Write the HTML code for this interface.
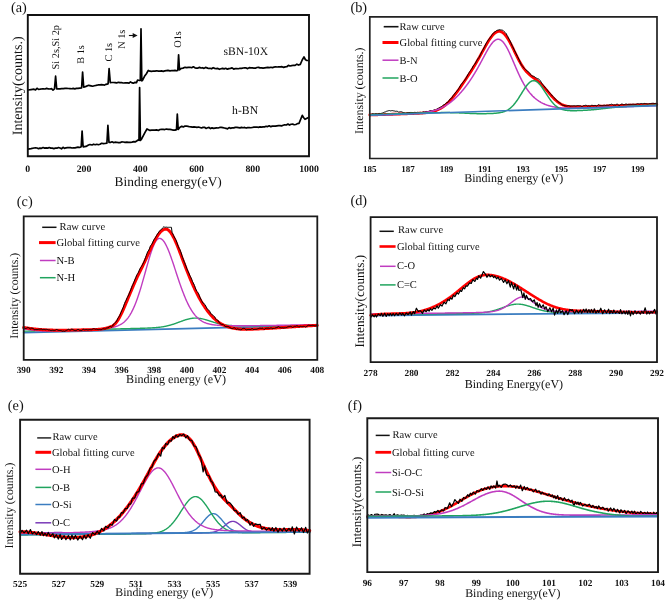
<!DOCTYPE html>
<html><head><meta charset="utf-8"><title>XPS spectra</title>
<style>
html,body{margin:0;padding:0;background:#fff;width:669px;height:602px;overflow:hidden;}
svg{display:block;will-change:transform;}
svg text{font-family:"Liberation Serif",serif;text-rendering:geometricPrecision;}
</style></head><body>
<svg width="669" height="602" viewBox="0 0 669 602">
<rect width="669" height="602" fill="#fff"/>
<text x="11" y="12" font-size="14.3" text-anchor="start" font-weight="normal" fill="#111" >(a)</text>
<path d="M28,90 L31,89.6 L34,89.2 L35.5,89.91 L37,88.31 L38.5,89.35 L40,89.2 L41.67,88.97 L43.33,88.97 L45,89.02 L46.67,88.36 L48.33,88.95 L50,89 L51.5,88.66 L53,90.1 L54.5,88.9 L55.6,76.2 L56.7,88.9 L58.35,88.93 L60,88.8 L61.67,88.64 L63.33,88.63 L65,88.47 L66.67,88.3 L68.33,88.5 L70,88.6 L71.6,88.73 L73.2,88.44 L74.8,88.82 L76.4,88.37 L78,88.4 L79.8,88.21 L81.6,88 L82.6,72.1 L83.7,87.2 L86,86.4 L88.7,85.3 L91,85.8 L92.67,86.21 L94.33,85.72 L96,85.4 L98,84.97 L100,84.9 L101.5,84.69 L103,84.79 L104.5,85.13 L106,84.3 L108.1,83.8 L109.1,68.6 L110.3,82.6 L111.87,82.51 L113.43,82.51 L115,82.6 L116.67,82.95 L118.33,82.29 L120,82.6 L121.5,82.55 L123,83.01 L124.5,82.95 L126,82.8 L127.5,82.86 L129,83.08 L130.5,81.89 L132,82.9 L133.5,83.16 L135,82.36 L136.5,82.6 L137.6,80 L139.4,80.5 L140.3,80.3 L141,28.8 L141.8,80.8 L142.6,80.2 L144.5,76.35 L146.4,73.76 L148.3,70.4 L150,71.2 L151.67,71.45 L153.33,71.04 L155,71.2 L156.67,70.79 L158.33,71.14 L160,71.1 L161.6,70.94 L163.2,71.31 L164.8,70.94 L166.4,70.61 L168,70.4 L170,70.84 L172,70.5 L173.5,70.53 L175,70.38 L176.5,70.8 L177.8,70.4 L178.6,54.8 L179.5,69.8 L181,68.5 L183,68.1 L185,67.3 L186.67,67.59 L188.33,67.39 L190,67.28 L191.67,67.71 L193.33,66.84 L195,67.8 L196.5,68.09 L198,68.07 L199.5,67.38 L201,68.02 L202.5,67.71 L204,68.37 L205.5,67.44 L207,67.88 L208.5,68.5 L210,68.3 L211.57,68.78 L213.14,67.69 L214.71,68.34 L216.29,68.7 L217.86,68.44 L219.43,69.29 L221,68.8 L222.58,68.34 L224.17,68.84 L225.75,68.31 L227.33,69.13 L228.92,68.58 L230.5,68.42 L232.08,67.91 L233.67,69.06 L235.25,68.69 L236.83,68.65 L238.42,68.74 L240,68.3 L241.54,68.39 L243.08,68.01 L244.62,67.93 L246.15,67.9 L247.69,68.63 L249.23,67.6 L250.77,67.88 L252.31,67.94 L253.85,68.1 L255.38,68.19 L256.92,67.52 L258.46,67.33 L260,67.9 L261.56,67.82 L263.11,68.17 L264.67,67.93 L266.22,67.66 L267.78,67.4 L269.33,67.54 L270.89,67.27 L272.44,67.56 L274,67.2 L275.6,66.8 L277.2,67.01 L278.8,66.8 L280.4,66.91 L282,66.68 L283.6,67.37 L285.2,66.88 L286.8,66.76 L288.4,65.41 L290,66 L291.72,65.61 L293.43,65.25 L295.15,65.39 L296.87,64.14 L298.58,65.08 L300.3,64.4 L302.2,60 L304,56.9 L305.3,59.5 L306.5,60.4 L309,60.5" fill="none" stroke="#000" stroke-width="1.7" stroke-linejoin="round" stroke-linecap="round" />
<path d="M28,149.1 L31,148.6 L34,148 L35.5,147.8 L37,147.99 L38.5,148.66 L40,148.1 L41.54,148.32 L43.08,147.51 L44.62,148.08 L46.15,147.85 L47.69,148.11 L49.23,147.49 L50.77,148.13 L52.31,148.12 L53.85,148.58 L55.38,148.13 L56.92,148.19 L58.46,147.49 L60,148 L61.5,148.77 L63,147.29 L64.5,148.33 L66,147.8 L67.5,147.59 L69,147.65 L70.5,147.62 L72,147.97 L73.5,147.78 L75,147.8 L78,147.2 L79.6,147.52 L81.2,146.8 L82.1,131 L83.1,146.8 L86,146.4 L88.5,145 L90,144.5 L92,145 L93.6,144.22 L95.2,144.72 L96.8,144.27 L98.4,144.71 L100,144.3 L101.67,143.29 L103.33,143.65 L105,143.5 L106.9,143.2 L107.9,125.4 L109,142.4 L110.5,142.42 L112,141.78 L113.5,142.59 L115,142.2 L116.67,142.28 L118.33,142.59 L120,142.59 L121.67,141.92 L123.33,142 L125,142.3 L126.75,142.18 L128.5,142.46 L130.25,142.45 L132,142.1 L133.75,141.7 L135.5,141.8 L137,140.8 L138.6,139.6 L139,140.3 L139.6,87.5 L140.4,140.4 L141.5,139.2 L143.33,135.59 L145.17,132.12 L147,129 L150,130.4 L151.67,130.13 L153.33,130.18 L155,130.2 L156.67,129.92 L158.33,130.45 L160,129.5 L161.6,129.28 L163.2,129.32 L164.8,129.54 L166.4,129.01 L168,129.3 L169.75,129.37 L171.5,129.7 L173.25,130.17 L175,130.1 L176.5,129.6 L177.3,114.1 L178.2,129.4 L180,127.2 L181.67,126.34 L183.33,126.88 L185,126 L186.5,126.03 L188,126.36 L189.5,126.75 L191,126.83 L192.5,127.12 L194,126.96 L195.5,127.04 L197,127.31 L198.5,127 L200,127.5 L201.5,127.98 L203,127.35 L204.5,127.24 L206,128.46 L207.5,127.75 L209,127.45 L210.5,128.57 L212,127.86 L213.5,128.41 L215,128.1 L216.56,127.8 L218.12,127.99 L219.69,127.47 L221.25,127.38 L222.81,127.7 L224.38,128 L225.94,128.29 L227.5,128.85 L229.06,127.63 L230.62,128.33 L232.19,127.75 L233.75,127.9 L235.31,127.42 L236.88,127.41 L238.44,127.64 L240,127.9 L241.54,127.41 L243.08,127.74 L244.62,127.42 L246.15,128.03 L247.69,127.57 L249.23,127.5 L250.77,127.76 L252.31,127.47 L253.85,127.19 L255.38,127.1 L256.92,127.01 L258.46,127.35 L260,126.9 L261.54,127.07 L263.08,126.83 L264.62,126.88 L266.15,126.31 L267.69,126.58 L269.23,125.81 L270.77,126.67 L272.31,126.13 L273.85,126.06 L275.38,126.11 L276.92,125.8 L278.46,125.61 L280,125.6 L281.58,125.83 L283.17,125.27 L284.75,124.73 L286.33,125.02 L287.92,124.09 L289.5,125.08 L291.08,124.26 L292.67,124.15 L294.25,124.74 L295.83,124.52 L297.42,123.62 L299,123.4 L301,118.5 L302.3,115.3 L303.5,117.5 L305,119.3 L307,118.2 L309,117.2" fill="none" stroke="#000" stroke-width="1.7" stroke-linejoin="round" stroke-linecap="round" />
<path d="M27.8,15 L309,15 L309,156.3 L27.8,156.3 Z" fill="none" stroke="#111" stroke-width="1.9" stroke-linejoin="miter"/>
<text x="59.5" y="47.2" font-size="10.3" text-anchor="middle" font-weight="normal" fill="#111" transform="rotate(-90 59.5 47.2)" >Si 2s,Si 2p</text>
<text x="84.2" y="54.5" font-size="10.3" text-anchor="middle" font-weight="normal" fill="#111" transform="rotate(-90 84.2 54.5)" >B 1s</text>
<text x="112.2" y="52.2" font-size="10.3" text-anchor="middle" font-weight="normal" fill="#111" transform="rotate(-90 112.2 52.2)" >C 1s</text>
<text x="124.6" y="39.2" font-size="10.3" text-anchor="middle" font-weight="normal" fill="#111" transform="rotate(-90 124.6 39.2)" >N 1s</text>
<text x="181.4" y="39.5" font-size="10.3" text-anchor="middle" font-weight="normal" fill="#111" transform="rotate(-90 181.4 39.5)" >O1s</text>
<path d="M128.9,35.5 L134,35.5" stroke="#111" stroke-width="1.1"/>
<path d="M137.6,35.5 L132.7,33.0 L132.7,38.0 Z" fill="#111"/>
<text x="223.6" y="55" font-size="11.6" text-anchor="start" font-weight="normal" fill="#111" >sBN-10X</text>
<text x="232.1" y="113.5" font-size="11.7" text-anchor="start" font-weight="normal" fill="#111" >h-BN</text>
<text x="27.8" y="171.6" font-size="9.8" text-anchor="middle" font-weight="bold" fill="#111" >0</text>
<text x="84.04" y="171.6" font-size="9.8" text-anchor="middle" font-weight="bold" fill="#111" >200</text>
<text x="140.28" y="171.6" font-size="9.8" text-anchor="middle" font-weight="bold" fill="#111" >400</text>
<text x="196.52" y="171.6" font-size="9.8" text-anchor="middle" font-weight="bold" fill="#111" >600</text>
<text x="252.76" y="171.6" font-size="9.8" text-anchor="middle" font-weight="bold" fill="#111" >800</text>
<text x="309" y="171.6" font-size="9.8" text-anchor="middle" font-weight="bold" fill="#111" >1000</text>
<text x="168.2" y="185.5" font-size="13.4" text-anchor="middle" font-weight="normal" fill="#111" >Binding energy(eV)</text>
<text x="22" y="85.8" font-size="14.1" text-anchor="middle" font-weight="normal" fill="#111" transform="rotate(-90 22 85.8)" >Intensity(counts.)</text>
<text x="350.4" y="12" font-size="14.3" text-anchor="start" font-weight="normal" fill="#111" >(b)</text>
<path d="M369.8,115.01 L370.3,114.99 L370.8,114.97 L371.3,114.96 L371.8,114.94 L372.3,114.92 L372.8,114.91 L373.3,114.89 L373.8,114.87 L374.3,114.85 L374.8,114.84 L375.3,114.82 L375.8,114.8 L376.3,114.79 L376.8,114.77 L377.3,114.75 L377.8,114.74 L378.3,114.72 L378.8,114.7 L379.3,114.69 L379.8,114.67 L380.3,114.65 L380.8,114.63 L381.3,114.62 L381.8,114.6 L382.3,114.58 L382.8,114.57 L383.3,114.55 L383.8,114.53 L384.3,114.52 L384.8,114.5 L385.3,114.48 L385.8,114.47 L386.3,114.45 L386.8,114.43 L387.3,114.42 L387.8,114.4 L388.3,114.38 L388.8,114.36 L389.3,114.35 L389.8,114.33 L390.3,114.31 L390.8,114.3 L391.3,114.28 L391.8,114.26 L392.3,114.25 L392.8,114.23 L393.3,114.21 L393.8,114.2 L394.3,114.18 L394.8,114.16 L395.3,114.14 L395.8,114.13 L396.3,114.11 L396.8,114.09 L397.3,114.08 L397.8,114.06 L398.3,114.04 L398.8,114.03 L399.3,114.01 L399.8,113.99 L400.3,113.98 L400.8,113.96 L401.3,113.94 L401.8,113.92 L402.3,113.91 L402.8,113.89 L403.3,113.87 L403.8,113.86 L404.3,113.84 L404.8,113.82 L405.3,113.8 L405.8,113.79 L406.3,113.77 L406.8,113.75 L407.3,113.73 L407.8,113.72 L408.3,113.7 L408.8,113.68 L409.3,113.66 L409.8,113.64 L410.3,113.63 L410.8,113.61 L411.3,113.59 L411.8,113.57 L412.3,113.55 L412.8,113.53 L413.3,113.51 L413.8,113.49 L414.3,113.47 L414.8,113.45 L415.3,113.43 L415.8,113.41 L416.3,113.38 L416.8,113.36 L417.3,113.33 L417.8,113.31 L418.3,113.28 L418.8,113.26 L419.3,113.23 L419.8,113.2 L420.3,113.17 L420.8,113.14 L421.3,113.1 L421.8,113.07 L422.3,113.03 L422.8,113 L423.3,112.95 L423.8,112.91 L424.3,112.87 L424.8,112.82 L425.3,112.77 L425.8,112.71 L426.3,112.66 L426.8,112.6 L427.3,112.53 L427.8,112.46 L428.3,112.39 L428.8,112.32 L429.3,112.23 L429.8,112.15 L430.3,112.06 L430.8,111.96 L431.3,111.85 L431.8,111.74 L432.3,111.63 L432.8,111.5 L433.3,111.37 L433.8,111.23 L434.3,111.09 L434.8,110.93 L435.3,110.77 L435.8,110.59 L436.3,110.41 L436.8,110.22 L437.3,110.02 L437.8,109.8 L438.3,109.58 L438.8,109.34 L439.3,109.09 L439.8,108.84 L440.3,108.56 L440.8,108.28 L441.3,107.98 L441.8,107.67 L442.3,107.35 L442.8,107.01 L443.3,106.66 L443.8,106.3 L444.3,105.92 L444.8,105.53 L445.3,105.12 L445.8,104.7 L446.3,104.27 L446.8,103.82 L447.3,103.36 L447.8,102.89 L448.3,102.4 L448.8,101.9 L449.3,101.38 L449.8,100.85 L450.3,100.31 L450.8,99.76 L451.3,99.19 L451.8,98.61 L452.3,98.02 L452.8,97.42 L453.3,96.81 L453.8,96.19 L454.3,95.56 L454.8,94.92 L455.3,94.27 L455.8,93.61 L456.3,92.95 L456.8,92.28 L457.3,91.6 L457.8,90.91 L458.3,90.22 L458.8,89.52 L459.3,88.82 L459.8,88.11 L460.3,87.4 L460.8,86.68 L461.3,85.96 L461.8,85.24 L462.3,84.51 L462.8,83.78 L463.3,83.05 L463.8,82.31 L464.3,81.57 L464.8,80.83 L465.3,80.09 L465.8,79.34 L466.3,78.59 L466.8,77.83 L467.3,77.08 L467.8,76.32 L468.3,75.56 L468.8,74.79 L469.3,74.02 L469.8,73.24 L470.3,72.46 L470.8,71.68 L471.3,70.89 L471.8,70.09 L472.3,69.29 L472.8,68.48 L473.3,67.67 L473.8,66.85 L474.3,66.02 L474.8,65.19 L475.3,64.35 L475.8,63.5 L476.3,62.65 L476.8,61.79 L477.3,60.92 L477.8,60.04 L478.3,59.16 L478.8,58.28 L479.3,57.38 L479.8,56.49 L480.3,55.58 L480.8,54.68 L481.3,53.77 L481.8,52.86 L482.3,51.95 L482.8,51.03 L483.3,50.12 L483.8,49.21 L484.3,48.31 L484.8,47.41 L485.3,46.52 L485.8,45.63 L486.3,44.76 L486.8,43.89 L487.3,43.04 L487.8,42.21 L488.3,41.39 L488.8,40.59 L489.3,39.81 L489.8,39.06 L490.3,38.32 L490.8,37.62 L491.3,36.94 L491.8,36.3 L492.3,35.68 L492.8,35.1 L493.3,34.56 L493.8,34.05 L494.3,33.58 L494.8,33.16 L495.3,32.77 L495.8,32.43 L496.3,32.13 L496.8,31.88 L497.3,31.68 L497.8,31.52 L498.3,31.42 L498.8,31.36 L499.3,31.35 L499.8,31.4 L500.3,31.49 L500.8,31.64 L501.3,31.83 L501.8,32.08 L502.3,32.38 L502.8,32.72 L503.3,33.12 L503.8,33.56 L504.3,34.05 L504.8,34.59 L505.3,35.17 L505.8,35.8 L506.3,36.46 L506.8,37.17 L507.3,37.91 L507.8,38.69 L508.3,39.5 L508.8,40.35 L509.3,41.22 L509.8,42.12 L510.3,43.05 L510.8,44 L511.3,44.97 L511.8,45.95 L512.3,46.95 L512.8,47.96 L513.3,48.98 L513.8,50.01 L514.3,51.03 L514.8,52.07 L515.3,53.09 L515.8,54.12 L516.3,55.14 L516.8,56.15 L517.3,57.14 L517.8,58.13 L518.3,59.1 L518.8,60.05 L519.3,60.98 L519.8,61.9 L520.3,62.79 L520.8,63.66 L521.3,64.5 L521.8,65.32 L522.3,66.11 L522.8,66.88 L523.3,67.62 L523.8,68.33 L524.3,69.02 L524.8,69.67 L525.3,70.31 L525.8,70.91 L526.3,71.49 L526.8,72.05 L527.3,72.58 L527.8,73.09 L528.3,73.58 L528.8,74.05 L529.3,74.5 L529.8,74.94 L530.3,75.36 L530.8,75.77 L531.3,76.16 L531.8,76.55 L532.3,76.93 L532.8,77.31 L533.3,77.68 L533.8,78.05 L534.3,78.41 L534.8,78.78 L535.3,79.16 L535.8,79.54 L536.3,79.92 L536.8,80.31 L537.3,80.71 L537.8,81.12 L538.3,81.54 L538.8,81.97 L539.3,82.41 L539.8,82.86 L540.3,83.33 L540.8,83.81 L541.3,84.3 L541.8,84.81 L542.3,85.32 L542.8,85.85 L543.3,86.39 L543.8,86.94 L544.3,87.5 L544.8,88.07 L545.3,88.65 L545.8,89.23 L546.3,89.82 L546.8,90.41 L547.3,91.01 L547.8,91.6 L548.3,92.2 L548.8,92.8 L549.3,93.39 L549.8,93.98 L550.3,94.56 L550.8,95.14 L551.3,95.71 L551.8,96.27 L552.3,96.82 L552.8,97.36 L553.3,97.89 L553.8,98.41 L554.3,98.91 L554.8,99.39 L555.3,99.87 L555.8,100.32 L556.3,100.76 L556.8,101.18 L557.3,101.59 L557.8,101.97 L558.3,102.34 L558.8,102.7 L559.3,103.03 L559.8,103.35 L560.3,103.65 L560.8,103.93 L561.3,104.2 L561.8,104.45 L562.3,104.69 L562.8,104.91 L563.3,105.11 L563.8,105.3 L564.3,105.48 L564.8,105.64 L565.3,105.79 L565.8,105.93 L566.3,106.06 L566.8,106.17 L567.3,106.28 L567.8,106.37 L568.3,106.46 L568.8,106.53 L569.3,106.6 L569.8,106.66 L570.3,106.72 L570.8,106.76 L571.3,106.8 L571.8,106.84 L572.3,106.87 L572.8,106.89 L573.3,106.91 L573.8,106.93 L574.3,106.94 L574.8,106.95 L575.3,106.96 L575.8,106.96 L576.3,106.96 L576.8,106.96 L577.3,106.96 L577.8,106.95 L578.3,106.94 L578.8,106.93 L579.3,106.92 L579.8,106.91 L580.3,106.9 L580.8,106.89 L581.3,106.88 L581.8,106.86 L582.3,106.85 L582.8,106.83 L583.3,106.82 L583.8,106.8 L584.3,106.78 L584.8,106.77 L585.3,106.75 L585.8,106.73 L586.3,106.71 L586.8,106.7 L587.3,106.68 L587.8,106.66 L588.3,106.64 L588.8,106.63 L589.3,106.61 L589.8,106.59 L590.3,106.57 L590.8,106.56 L591.3,106.54 L591.8,106.52 L592.3,106.5 L592.8,106.48 L593.3,106.47 L593.8,106.45 L594.3,106.43 L594.8,106.41 L595.3,106.4 L595.8,106.38 L596.3,106.36 L596.8,106.34 L597.3,106.33 L597.8,106.31 L598.3,106.29 L598.8,106.27 L599.3,106.26 L599.8,106.24 L600.3,106.22 L600.8,106.21 L601.3,106.19 L601.8,106.17 L602.3,106.15 L602.8,106.14 L603.3,106.12 L603.8,106.1 L604.3,106.09 L604.8,106.07 L605.3,106.05 L605.8,106.03 L606.3,106.02 L606.8,106 L607.3,105.98 L607.8,105.97 L608.3,105.95 L608.8,105.93 L609.3,105.91 L609.8,105.9 L610.3,105.88 L610.8,105.86 L611.3,105.85 L611.8,105.83 L612.3,105.81 L612.8,105.8 L613.3,105.78 L613.8,105.76 L614.3,105.74 L614.8,105.73 L615.3,105.71 L615.8,105.69 L616.3,105.68 L616.8,105.66 L617.3,105.64 L617.8,105.63 L618.3,105.61 L618.8,105.59 L619.3,105.57 L619.8,105.56 L620.3,105.54 L620.8,105.52 L621.3,105.51 L621.8,105.49 L622.3,105.47 L622.8,105.46 L623.3,105.44 L623.8,105.42 L624.3,105.41 L624.8,105.39 L625.3,105.37 L625.8,105.35 L626.3,105.34 L626.8,105.32 L627.3,105.3 L627.8,105.29 L628.3,105.27 L628.8,105.25 L629.3,105.24 L629.8,105.22 L630.3,105.2 L630.8,105.19 L631.3,105.17 L631.8,105.15 L632.3,105.13 L632.8,105.12 L633.3,105.1 L633.8,105.08 L634.3,105.07 L634.8,105.05 L635.3,105.03 L635.8,105.02 L636.3,105 L636.8,104.98 L637.3,104.97 L637.8,104.95 L638.3,104.93 L638.8,104.92 L639.3,104.9 L639.8,104.88 L640.3,104.86 L640.8,104.85 L641.3,104.83 L641.8,104.81 L642.3,104.8 L642.8,104.78 L643.3,104.76 L643.8,104.75 L644.3,104.73 L644.8,104.71 L645.3,104.7 L645.8,104.68 L646.3,104.66 L646.8,104.64 L647.3,104.63 L647.8,104.61 L648.3,104.59 L648.8,104.58 L649.3,104.56 L649.8,104.54 L650.3,104.53 L650.8,104.51 L651.3,104.49 L651.8,104.48 L652.3,104.46 L652.8,104.44 L653.3,104.43 L653.8,104.41 L654.3,104.39 L654.8,104.37 L655.3,104.36 L655.8,104.34 L656.3,104.32 L656.8,104.31" fill="none" stroke="#ff0000" stroke-width="2.8" stroke-linejoin="round" stroke-linecap="round" />
<path d="M369.8,114.25 L370.5,114.44 L371.2,114.32 L371.9,114 L372.6,113.68 L373.3,113.84 L374,113.85 L374.7,114.04 L375.4,113.59 L376.1,113.83 L376.8,113.65 L377.5,114.04 L378.2,113.69 L378.9,113.58 L379.6,113.46 L380.3,113.54 L381,113.46 L381.7,113.24 L382.4,113.07 L383.1,112.8 L383.8,112.38 L384.5,112.14 L385.2,111.97 L385.9,111.68 L386.6,111.24 L387.3,111.06 L388,110.97 L388.7,110.65 L389.4,110.56 L390.1,110.77 L390.8,110.88 L391.5,110.67 L392.2,110.55 L392.9,110.72 L393.6,110.85 L394.3,110.96 L395,111.14 L395.7,111.3 L396.4,111.22 L397.1,111.28 L397.8,111.53 L398.5,112.04 L399.2,111.92 L399.9,111.92 L400.6,111.72 L401.3,111.76 L402,112 L402.7,112.31 L403.4,112.55 L404.1,112.82 L404.8,112.9 L405.5,113.16 L406.2,113 L406.9,113.03 L407.6,112.68 L408.3,112.71 L409,112.63 L409.7,112.54 L410.4,112.47 L411.1,112.3 L411.8,112.72 L412.5,112.56 L413.2,112.57 L413.9,112.47 L414.6,112.36 L415.3,112.44 L416,112.33 L416.7,112.53 L417.4,112.31 L418.1,112.48 L418.8,112.46 L419.5,112.48 L420.2,112.36 L420.9,112.43 L421.6,112.72 L422.3,112.29 L423,112.17 L423.7,111.88 L424.4,112.07 L425.1,111.68 L425.8,111.74 L426.5,111.46 L427.2,111.64 L427.9,111.56 L428.6,111.39 L429.3,111.13 L430,110.56 L430.7,110.72 L431.4,110.87 L432.1,111.27 L432.8,110.73 L433.5,110.16 L434.2,109.71 L434.9,110.05 L435.6,109.97 L436.3,109.44 L437,108.92 L437.7,108.53 L438.4,108.29 L439.1,107.76 L439.8,107.45 L440.5,107.14 L441.2,106.85 L441.9,106.31 L442.6,105.57 L443.3,105.02 L444,104.75 L444.7,104.4 L445.4,103.67 L446.1,103.1 L446.8,102.6 L447.5,102.56 L448.2,101.66 L448.9,100.79 L449.6,99.44 L450.3,98.91 L451,98.65 L451.7,97.96 L452.4,96.79 L453.1,95.61 L453.8,94.74 L454.5,93.92 L455.2,92.85 L455.9,92.11 L456.6,91.41 L457.3,90.52 L458,89.69 L458.7,88.45 L459.4,87.52 L460.1,86 L460.8,84.82 L461.5,83.89 L462.2,83.14 L462.9,82.47 L463.6,81.4 L464.3,80.69 L465,79.7 L465.7,78.73 L466.4,77.44 L467.1,76.12 L467.8,74.75 L468.5,73.62 L469.2,72.47 L469.9,71.41 L470.6,70.39 L471.3,69.52 L472,68.44 L472.7,67 L473.4,65.8 L474.1,64.75 L474.8,64.11 L475.5,63.04 L476.2,61.7 L476.9,60.18 L477.6,59.21 L478.3,58.22 L479,57.42 L479.7,56.18 L480.4,54.65 L481.1,53.13 L481.8,51.56 L482.5,50.52 L483.2,49.28 L483.9,47.96 L484.6,46.63 L485.3,45.02 L486,43.72 L486.7,42.35 L487.4,41.44 L488.1,40.23 L488.8,39.34 L489.5,38.38 L490.2,37.47 L490.9,36.43 L491.6,35.38 L492.3,34.38 L493,33.49 L493.7,32.66 L494.4,32.15 L495.1,31.6 L495.8,31.3 L496.5,30.6 L497.2,30.43 L497.9,29.97 L498.6,29.93 L499.3,29.67 L500,29.71 L500.7,29.95 L501.4,30.01 L502.1,30.11 L502.8,30.18 L503.5,30.88 L504.2,31.6 L504.9,32.24 L505.6,32.88 L506.3,33.64 L507,35.33 L507.7,36.34 L508.4,38.02 L509.1,39.17 L509.8,40.56 L510.5,41.92 L511.2,43.39 L511.9,45.13 L512.6,46.55 L513.3,47.98 L514,49.38 L514.7,50.86 L515.4,52.15 L516.1,53.72 L516.8,54.99 L517.5,56.65 L518.2,57.94 L518.9,59.39 L519.6,60.75 L520.3,62.51 L521,64.17 L521.7,65.22 L522.4,66.16 L523.1,66.91 L523.8,67.89 L524.5,68.6 L525.2,69.04 L525.9,69.81 L526.6,70.29 L527.3,71.23 L528,71.57 L528.7,72.1 L529.4,72.66 L530.1,73.63 L530.8,74.74 L531.5,75.44 L532.2,76 L532.9,76.16 L533.6,76.29 L534.3,76.56 L535,77.07 L535.7,77.69 L536.4,78.05 L537.1,78.43 L537.8,78.75 L538.5,78.93 L539.2,79.38 L539.9,80.2 L540.6,81.2 L541.3,82.29 L542,83.54 L542.7,84.44 L543.4,85.3 L544.1,86.04 L544.8,87.1 L545.5,88.01 L546.2,88.62 L546.9,89.47 L547.6,90.48 L548.3,91.52 L549,92.12 L549.7,92.71 L550.4,93.61 L551.1,94.6 L551.8,95.2 L552.5,96.05 L553.2,96.55 L553.9,97.5 L554.6,97.99 L555.3,98.75 L556,99.62 L556.7,100.41 L557.4,101.13 L558.1,101.7 L558.8,102.21 L559.5,102.68 L560.2,103.01 L560.9,103.62 L561.6,104.48 L562.3,104.99 L563,105.24 L563.7,105.44 L564.4,105.55 L565.1,105.87 L565.8,105.89 L566.5,106.02 L567.2,105.94 L567.9,105.75 L568.6,105.6 L569.3,105.79 L570,106.05 L570.7,106.14 L571.4,105.95 L572.1,105.83 L572.8,105.95 L573.5,105.79 L574.2,105.93 L574.9,105.62 L575.6,105.97 L576.3,105.83 L577,105.83 L577.7,105.55 L578.4,105.56 L579.1,105.85 L579.8,105.68 L580.5,105.79 L581.2,106.38 L581.9,106.33 L582.6,106.3 L583.3,105.6 L584,105.83 L584.7,105.44 L585.4,105.27 L586.1,105.29 L586.8,105.57 L587.5,106.03 L588.2,105.8 L588.9,105.81 L589.6,106.01 L590.3,105.98 L591,105.76 L591.7,105.23 L592.4,105.33 L593.1,105.61 L593.8,105.61 L594.5,105.46 L595.2,105.33 L595.9,105.74 L596.6,106.07 L597.3,105.52 L598,105.02 L598.7,104.62 L599.4,105.19 L600.1,105.16 L600.8,105.62 L601.5,105.65 L602.2,105.81 L602.9,105.48 L603.6,105.29 L604.3,105.17 L605,105.34 L605.7,105.41 L606.4,105.27 L607.1,105.24 L607.8,105.16 L608.5,105.18 L609.2,104.8 L609.9,104.65 L610.6,104.52 L611.3,104.15 L612,104.4 L612.7,104.59 L613.4,105.01 L614.1,104.99 L614.8,104.95 L615.5,105.02 L616.2,104.39 L616.9,104.25 L617.6,104.26 L618.3,104.94 L619,105.27 L619.7,105.41 L620.4,104.9 L621.1,104.18 L621.8,104.01 L622.5,104.19 L623.2,104.71 L623.9,104.57 L624.6,104.58 L625.3,104.13 L626,104.2 L626.7,104.07 L627.4,104.36 L628.1,104.34 L628.8,104.37 L629.5,104.34 L630.2,104.24 L630.9,104.37 L631.6,104.37 L632.3,104.26 L633,104 L633.7,104.19 L634.4,104.25 L635.1,104.5 L635.8,104.24 L636.5,104.14 L637.2,103.81 L637.9,103.74 L638.6,103.86 L639.3,104.07 L640,103.81 L640.7,103.63 L641.4,103.49 L642.1,103.96 L642.8,103.63 L643.5,103.7 L644.2,103.31 L644.9,103.77 L645.6,103.58 L646.3,103.71 L647,103.89 L647.7,104.01 L648.4,104 L649.1,103.77 L649.8,103.55 L650.5,103.55 L651.2,103.42 L651.9,103.39 L652.6,103.27 L653.3,103.24 L654,103.49 L654.7,103.46 L655.4,103.39 L656.1,103.48 L656.8,103.47" fill="none" stroke="#000" stroke-width="1.0" stroke-linejoin="round" stroke-linecap="round" />
<path d="M369.8,115.31 L370.3,115.29 L370.8,115.27 L371.3,115.26 L371.8,115.24 L372.3,115.22 L372.8,115.21 L373.3,115.19 L373.8,115.17 L374.3,115.15 L374.8,115.14 L375.3,115.12 L375.8,115.1 L376.3,115.09 L376.8,115.07 L377.3,115.05 L377.8,115.04 L378.3,115.02 L378.8,115 L379.3,114.98 L379.8,114.97 L380.3,114.95 L380.8,114.93 L381.3,114.92 L381.8,114.9 L382.3,114.88 L382.8,114.87 L383.3,114.85 L383.8,114.83 L384.3,114.81 L384.8,114.8 L385.3,114.78 L385.8,114.76 L386.3,114.75 L386.8,114.73 L387.3,114.71 L387.8,114.69 L388.3,114.68 L388.8,114.66 L389.3,114.64 L389.8,114.62 L390.3,114.61 L390.8,114.59 L391.3,114.57 L391.8,114.55 L392.3,114.54 L392.8,114.52 L393.3,114.5 L393.8,114.48 L394.3,114.46 L394.8,114.45 L395.3,114.43 L395.8,114.41 L396.3,114.39 L396.8,114.37 L397.3,114.35 L397.8,114.34 L398.3,114.32 L398.8,114.3 L399.3,114.28 L399.8,114.26 L400.3,114.24 L400.8,114.22 L401.3,114.2 L401.8,114.18 L402.3,114.16 L402.8,114.14 L403.3,114.12 L403.8,114.1 L404.3,114.08 L404.8,114.05 L405.3,114.03 L405.8,114.01 L406.3,113.99 L406.8,113.96 L407.3,113.94 L407.8,113.91 L408.3,113.89 L408.8,113.86 L409.3,113.84 L409.8,113.81 L410.3,113.78 L410.8,113.76 L411.3,113.73 L411.8,113.7 L412.3,113.67 L412.8,113.64 L413.3,113.61 L413.8,113.57 L414.3,113.54 L414.8,113.5 L415.3,113.47 L415.8,113.43 L416.3,113.39 L416.8,113.35 L417.3,113.31 L417.8,113.27 L418.3,113.23 L418.8,113.18 L419.3,113.14 L419.8,113.09 L420.3,113.04 L420.8,112.98 L421.3,112.93 L421.8,112.87 L422.3,112.82 L422.8,112.76 L423.3,112.69 L423.8,112.63 L424.3,112.56 L424.8,112.49 L425.3,112.42 L425.8,112.34 L426.3,112.27 L426.8,112.18 L427.3,112.1 L427.8,112.01 L428.3,111.92 L428.8,111.83 L429.3,111.73 L429.8,111.63 L430.3,111.52 L430.8,111.41 L431.3,111.29 L431.8,111.18 L432.3,111.05 L432.8,110.93 L433.3,110.79 L433.8,110.66 L434.3,110.51 L434.8,110.37 L435.3,110.21 L435.8,110.05 L436.3,109.89 L436.8,109.72 L437.3,109.55 L437.8,109.36 L438.3,109.18 L438.8,108.98 L439.3,108.78 L439.8,108.57 L440.3,108.36 L440.8,108.14 L441.3,107.91 L441.8,107.67 L442.3,107.43 L442.8,107.18 L443.3,106.92 L443.8,106.66 L444.3,106.38 L444.8,106.1 L445.3,105.81 L445.8,105.51 L446.3,105.21 L446.8,104.89 L447.3,104.57 L447.8,104.24 L448.3,103.9 L448.8,103.55 L449.3,103.19 L449.8,102.83 L450.3,102.45 L450.8,102.07 L451.3,101.67 L451.8,101.27 L452.3,100.86 L452.8,100.44 L453.3,100.01 L453.8,99.57 L454.3,99.13 L454.8,98.67 L455.3,98.2 L455.8,97.73 L456.3,97.25 L456.8,96.76 L457.3,96.25 L457.8,95.74 L458.3,95.22 L458.8,94.7 L459.3,94.16 L459.8,93.61 L460.3,93.06 L460.8,92.5 L461.3,91.92 L461.8,91.34 L462.3,90.75 L462.8,90.16 L463.3,89.55 L463.8,88.93 L464.3,88.31 L464.8,87.68 L465.3,87.03 L465.8,86.38 L466.3,85.72 L466.8,85.05 L467.3,84.38 L467.8,83.69 L468.3,82.99 L468.8,82.29 L469.3,81.57 L469.8,80.85 L470.3,80.11 L470.8,79.37 L471.3,78.61 L471.8,77.85 L472.3,77.07 L472.8,76.29 L473.3,75.5 L473.8,74.69 L474.3,73.88 L474.8,73.05 L475.3,72.21 L475.8,71.37 L476.3,70.51 L476.8,69.65 L477.3,68.78 L477.8,67.89 L478.3,67 L478.8,66.1 L479.3,65.19 L479.8,64.28 L480.3,63.36 L480.8,62.43 L481.3,61.5 L481.8,60.56 L482.3,59.63 L482.8,58.69 L483.3,57.75 L483.8,56.81 L484.3,55.88 L484.8,54.95 L485.3,54.03 L485.8,53.11 L486.3,52.21 L486.8,51.32 L487.3,50.44 L487.8,49.57 L488.3,48.73 L488.8,47.91 L489.3,47.11 L489.8,46.34 L490.3,45.59 L490.8,44.87 L491.3,44.19 L491.8,43.54 L492.3,42.93 L492.8,42.36 L493.3,41.83 L493.8,41.35 L494.3,40.91 L494.8,40.52 L495.3,40.17 L495.8,39.88 L496.3,39.65 L496.8,39.46 L497.3,39.34 L497.8,39.27 L498.3,39.25 L498.8,39.3 L499.3,39.4 L499.8,39.56 L500.3,39.78 L500.8,40.06 L501.3,40.39 L501.8,40.79 L502.3,41.24 L502.8,41.74 L503.3,42.3 L503.8,42.91 L504.3,43.58 L504.8,44.29 L505.3,45.05 L505.8,45.85 L506.3,46.7 L506.8,47.59 L507.3,48.51 L507.8,49.47 L508.3,50.47 L508.8,51.49 L509.3,52.54 L509.8,53.62 L510.3,54.72 L510.8,55.83 L511.3,56.97 L511.8,58.11 L512.3,59.27 L512.8,60.43 L513.3,61.61 L513.8,62.78 L514.3,63.95 L514.8,65.13 L515.3,66.3 L515.8,67.46 L516.3,68.61 L516.8,69.76 L517.3,70.89 L517.8,72.01 L518.3,73.12 L518.8,74.21 L519.3,75.28 L519.8,76.33 L520.3,77.37 L520.8,78.38 L521.3,79.38 L521.8,80.35 L522.3,81.3 L522.8,82.23 L523.3,83.14 L523.8,84.02 L524.3,84.88 L524.8,85.71 L525.3,86.53 L525.8,87.32 L526.3,88.09 L526.8,88.83 L527.3,89.56 L527.8,90.26 L528.3,90.94 L528.8,91.6 L529.3,92.24 L529.8,92.86 L530.3,93.45 L530.8,94.03 L531.3,94.59 L531.8,95.13 L532.3,95.66 L532.8,96.17 L533.3,96.65 L533.8,97.13 L534.3,97.59 L534.8,98.03 L535.3,98.45 L535.8,98.87 L536.3,99.26 L536.8,99.65 L537.3,100.02 L537.8,100.38 L538.3,100.72 L538.8,101.06 L539.3,101.38 L539.8,101.69 L540.3,101.99 L540.8,102.28 L541.3,102.56 L541.8,102.82 L542.3,103.08 L542.8,103.33 L543.3,103.57 L543.8,103.8 L544.3,104.02 L544.8,104.24 L545.3,104.44 L545.8,104.64 L546.3,104.83 L546.8,105.01 L547.3,105.19 L547.8,105.35 L548.3,105.51 L548.8,105.67 L549.3,105.82 L549.8,105.96 L550.3,106.09 L550.8,106.22 L551.3,106.35 L551.8,106.46 L552.3,106.58 L552.8,106.68 L553.3,106.78 L553.8,106.88 L554.3,106.97 L554.8,107.06 L555.3,107.15 L555.8,107.22 L556.3,107.3 L556.8,107.37 L557.3,107.44 L557.8,107.5 L558.3,107.56 L558.8,107.62 L559.3,107.67 L559.8,107.72 L560.3,107.76 L560.8,107.81 L561.3,107.85 L561.8,107.88 L562.3,107.92 L562.8,107.95 L563.3,107.98 L563.8,108.01 L564.3,108.04 L564.8,108.06 L565.3,108.08 L565.8,108.1 L566.3,108.12 L566.8,108.13 L567.3,108.15 L567.8,108.16 L568.3,108.17 L568.8,108.18 L569.3,108.19 L569.8,108.19 L570.3,108.2 L570.8,108.2 L571.3,108.2 L571.8,108.21 L572.3,108.21 L572.8,108.21 L573.3,108.2 L573.8,108.2 L574.3,108.2 L574.8,108.19 L575.3,108.19 L575.8,108.18 L576.3,108.18 L576.8,108.17 L577.3,108.16 L577.8,108.16 L578.3,108.15 L578.8,108.14 L579.3,108.13 L579.8,108.12 L580.3,108.11 L580.8,108.1 L581.3,108.09 L581.8,108.07 L582.3,108.06 L582.8,108.05 L583.3,108.04 L583.8,108.02 L584.3,108.01 L584.8,108 L585.3,107.98 L585.8,107.97 L586.3,107.95 L586.8,107.94 L587.3,107.93 L587.8,107.91 L588.3,107.9 L588.8,107.88 L589.3,107.87 L589.8,107.85 L590.3,107.84 L590.8,107.82 L591.3,107.8 L591.8,107.79 L592.3,107.77 L592.8,107.76 L593.3,107.74 L593.8,107.73 L594.3,107.71 L594.8,107.69 L595.3,107.68 L595.8,107.66 L596.3,107.64 L596.8,107.63 L597.3,107.61 L597.8,107.6 L598.3,107.58 L598.8,107.56 L599.3,107.55 L599.8,107.53 L600.3,107.51 L600.8,107.5 L601.3,107.48 L601.8,107.46 L602.3,107.45 L602.8,107.43 L603.3,107.41 L603.8,107.4 L604.3,107.38 L604.8,107.36 L605.3,107.35 L605.8,107.33 L606.3,107.31 L606.8,107.3 L607.3,107.28 L607.8,107.26 L608.3,107.25 L608.8,107.23 L609.3,107.21 L609.8,107.19 L610.3,107.18 L610.8,107.16 L611.3,107.14 L611.8,107.13 L612.3,107.11 L612.8,107.09 L613.3,107.08 L613.8,107.06 L614.3,107.04 L614.8,107.03 L615.3,107.01 L615.8,106.99 L616.3,106.98 L616.8,106.96 L617.3,106.94 L617.8,106.92 L618.3,106.91 L618.8,106.89 L619.3,106.87 L619.8,106.86 L620.3,106.84 L620.8,106.82 L621.3,106.81 L621.8,106.79 L622.3,106.77 L622.8,106.76 L623.3,106.74 L623.8,106.72 L624.3,106.71 L624.8,106.69 L625.3,106.67 L625.8,106.65 L626.3,106.64 L626.8,106.62 L627.3,106.6 L627.8,106.59 L628.3,106.57 L628.8,106.55 L629.3,106.54 L629.8,106.52 L630.3,106.5 L630.8,106.49 L631.3,106.47 L631.8,106.45 L632.3,106.43 L632.8,106.42 L633.3,106.4 L633.8,106.38 L634.3,106.37 L634.8,106.35 L635.3,106.33 L635.8,106.32 L636.3,106.3 L636.8,106.28 L637.3,106.27 L637.8,106.25 L638.3,106.23 L638.8,106.22 L639.3,106.2 L639.8,106.18 L640.3,106.16 L640.8,106.15 L641.3,106.13 L641.8,106.11 L642.3,106.1 L642.8,106.08 L643.3,106.06 L643.8,106.05 L644.3,106.03 L644.8,106.01 L645.3,106 L645.8,105.98 L646.3,105.96 L646.8,105.94 L647.3,105.93 L647.8,105.91 L648.3,105.89 L648.8,105.88 L649.3,105.86 L649.8,105.84 L650.3,105.83 L650.8,105.81 L651.3,105.79 L651.8,105.78 L652.3,105.76 L652.8,105.74 L653.3,105.73 L653.8,105.71 L654.3,105.69 L654.8,105.67 L655.3,105.66 L655.8,105.64 L656.3,105.62 L656.8,105.61" fill="none" stroke="#c03cc0" stroke-width="1.5" stroke-linejoin="round" stroke-linecap="round" />
<path d="M369.8,114.71 L370.3,114.69 L370.8,114.68 L371.3,114.66 L371.8,114.64 L372.3,114.63 L372.8,114.61 L373.3,114.59 L373.8,114.58 L374.3,114.56 L374.8,114.54 L375.3,114.53 L375.8,114.51 L376.3,114.49 L376.8,114.48 L377.3,114.46 L377.8,114.44 L378.3,114.43 L378.8,114.41 L379.3,114.39 L379.8,114.38 L380.3,114.36 L380.8,114.34 L381.3,114.33 L381.8,114.31 L382.3,114.29 L382.8,114.27 L383.3,114.26 L383.8,114.24 L384.3,114.22 L384.8,114.21 L385.3,114.19 L385.8,114.17 L386.3,114.16 L386.8,114.14 L387.3,114.12 L387.8,114.11 L388.3,114.09 L388.8,114.07 L389.3,114.06 L389.8,114.04 L390.3,114.03 L390.8,114.01 L391.3,113.99 L391.8,113.98 L392.3,113.96 L392.8,113.94 L393.3,113.93 L393.8,113.91 L394.3,113.89 L394.8,113.88 L395.3,113.86 L395.8,113.84 L396.3,113.83 L396.8,113.81 L397.3,113.79 L397.8,113.78 L398.3,113.76 L398.8,113.74 L399.3,113.73 L399.8,113.71 L400.3,113.7 L400.8,113.68 L401.3,113.66 L401.8,113.65 L402.3,113.63 L402.8,113.61 L403.3,113.6 L403.8,113.58 L404.3,113.57 L404.8,113.55 L405.3,113.53 L405.8,113.52 L406.3,113.5 L406.8,113.49 L407.3,113.47 L407.8,113.45 L408.3,113.44 L408.8,113.42 L409.3,113.41 L409.8,113.39 L410.3,113.37 L410.8,113.36 L411.3,113.34 L411.8,113.33 L412.3,113.31 L412.8,113.3 L413.3,113.28 L413.8,113.27 L414.3,113.25 L414.8,113.23 L415.3,113.22 L415.8,113.2 L416.3,113.19 L416.8,113.17 L417.3,113.16 L417.8,113.14 L418.3,113.13 L418.8,113.11 L419.3,113.1 L419.8,113.09 L420.3,113.07 L420.8,113.06 L421.3,113.04 L421.8,113.03 L422.3,113.01 L422.8,113 L423.3,112.99 L423.8,112.97 L424.3,112.96 L424.8,112.94 L425.3,112.93 L425.8,112.92 L426.3,112.9 L426.8,112.89 L427.3,112.88 L427.8,112.87 L428.3,112.85 L428.8,112.84 L429.3,112.83 L429.8,112.82 L430.3,112.8 L430.8,112.79 L431.3,112.78 L431.8,112.77 L432.3,112.76 L432.8,112.75 L433.3,112.74 L433.8,112.73 L434.3,112.72 L434.8,112.71 L435.3,112.7 L435.8,112.69 L436.3,112.68 L436.8,112.67 L437.3,112.67 L437.8,112.66 L438.3,112.65 L438.8,112.64 L439.3,112.64 L439.8,112.63 L440.3,112.63 L440.8,112.62 L441.3,112.62 L441.8,112.61 L442.3,112.61 L442.8,112.6 L443.3,112.6 L443.8,112.6 L444.3,112.6 L444.8,112.6 L445.3,112.6 L445.8,112.6 L446.3,112.6 L446.8,112.6 L447.3,112.6 L447.8,112.6 L448.3,112.61 L448.8,112.61 L449.3,112.62 L449.8,112.62 L450.3,112.63 L450.8,112.64 L451.3,112.64 L451.8,112.65 L452.3,112.66 L452.8,112.67 L453.3,112.68 L453.8,112.7 L454.3,112.71 L454.8,112.72 L455.3,112.74 L455.8,112.75 L456.3,112.77 L456.8,112.79 L457.3,112.81 L457.8,112.82 L458.3,112.84 L458.8,112.86 L459.3,112.89 L459.8,112.91 L460.3,112.93 L460.8,112.95 L461.3,112.97 L461.8,113 L462.3,113.02 L462.8,113.05 L463.3,113.07 L463.8,113.1 L464.3,113.12 L464.8,113.15 L465.3,113.17 L465.8,113.2 L466.3,113.22 L466.8,113.25 L467.3,113.27 L467.8,113.3 L468.3,113.32 L468.8,113.35 L469.3,113.37 L469.8,113.39 L470.3,113.42 L470.8,113.44 L471.3,113.46 L471.8,113.48 L472.3,113.5 L472.8,113.52 L473.3,113.53 L473.8,113.55 L474.3,113.56 L474.8,113.58 L475.3,113.59 L475.8,113.61 L476.3,113.62 L476.8,113.63 L477.3,113.64 L477.8,113.65 L478.3,113.65 L478.8,113.66 L479.3,113.66 L479.8,113.67 L480.3,113.67 L480.8,113.67 L481.3,113.67 L481.8,113.67 L482.3,113.67 L482.8,113.67 L483.3,113.67 L483.8,113.66 L484.3,113.66 L484.8,113.65 L485.3,113.65 L485.8,113.64 L486.3,113.63 L486.8,113.62 L487.3,113.61 L487.8,113.6 L488.3,113.58 L488.8,113.57 L489.3,113.56 L489.8,113.54 L490.3,113.52 L490.8,113.5 L491.3,113.48 L491.8,113.46 L492.3,113.43 L492.8,113.41 L493.3,113.38 L493.8,113.35 L494.3,113.32 L494.8,113.28 L495.3,113.24 L495.8,113.2 L496.3,113.15 L496.8,113.1 L497.3,113.05 L497.8,112.99 L498.3,112.92 L498.8,112.85 L499.3,112.78 L499.8,112.69 L500.3,112.6 L500.8,112.5 L501.3,112.39 L501.8,112.28 L502.3,112.15 L502.8,112.01 L503.3,111.86 L503.8,111.7 L504.3,111.53 L504.8,111.34 L505.3,111.13 L505.8,110.91 L506.3,110.68 L506.8,110.42 L507.3,110.15 L507.8,109.86 L508.3,109.55 L508.8,109.22 L509.3,108.87 L509.8,108.49 L510.3,108.1 L510.8,107.68 L511.3,107.23 L511.8,106.77 L512.3,106.27 L512.8,105.76 L513.3,105.22 L513.8,104.65 L514.3,104.06 L514.8,103.45 L515.3,102.82 L515.8,102.16 L516.3,101.48 L516.8,100.78 L517.3,100.06 L517.8,99.32 L518.3,98.57 L518.8,97.8 L519.3,97.01 L519.8,96.22 L520.3,95.42 L520.8,94.61 L521.3,93.8 L521.8,92.99 L522.3,92.18 L522.8,91.37 L523.3,90.57 L523.8,89.78 L524.3,89.01 L524.8,88.25 L525.3,87.51 L525.8,86.8 L526.3,86.11 L526.8,85.45 L527.3,84.82 L527.8,84.23 L528.3,83.67 L528.8,83.16 L529.3,82.69 L529.8,82.26 L530.3,81.88 L530.8,81.55 L531.3,81.27 L531.8,81.05 L532.3,80.87 L532.8,80.75 L533.3,80.69 L533.8,80.67 L534.3,80.72 L534.8,80.81 L535.3,80.97 L535.8,81.17 L536.3,81.43 L536.8,81.73 L537.3,82.09 L537.8,82.49 L538.3,82.93 L538.8,83.42 L539.3,83.95 L539.8,84.52 L540.3,85.12 L540.8,85.75 L541.3,86.41 L541.8,87.09 L542.3,87.8 L542.8,88.53 L543.3,89.28 L543.8,90.03 L544.3,90.8 L544.8,91.57 L545.3,92.35 L545.8,93.13 L546.3,93.91 L546.8,94.68 L547.3,95.45 L547.8,96.2 L548.3,96.95 L548.8,97.68 L549.3,98.4 L549.8,99.1 L550.3,99.78 L550.8,100.45 L551.3,101.09 L551.8,101.71 L552.3,102.31 L552.8,102.88 L553.3,103.43 L553.8,103.96 L554.3,104.46 L554.8,104.94 L555.3,105.39 L555.8,105.82 L556.3,106.22 L556.8,106.6 L557.3,106.96 L557.8,107.3 L558.3,107.61 L558.8,107.91 L559.3,108.18 L559.8,108.43 L560.3,108.67 L560.8,108.88 L561.3,109.08 L561.8,109.26 L562.3,109.43 L562.8,109.58 L563.3,109.72 L563.8,109.85 L564.3,109.96 L564.8,110.06 L565.3,110.16 L565.8,110.24 L566.3,110.31 L566.8,110.37 L567.3,110.43 L567.8,110.48 L568.3,110.52 L568.8,110.56 L569.3,110.59 L569.8,110.61 L570.3,110.63 L570.8,110.65 L571.3,110.66 L571.8,110.67 L572.3,110.68 L572.8,110.68 L573.3,110.68 L573.8,110.68 L574.3,110.67 L574.8,110.67 L575.3,110.66 L575.8,110.65 L576.3,110.64 L576.8,110.63 L577.3,110.61 L577.8,110.6 L578.3,110.58 L578.8,110.56 L579.3,110.54 L579.8,110.52 L580.3,110.5 L580.8,110.48 L581.3,110.46 L581.8,110.44 L582.3,110.42 L582.8,110.39 L583.3,110.37 L583.8,110.34 L584.3,110.31 L584.8,110.29 L585.3,110.26 L585.8,110.23 L586.3,110.2 L586.8,110.17 L587.3,110.14 L587.8,110.11 L588.3,110.07 L588.8,110.04 L589.3,110 L589.8,109.97 L590.3,109.93 L590.8,109.89 L591.3,109.85 L591.8,109.81 L592.3,109.77 L592.8,109.73 L593.3,109.68 L593.8,109.64 L594.3,109.59 L594.8,109.55 L595.3,109.5 L595.8,109.45 L596.3,109.4 L596.8,109.35 L597.3,109.3 L597.8,109.25 L598.3,109.19 L598.8,109.14 L599.3,109.09 L599.8,109.03 L600.3,108.97 L600.8,108.92 L601.3,108.86 L601.8,108.8 L602.3,108.74 L602.8,108.69 L603.3,108.63 L603.8,108.57 L604.3,108.51 L604.8,108.45 L605.3,108.39 L605.8,108.33 L606.3,108.27 L606.8,108.21 L607.3,108.15 L607.8,108.1 L608.3,108.04 L608.8,107.98 L609.3,107.92 L609.8,107.87 L610.3,107.81 L610.8,107.76 L611.3,107.7 L611.8,107.65 L612.3,107.6 L612.8,107.54 L613.3,107.49 L613.8,107.44 L614.3,107.39 L614.8,107.34 L615.3,107.29 L615.8,107.25 L616.3,107.2 L616.8,107.15 L617.3,107.11 L617.8,107.06 L618.3,107.02 L618.8,106.98 L619.3,106.94 L619.8,106.9 L620.3,106.86 L620.8,106.82 L621.3,106.78 L621.8,106.74 L622.3,106.7 L622.8,106.67 L623.3,106.63 L623.8,106.59 L624.3,106.56 L624.8,106.53 L625.3,106.49 L625.8,106.46 L626.3,106.43 L626.8,106.4 L627.3,106.37 L627.8,106.34 L628.3,106.31 L628.8,106.28 L629.3,106.25 L629.8,106.22 L630.3,106.19 L630.8,106.16 L631.3,106.14 L631.8,106.11 L632.3,106.08 L632.8,106.06 L633.3,106.03 L633.8,106.01 L634.3,105.98 L634.8,105.96 L635.3,105.93 L635.8,105.91 L636.3,105.88 L636.8,105.86 L637.3,105.84 L637.8,105.81 L638.3,105.79 L638.8,105.77 L639.3,105.75 L639.8,105.72 L640.3,105.7 L640.8,105.68 L641.3,105.66 L641.8,105.64 L642.3,105.62 L642.8,105.59 L643.3,105.57 L643.8,105.55 L644.3,105.53 L644.8,105.51 L645.3,105.49 L645.8,105.47 L646.3,105.45 L646.8,105.43 L647.3,105.41 L647.8,105.39 L648.3,105.37 L648.8,105.35 L649.3,105.33 L649.8,105.31 L650.3,105.29 L650.8,105.28 L651.3,105.26 L651.8,105.24 L652.3,105.22 L652.8,105.2 L653.3,105.18 L653.8,105.16 L654.3,105.14 L654.8,105.12 L655.3,105.11 L655.8,105.09 L656.3,105.07 L656.8,105.05" fill="none" stroke="#20a45e" stroke-width="1.5" stroke-linejoin="round" stroke-linecap="round" />
<path d="M369.8,115.31 L657,105.6" fill="none" stroke="#3b7dc0" stroke-width="1.6" stroke-linejoin="round" stroke-linecap="round" />
<path d="M369.8,16.8 L657,16.8 L657,158.5 L369.8,158.5 Z" fill="none" stroke="#222" stroke-width="1.7" stroke-linejoin="miter"/>
<path d="M383.7,26.7 L398.5,26.7" fill="none" stroke="#111" stroke-width="1.6" stroke-linejoin="round" stroke-linecap="butt"/>
<path d="M382.5,42.5 L398.5,42.5" fill="none" stroke="#ff0000" stroke-width="3.0" stroke-linejoin="round" stroke-linecap="butt"/>
<path d="M382.5,60.2 L398.5,60.2" fill="none" stroke="#c03cc0" stroke-width="1.5" stroke-linejoin="round" stroke-linecap="butt"/>
<path d="M382.5,78 L398.5,78" fill="none" stroke="#20a45e" stroke-width="1.5" stroke-linejoin="round" stroke-linecap="butt"/>
<text x="399.6" y="30.2" font-size="10.5" text-anchor="start" font-weight="normal" fill="#111" >Raw curve</text>
<text x="399.6" y="46" font-size="10.5" text-anchor="start" font-weight="normal" fill="#111" >Global fitting curve</text>
<text x="399.6" y="63.8" font-size="10.5" text-anchor="start" font-weight="normal" fill="#111" >B-N</text>
<text x="399.6" y="81.8" font-size="10.5" text-anchor="start" font-weight="normal" fill="#111" >B-O</text>
<text x="369.8" y="171.9" font-size="9.0" text-anchor="middle" font-weight="bold" fill="#111" >185</text>
<text x="408.09" y="171.9" font-size="9.0" text-anchor="middle" font-weight="bold" fill="#111" >187</text>
<text x="446.39" y="171.9" font-size="9.0" text-anchor="middle" font-weight="bold" fill="#111" >189</text>
<text x="484.68" y="171.9" font-size="9.0" text-anchor="middle" font-weight="bold" fill="#111" >191</text>
<text x="522.97" y="171.9" font-size="9.0" text-anchor="middle" font-weight="bold" fill="#111" >193</text>
<text x="561.27" y="171.9" font-size="9.0" text-anchor="middle" font-weight="bold" fill="#111" >195</text>
<text x="599.56" y="171.9" font-size="9.0" text-anchor="middle" font-weight="bold" fill="#111" >197</text>
<text x="637.85" y="171.9" font-size="9.0" text-anchor="middle" font-weight="bold" fill="#111" >199</text>
<text x="513.8" y="182" font-size="12.0" text-anchor="middle" font-weight="normal" fill="#111" >Binding energy (eV)</text>
<text x="363" y="90.7" font-size="11.9" text-anchor="middle" font-weight="normal" fill="#111" transform="rotate(-90 363 90.7)" >Intensity (counts.)</text>
<text x="16.8" y="206" font-size="14.3" text-anchor="start" font-weight="normal" fill="#111" >(c)</text>
<path d="M23.7,332.6 L317.3,325.4" fill="none" stroke="#3b7dc0" stroke-width="1.8" stroke-linejoin="round" stroke-linecap="round" />
<path d="M23.7,331.2 L24.2,331.19 L24.7,331.17 L25.2,331.16 L25.7,331.15 L26.2,331.14 L26.7,331.12 L27.2,331.11 L27.7,331.1 L28.2,331.09 L28.7,331.07 L29.2,331.06 L29.7,331.05 L30.2,331.04 L30.7,331.03 L31.2,331.01 L31.7,331 L32.2,330.99 L32.7,330.98 L33.2,330.96 L33.7,330.95 L34.2,330.94 L34.7,330.93 L35.2,330.92 L35.7,330.9 L36.2,330.89 L36.7,330.88 L37.2,330.87 L37.7,330.85 L38.2,330.84 L38.7,330.83 L39.2,330.82 L39.7,330.81 L40.2,330.79 L40.7,330.78 L41.2,330.77 L41.7,330.76 L42.2,330.74 L42.7,330.73 L43.2,330.72 L43.7,330.71 L44.2,330.69 L44.7,330.68 L45.2,330.67 L45.7,330.66 L46.2,330.65 L46.7,330.63 L47.2,330.62 L47.7,330.61 L48.2,330.6 L48.7,330.58 L49.2,330.57 L49.7,330.56 L50.2,330.55 L50.7,330.54 L51.2,330.52 L51.7,330.51 L52.2,330.5 L52.7,330.49 L53.2,330.47 L53.7,330.46 L54.2,330.45 L54.7,330.44 L55.2,330.43 L55.7,330.41 L56.2,330.4 L56.7,330.39 L57.2,330.38 L57.7,330.36 L58.2,330.35 L58.7,330.34 L59.2,330.33 L59.7,330.32 L60.2,330.3 L60.7,330.29 L61.2,330.28 L61.7,330.27 L62.2,330.25 L62.7,330.24 L63.2,330.23 L63.7,330.22 L64.2,330.2 L64.7,330.19 L65.2,330.18 L65.7,330.17 L66.2,330.16 L66.7,330.14 L67.2,330.13 L67.7,330.12 L68.2,330.11 L68.7,330.09 L69.2,330.08 L69.7,330.07 L70.2,330.06 L70.7,330.05 L71.2,330.03 L71.7,330.02 L72.2,330.01 L72.7,330 L73.2,329.98 L73.7,329.97 L74.2,329.96 L74.7,329.95 L75.2,329.94 L75.7,329.92 L76.2,329.91 L76.7,329.9 L77.2,329.89 L77.7,329.87 L78.2,329.86 L78.7,329.85 L79.2,329.84 L79.7,329.82 L80.2,329.81 L80.7,329.8 L81.2,329.79 L81.7,329.78 L82.2,329.76 L82.7,329.75 L83.2,329.74 L83.7,329.73 L84.2,329.71 L84.7,329.7 L85.2,329.69 L85.7,329.68 L86.2,329.67 L86.7,329.65 L87.2,329.64 L87.7,329.63 L88.2,329.62 L88.7,329.6 L89.2,329.59 L89.7,329.58 L90.2,329.57 L90.7,329.56 L91.2,329.54 L91.7,329.53 L92.2,329.52 L92.7,329.51 L93.2,329.49 L93.7,329.48 L94.2,329.47 L94.7,329.46 L95.2,329.44 L95.7,329.43 L96.2,329.42 L96.7,329.41 L97.2,329.4 L97.7,329.38 L98.2,329.37 L98.7,329.36 L99.2,329.35 L99.7,329.33 L100.2,329.32 L100.7,329.31 L101.2,329.3 L101.7,329.29 L102.2,329.27 L102.7,329.26 L103.2,329.25 L103.7,329.24 L104.2,329.22 L104.7,329.21 L105.2,329.2 L105.7,329.19 L106.2,329.18 L106.7,329.16 L107.2,329.15 L107.7,329.14 L108.2,329.13 L108.7,329.11 L109.2,329.1 L109.7,329.09 L110.2,329.08 L110.7,329.06 L111.2,329.05 L111.7,329.04 L112.2,329.03 L112.7,329.02 L113.2,329 L113.7,328.99 L114.2,328.98 L114.7,328.97 L115.2,328.95 L115.7,328.94 L116.2,328.93 L116.7,328.92 L117.2,328.91 L117.7,328.89 L118.2,328.88 L118.7,328.87 L119.2,328.86 L119.7,328.84 L120.2,328.83 L120.7,328.82 L121.2,328.81 L121.7,328.79 L122.2,328.78 L122.7,328.77 L123.2,328.76 L123.7,328.75 L124.2,328.73 L124.7,328.72 L125.2,328.71 L125.7,328.7 L126.2,328.68 L126.7,328.67 L127.2,328.66 L127.7,328.65 L128.2,328.63 L128.7,328.62 L129.2,328.61 L129.7,328.6 L130.2,328.59 L130.7,328.57 L131.2,328.56 L131.7,328.55 L132.2,328.54 L132.7,328.52 L133.2,328.51 L133.7,328.5 L134.2,328.48 L134.7,328.47 L135.2,328.46 L135.7,328.45 L136.2,328.43 L136.7,328.42 L137.2,328.41 L137.7,328.39 L138.2,328.38 L138.7,328.37 L139.2,328.35 L139.7,328.34 L140.2,328.32 L140.7,328.31 L141.2,328.3 L141.7,328.28 L142.2,328.27 L142.7,328.25 L143.2,328.23 L143.7,328.22 L144.2,328.2 L144.7,328.19 L145.2,328.17 L145.7,328.15 L146.2,328.13 L146.7,328.11 L147.2,328.09 L147.7,328.07 L148.2,328.05 L148.7,328.03 L149.2,328.01 L149.7,327.98 L150.2,327.96 L150.7,327.93 L151.2,327.91 L151.7,327.88 L152.2,327.85 L152.7,327.82 L153.2,327.79 L153.7,327.75 L154.2,327.72 L154.7,327.68 L155.2,327.64 L155.7,327.6 L156.2,327.56 L156.7,327.52 L157.2,327.47 L157.7,327.42 L158.2,327.37 L158.7,327.31 L159.2,327.26 L159.7,327.2 L160.2,327.14 L160.7,327.07 L161.2,327 L161.7,326.93 L162.2,326.85 L162.7,326.78 L163.2,326.69 L163.7,326.61 L164.2,326.52 L164.7,326.42 L165.2,326.33 L165.7,326.23 L166.2,326.12 L166.7,326.01 L167.2,325.9 L167.7,325.78 L168.2,325.66 L168.7,325.53 L169.2,325.4 L169.7,325.27 L170.2,325.13 L170.7,324.99 L171.2,324.84 L171.7,324.69 L172.2,324.54 L172.7,324.38 L173.2,324.22 L173.7,324.06 L174.2,323.89 L174.7,323.72 L175.2,323.55 L175.7,323.37 L176.2,323.19 L176.7,323.01 L177.2,322.83 L177.7,322.65 L178.2,322.46 L178.7,322.28 L179.2,322.09 L179.7,321.91 L180.2,321.72 L180.7,321.53 L181.2,321.35 L181.7,321.17 L182.2,320.98 L182.7,320.8 L183.2,320.63 L183.7,320.45 L184.2,320.28 L184.7,320.11 L185.2,319.95 L185.7,319.79 L186.2,319.64 L186.7,319.49 L187.2,319.35 L187.7,319.21 L188.2,319.08 L188.7,318.96 L189.2,318.84 L189.7,318.73 L190.2,318.63 L190.7,318.54 L191.2,318.45 L191.7,318.38 L192.2,318.31 L192.7,318.25 L193.2,318.2 L193.7,318.16 L194.2,318.13 L194.7,318.11 L195.2,318.09 L195.7,318.09 L196.2,318.1 L196.7,318.11 L197.2,318.13 L197.7,318.17 L198.2,318.21 L198.7,318.26 L199.2,318.32 L199.7,318.38 L200.2,318.46 L200.7,318.54 L201.2,318.63 L201.7,318.73 L202.2,318.83 L202.7,318.94 L203.2,319.06 L203.7,319.18 L204.2,319.31 L204.7,319.44 L205.2,319.58 L205.7,319.72 L206.2,319.87 L206.7,320.02 L207.2,320.17 L207.7,320.32 L208.2,320.48 L208.7,320.64 L209.2,320.8 L209.7,320.96 L210.2,321.12 L210.7,321.28 L211.2,321.45 L211.7,321.61 L212.2,321.77 L212.7,321.93 L213.2,322.09 L213.7,322.24 L214.2,322.4 L214.7,322.55 L215.2,322.7 L215.7,322.84 L216.2,322.99 L216.7,323.13 L217.2,323.26 L217.7,323.4 L218.2,323.53 L218.7,323.65 L219.2,323.77 L219.7,323.89 L220.2,324.01 L220.7,324.12 L221.2,324.22 L221.7,324.33 L222.2,324.42 L222.7,324.52 L223.2,324.61 L223.7,324.69 L224.2,324.77 L224.7,324.85 L225.2,324.92 L225.7,324.99 L226.2,325.06 L226.7,325.12 L227.2,325.18 L227.7,325.24 L228.2,325.29 L228.7,325.33 L229.2,325.38 L229.7,325.42 L230.2,325.46 L230.7,325.5 L231.2,325.53 L231.7,325.56 L232.2,325.59 L232.7,325.61 L233.2,325.63 L233.7,325.66 L234.2,325.67 L234.7,325.69 L235.2,325.7 L235.7,325.72 L236.2,325.73 L236.7,325.74 L237.2,325.74 L237.7,325.75 L238.2,325.76 L238.7,325.76 L239.2,325.76 L239.7,325.76 L240.2,325.77 L240.7,325.78 L241.2,325.78 L241.7,325.79 L242.2,325.8 L242.7,325.8 L243.2,325.81 L243.7,325.81 L244.2,325.82 L244.7,325.82 L245.2,325.82 L245.7,325.83 L246.2,325.83 L246.7,325.83 L247.2,325.83 L247.7,325.83 L248.2,325.83 L248.7,325.83 L249.2,325.83 L249.7,325.83 L250.2,325.83 L250.7,325.83 L251.2,325.83 L251.7,325.83 L252.2,325.83 L252.7,325.83 L253.2,325.83 L253.7,325.83 L254.2,325.82 L254.7,325.82 L255.2,325.82 L255.7,325.82 L256.2,325.82 L256.7,325.82 L257.2,325.81 L257.7,325.81 L258.2,325.81 L258.7,325.81 L259.2,325.81 L259.7,325.8 L260.2,325.8 L260.7,325.8 L261.2,325.8 L261.7,325.8 L262.2,325.79 L262.7,325.79 L263.2,325.79 L263.7,325.79 L264.2,325.79 L264.7,325.78 L265.2,325.78 L265.7,325.78 L266.2,325.78 L266.7,325.77 L267.2,325.77 L267.7,325.77 L268.2,325.77 L268.7,325.77 L269.2,325.76 L269.7,325.76 L270.2,325.76 L270.7,325.76 L271.2,325.75 L271.7,325.75 L272.2,325.75 L272.7,325.75 L273.2,325.75 L273.7,325.74 L274.2,325.74 L274.7,325.74 L275.2,325.74 L275.7,325.73 L276.2,325.73 L276.7,325.73 L277.2,325.73 L277.7,325.72 L278.2,325.72 L278.7,325.72 L279.2,325.72 L279.7,325.72 L280.2,325.71 L280.7,325.71 L281.2,325.71 L281.7,325.71 L282.2,325.7 L282.7,325.7 L283.2,325.7 L283.7,325.7 L284.2,325.7 L284.7,325.69 L285.2,325.69 L285.7,325.69 L286.2,325.69 L286.7,325.68 L287.2,325.68 L287.7,325.68 L288.2,325.68 L288.7,325.68 L289.2,325.67 L289.7,325.67 L290.2,325.67 L290.7,325.67 L291.2,325.66 L291.7,325.66 L292.2,325.66 L292.7,325.66 L293.2,325.65 L293.7,325.65 L294.2,325.65 L294.7,325.65 L295.2,325.65 L295.7,325.64 L296.2,325.64 L296.7,325.64 L297.2,325.64 L297.7,325.63 L298.2,325.63 L298.7,325.63 L299.2,325.63 L299.7,325.63 L300.2,325.62 L300.7,325.61 L301.2,325.59 L301.7,325.58 L302.2,325.57 L302.7,325.56 L303.2,325.55 L303.7,325.53 L304.2,325.52 L304.7,325.51 L305.2,325.5 L305.7,325.48 L306.2,325.47 L306.7,325.46 L307.2,325.45 L307.7,325.44 L308.2,325.42 L308.7,325.41 L309.2,325.4 L309.7,325.39 L310.2,325.37 L310.7,325.36 L311.2,325.35 L311.7,325.34 L312.2,325.33 L312.7,325.31 L313.2,325.3 L313.7,325.29 L314.2,325.28 L314.7,325.26 L315.2,325.25 L315.7,325.24 L316.2,325.23 L316.7,325.21 L317.2,325.2" fill="none" stroke="#20a45e" stroke-width="1.4" stroke-linejoin="round" stroke-linecap="round" />
<path d="M23.7,329.24 L24.2,329.24 L24.7,329.26 L25.2,329.27 L25.7,329.3 L26.2,329.33 L26.7,329.38 L27.2,329.42 L27.7,329.48 L28.2,329.53 L28.7,329.6 L29.2,329.66 L29.7,329.73 L30.2,329.8 L30.7,329.88 L31.2,329.95 L31.7,330.03 L32.2,330.1 L32.7,330.17 L33.2,330.25 L33.7,330.32 L34.2,330.39 L34.7,330.45 L35.2,330.51 L35.7,330.57 L36.2,330.63 L36.7,330.68 L37.2,330.73 L37.7,330.77 L38.2,330.81 L38.7,330.85 L39.2,330.88 L39.7,330.91 L40.2,330.93 L40.7,330.95 L41.2,330.97 L41.7,330.99 L42.2,331 L42.7,331.01 L43.2,331.02 L43.7,331.02 L44.2,331.02 L44.7,331.02 L45.2,331.02 L45.7,331.02 L46.2,331.01 L46.7,331 L47.2,331 L47.7,330.99 L48.2,330.98 L48.7,330.97 L49.2,330.95 L49.7,330.94 L50.2,330.93 L50.7,330.92 L51.2,330.9 L51.7,330.89 L52.2,330.87 L52.7,330.86 L53.2,330.84 L53.7,330.83 L54.2,330.81 L54.7,330.8 L55.2,330.78 L55.7,330.77 L56.2,330.75 L56.7,330.73 L57.2,330.72 L57.7,330.7 L58.2,330.68 L58.7,330.67 L59.2,330.65 L59.7,330.63 L60.2,330.62 L60.7,330.6 L61.2,330.58 L61.7,330.56 L62.2,330.55 L62.7,330.53 L63.2,330.51 L63.7,330.5 L64.2,330.48 L64.7,330.46 L65.2,330.44 L65.7,330.42 L66.2,330.41 L66.7,330.39 L67.2,330.37 L67.7,330.35 L68.2,330.33 L68.7,330.32 L69.2,330.3 L69.7,330.28 L70.2,330.26 L70.7,330.24 L71.2,330.22 L71.7,330.2 L72.2,330.18 L72.7,330.17 L73.2,330.15 L73.7,330.13 L74.2,330.11 L74.7,330.09 L75.2,330.07 L75.7,330.05 L76.2,330.03 L76.7,330.01 L77.2,329.99 L77.7,329.97 L78.2,329.95 L78.7,329.93 L79.2,329.9 L79.7,329.88 L80.2,329.86 L80.7,329.84 L81.2,329.82 L81.7,329.8 L82.2,329.78 L82.7,329.75 L83.2,329.73 L83.7,329.71 L84.2,329.69 L84.7,329.66 L85.2,329.64 L85.7,329.62 L86.2,329.59 L86.7,329.57 L87.2,329.55 L87.7,329.52 L88.2,329.5 L88.7,329.47 L89.2,329.45 L89.7,329.42 L90.2,329.4 L90.7,329.37 L91.2,329.34 L91.7,329.32 L92.2,329.29 L92.7,329.26 L93.2,329.24 L93.7,329.21 L94.2,329.18 L94.7,329.15 L95.2,329.12 L95.7,329.09 L96.2,329.06 L96.7,329.03 L97.2,329 L97.7,328.97 L98.2,328.94 L98.7,328.9 L99.2,328.87 L99.7,328.84 L100.2,328.8 L100.7,328.77 L101.2,328.73 L101.7,328.69 L102.2,328.65 L102.7,328.61 L103.2,328.57 L103.7,328.53 L104.2,328.48 L104.7,328.43 L105.2,328.39 L105.7,328.34 L106.2,328.28 L106.7,328.23 L107.2,328.17 L107.7,328.11 L108.2,328.05 L108.7,327.99 L109.2,327.92 L109.7,327.85 L110.2,327.77 L110.7,327.69 L111.2,327.61 L111.7,327.52 L112.2,327.42 L112.7,327.32 L113.2,327.21 L113.7,327.1 L114.2,326.98 L114.7,326.85 L115.2,326.71 L115.7,326.57 L116.2,326.41 L116.7,326.24 L117.2,326.07 L117.7,325.88 L118.2,325.68 L118.7,325.46 L119.2,325.23 L119.7,324.99 L120.2,324.73 L120.7,324.45 L121.2,324.16 L121.7,323.85 L122.2,323.51 L122.7,323.16 L123.2,322.78 L123.7,322.38 L124.2,321.96 L124.7,321.51 L125.2,321.03 L125.7,320.53 L126.2,319.99 L126.7,319.43 L127.2,318.83 L127.7,318.21 L128.2,317.55 L128.7,316.85 L129.2,316.12 L129.7,315.35 L130.2,314.54 L130.7,313.7 L131.2,312.82 L131.7,311.89 L132.2,310.93 L132.7,309.92 L133.2,308.88 L133.7,307.79 L134.2,306.65 L134.7,305.48 L135.2,304.26 L135.7,303.01 L136.2,301.7 L136.7,300.36 L137.2,298.98 L137.7,297.56 L138.2,296.09 L138.7,294.59 L139.2,293.06 L139.7,291.49 L140.2,289.88 L140.7,288.25 L141.2,286.58 L141.7,284.89 L142.2,283.17 L142.7,281.43 L143.2,279.67 L143.7,277.9 L144.2,276.12 L144.7,274.32 L145.2,272.52 L145.7,270.72 L146.2,268.92 L146.7,267.13 L147.2,265.35 L147.7,263.58 L148.2,261.83 L148.7,260.11 L149.2,258.42 L149.7,256.77 L150.2,255.15 L150.7,253.58 L151.2,252.05 L151.7,250.59 L152.2,249.18 L152.7,247.84 L153.2,246.57 L153.7,245.37 L154.2,244.26 L154.7,243.23 L155.2,242.29 L155.7,241.44 L156.2,240.69 L156.7,240.04 L157.2,239.49 L157.7,239.05 L158.2,238.72 L158.7,238.5 L159.2,238.38 L159.7,238.38 L160.2,238.46 L160.7,238.62 L161.2,238.86 L161.7,239.18 L162.2,239.58 L162.7,240.06 L163.2,240.62 L163.7,241.24 L164.2,241.95 L164.7,242.72 L165.2,243.55 L165.7,244.45 L166.2,245.42 L166.7,246.44 L167.2,247.51 L167.7,248.64 L168.2,249.82 L168.7,251.04 L169.2,252.31 L169.7,253.61 L170.2,254.95 L170.7,256.33 L171.2,257.73 L171.7,259.16 L172.2,260.61 L172.7,262.08 L173.2,263.56 L173.7,265.07 L174.2,266.58 L174.7,268.1 L175.2,269.62 L175.7,271.15 L176.2,272.68 L176.7,274.2 L177.2,275.72 L177.7,277.23 L178.2,278.73 L178.7,280.23 L179.2,281.7 L179.7,283.17 L180.2,284.61 L180.7,286.04 L181.2,287.44 L181.7,288.83 L182.2,290.19 L182.7,291.52 L183.2,292.83 L183.7,294.12 L184.2,295.37 L184.7,296.6 L185.2,297.8 L185.7,298.97 L186.2,300.11 L186.7,301.22 L187.2,302.3 L187.7,303.35 L188.2,304.36 L188.7,305.35 L189.2,306.3 L189.7,307.22 L190.2,308.11 L190.7,308.97 L191.2,309.8 L191.7,310.59 L192.2,311.36 L192.7,312.1 L193.2,312.81 L193.7,313.49 L194.2,314.14 L194.7,314.77 L195.2,315.37 L195.7,315.94 L196.2,316.48 L196.7,317 L197.2,317.5 L197.7,317.97 L198.2,318.43 L198.7,318.85 L199.2,319.26 L199.7,319.65 L200.2,320.02 L200.7,320.36 L201.2,320.69 L201.7,321 L202.2,321.3 L202.7,321.58 L203.2,321.84 L203.7,322.09 L204.2,322.32 L204.7,322.54 L205.2,322.75 L205.7,322.95 L206.2,323.13 L206.7,323.31 L207.2,323.47 L207.7,323.62 L208.2,323.76 L208.7,323.9 L209.2,324.02 L209.7,324.14 L210.2,324.25 L210.7,324.36 L211.2,324.45 L211.7,324.54 L212.2,324.63 L212.7,324.71 L213.2,324.78 L213.7,324.85 L214.2,324.91 L214.7,324.97 L215.2,325.03 L215.7,325.08 L216.2,325.13 L216.7,325.17 L217.2,325.22 L217.7,325.25 L218.2,325.29 L218.7,325.33 L219.2,325.36 L219.7,325.39 L220.2,325.41 L220.7,325.44 L221.2,325.46 L221.7,325.49 L222.2,325.51 L222.7,325.53 L223.2,325.54 L223.7,325.56 L224.2,325.57 L224.7,325.59 L225.2,325.6 L225.7,325.61 L226.2,325.63 L226.7,325.64 L227.2,325.65 L227.7,325.66 L228.2,325.66 L228.7,325.67 L229.2,325.68 L229.7,325.68 L230.2,325.69 L230.7,325.7 L231.2,325.7 L231.7,325.71 L232.2,325.71 L232.7,325.71 L233.2,325.72 L233.7,325.72 L234.2,325.72 L234.7,325.72 L235.2,325.73 L235.7,325.73 L236.2,325.73 L236.7,325.73 L237.2,325.73 L237.7,325.73 L238.2,325.73 L238.7,325.73 L239.2,325.73 L239.7,325.73 L240.2,325.73 L240.7,325.73 L241.2,325.73 L241.7,325.72 L242.2,325.72 L242.7,325.72 L243.2,325.72 L243.7,325.72 L244.2,325.71 L244.7,325.71 L245.2,325.71 L245.7,325.71 L246.2,325.7 L246.7,325.7 L247.2,325.7 L247.7,325.69 L248.2,325.69 L248.7,325.69 L249.2,325.68 L249.7,325.68 L250.2,325.67 L250.7,325.67 L251.2,325.67 L251.7,325.66 L252.2,325.66 L252.7,325.65 L253.2,325.65 L253.7,325.64 L254.2,325.64 L254.7,325.63 L255.2,325.63 L255.7,325.62 L256.2,325.62 L256.7,325.61 L257.2,325.61 L257.7,325.6 L258.2,325.59 L258.7,325.59 L259.2,325.58 L259.7,325.58 L260.2,325.57 L260.7,325.56 L261.2,325.56 L261.7,325.55 L262.2,325.54 L262.7,325.54 L263.2,325.53 L263.7,325.52 L264.2,325.52 L264.7,325.51 L265.2,325.5 L265.7,325.5 L266.2,325.49 L266.7,325.48 L267.2,325.47 L267.7,325.47 L268.2,325.46 L268.7,325.45 L269.2,325.44 L269.7,325.44 L270.2,325.43 L270.7,325.42 L271.2,325.41 L271.7,325.41 L272.2,325.4 L272.7,325.39 L273.2,325.38 L273.7,325.37 L274.2,325.37 L274.7,325.36 L275.2,325.35 L275.7,325.34 L276.2,325.33 L276.7,325.32 L277.2,325.32 L277.7,325.31 L278.2,325.3 L278.7,325.29 L279.2,325.28 L279.7,325.27 L280.2,325.27 L280.7,325.26 L281.2,325.25 L281.7,325.24 L282.2,325.23 L282.7,325.22 L283.2,325.21 L283.7,325.2 L284.2,325.19 L284.7,325.19 L285.2,325.18 L285.7,325.17 L286.2,325.16 L286.7,325.15 L287.2,325.14 L287.7,325.13 L288.2,325.12 L288.7,325.11 L289.2,325.1 L289.7,325.09 L290.2,325.08 L290.7,325.07 L291.2,325.06 L291.7,325.06 L292.2,325.05 L292.7,325.04 L293.2,325.03 L293.7,325.02 L294.2,325.01 L294.7,325 L295.2,324.99 L295.7,324.98 L296.2,324.97 L296.7,324.96 L297.2,324.95 L297.7,324.94 L298.2,324.93 L298.7,324.92 L299.2,324.91 L299.7,324.9 L300.2,324.89 L300.7,324.88 L301.2,324.87 L301.7,324.86 L302.2,324.85 L302.7,324.84 L303.2,324.83 L303.7,324.82 L304.2,324.81 L304.7,324.8 L305.2,324.79 L305.7,324.78 L306.2,324.77 L306.7,324.76 L307.2,324.75 L307.7,324.74 L308.2,324.73 L308.7,324.72 L309.2,324.71 L309.7,324.7 L310.2,324.69 L310.7,324.68 L311.2,324.67 L311.7,324.65 L312.2,324.64 L312.7,324.63 L313.2,324.62 L313.7,324.61 L314.2,324.6 L314.7,324.59 L315.2,324.58 L315.7,324.57 L316.2,324.56 L316.7,324.55 L317.2,324.54" fill="none" stroke="#c03cc0" stroke-width="1.4" stroke-linejoin="round" stroke-linecap="round" />
<path d="M23.7,327.47 L24.2,327.56 L24.7,327.64 L25.2,327.72 L25.7,327.81 L26.2,327.89 L26.7,327.96 L27.2,328.04 L27.7,328.11 L28.2,328.19 L28.7,328.26 L29.2,328.33 L29.7,328.4 L30.2,328.46 L30.7,328.53 L31.2,328.59 L31.7,328.65 L32.2,328.72 L32.7,328.77 L33.2,328.83 L33.7,328.89 L34.2,328.94 L34.7,329 L35.2,329.05 L35.7,329.1 L36.2,329.15 L36.7,329.2 L37.2,329.24 L37.7,329.29 L38.2,329.33 L38.7,329.38 L39.2,329.42 L39.7,329.46 L40.2,329.5 L40.7,329.54 L41.2,329.57 L41.7,329.61 L42.2,329.64 L42.7,329.68 L43.2,329.71 L43.7,329.74 L44.2,329.77 L44.7,329.8 L45.2,329.82 L45.7,329.85 L46.2,329.88 L46.7,329.9 L47.2,329.92 L47.7,329.95 L48.2,329.97 L48.7,329.99 L49.2,330.01 L49.7,330.02 L50.2,330.04 L50.7,330.06 L51.2,330.07 L51.7,330.09 L52.2,330.1 L52.7,330.11 L53.2,330.13 L53.7,330.14 L54.2,330.15 L54.7,330.16 L55.2,330.17 L55.7,330.17 L56.2,330.18 L56.7,330.19 L57.2,330.19 L57.7,330.2 L58.2,330.2 L58.7,330.21 L59.2,330.21 L59.7,330.21 L60.2,330.21 L60.7,330.21 L61.2,330.21 L61.7,330.21 L62.2,330.21 L62.7,330.21 L63.2,330.21 L63.7,330.21 L64.2,330.2 L64.7,330.2 L65.2,330.19 L65.7,330.19 L66.2,330.18 L66.7,330.18 L67.2,330.17 L67.7,330.17 L68.2,330.16 L68.7,330.15 L69.2,330.14 L69.7,330.14 L70.2,330.13 L70.7,330.12 L71.2,330.11 L71.7,330.1 L72.2,330.09 L72.7,330.08 L73.2,330.07 L73.7,330.06 L74.2,330.05 L74.7,330.04 L75.2,330.03 L75.7,330.02 L76.2,330.01 L76.7,329.99 L77.2,329.98 L77.7,329.97 L78.2,329.96 L78.7,329.95 L79.2,329.93 L79.7,329.92 L80.2,329.91 L80.7,329.9 L81.2,329.89 L81.7,329.87 L82.2,329.86 L82.7,329.85 L83.2,329.84 L83.7,329.82 L84.2,329.81 L84.7,329.8 L85.2,329.79 L85.7,329.78 L86.2,329.76 L86.7,329.75 L87.2,329.74 L87.7,329.73 L88.2,329.72 L88.7,329.71 L89.2,329.7 L89.7,329.69 L90.2,329.68 L90.7,329.67 L91.2,329.66 L91.7,329.65 L92.2,329.63 L92.7,329.62 L93.2,329.61 L93.7,329.6 L94.2,329.58 L94.7,329.56 L95.2,329.54 L95.7,329.52 L96.2,329.5 L96.7,329.47 L97.2,329.44 L97.7,329.41 L98.2,329.37 L98.7,329.33 L99.2,329.29 L99.7,329.24 L100.2,329.19 L100.7,329.13 L101.2,329.07 L101.7,329.01 L102.2,328.94 L102.7,328.86 L103.2,328.78 L103.7,328.69 L104.2,328.59 L104.7,328.49 L105.2,328.38 L105.7,328.27 L106.2,328.15 L106.7,328.02 L107.2,327.88 L107.7,327.73 L108.2,327.58 L108.7,327.42 L109.2,327.25 L109.7,327.07 L110.2,326.88 L110.7,326.68 L111.2,326.47 L111.7,326.24 L112.2,325.98 L112.7,325.69 L113.2,325.38 L113.7,325.02 L114.2,324.63 L114.7,324.19 L115.2,323.7 L115.7,323.16 L116.2,322.56 L116.7,321.91 L117.2,321.22 L117.7,320.47 L118.2,319.68 L118.7,318.84 L119.2,317.97 L119.7,317.05 L120.2,316.1 L120.7,315.12 L121.2,314.1 L121.7,313.06 L122.2,311.99 L122.7,310.9 L123.2,309.79 L123.7,308.65 L124.2,307.51 L124.7,306.34 L125.2,305.17 L125.7,303.98 L126.2,302.79 L126.7,301.6 L127.2,300.4 L127.7,299.2 L128.2,298 L128.7,296.79 L129.2,295.59 L129.7,294.4 L130.2,293.2 L130.7,292.01 L131.2,290.82 L131.7,289.63 L132.2,288.46 L132.7,287.29 L133.2,286.13 L133.7,284.97 L134.2,283.83 L134.7,282.69 L135.2,281.57 L135.7,280.46 L136.2,279.37 L136.7,278.28 L137.2,277.21 L137.7,276.16 L138.2,275.12 L138.7,274.1 L139.2,273.08 L139.7,272.07 L140.2,271.06 L140.7,270.06 L141.2,269.05 L141.7,268.04 L142.2,267.02 L142.7,265.99 L143.2,264.95 L143.7,263.9 L144.2,262.84 L144.7,261.77 L145.2,260.69 L145.7,259.6 L146.2,258.51 L146.7,257.41 L147.2,256.32 L147.7,255.22 L148.2,254.13 L148.7,253.04 L149.2,251.95 L149.7,250.87 L150.2,249.79 L150.7,248.73 L151.2,247.68 L151.7,246.63 L152.2,245.61 L152.7,244.59 L153.2,243.6 L153.7,242.62 L154.2,241.66 L154.7,240.72 L155.2,239.81 L155.7,238.92 L156.2,238.06 L156.7,237.22 L157.2,236.42 L157.7,235.65 L158.2,234.91 L158.7,234.21 L159.2,233.54 L159.7,232.92 L160.2,232.33 L160.7,231.79 L161.2,231.3 L161.7,230.85 L162.2,230.44 L162.7,230.09 L163.2,229.79 L163.7,229.54 L164.2,229.35 L164.7,229.21 L165.2,229.13 L165.7,229.12 L166.2,229.16 L166.7,229.27 L167.2,229.45 L167.7,229.69 L168.2,230 L168.7,230.39 L169.2,230.84 L169.7,231.36 L170.2,231.95 L170.7,232.6 L171.2,233.31 L171.7,234.08 L172.2,234.9 L172.7,235.77 L173.2,236.7 L173.7,237.67 L174.2,238.68 L174.7,239.73 L175.2,240.82 L175.7,241.94 L176.2,243.1 L176.7,244.29 L177.2,245.5 L177.7,246.74 L178.2,248 L178.7,249.27 L179.2,250.56 L179.7,251.87 L180.2,253.18 L180.7,254.5 L181.2,255.83 L181.7,257.16 L182.2,258.48 L182.7,259.81 L183.2,261.13 L183.7,262.44 L184.2,263.75 L184.7,265.06 L185.2,266.36 L185.7,267.65 L186.2,268.93 L186.7,270.21 L187.2,271.48 L187.7,272.73 L188.2,273.98 L188.7,275.22 L189.2,276.45 L189.7,277.66 L190.2,278.86 L190.7,280.05 L191.2,281.23 L191.7,282.39 L192.2,283.54 L192.7,284.67 L193.2,285.79 L193.7,286.88 L194.2,287.97 L194.7,289.03 L195.2,290.08 L195.7,291.12 L196.2,292.14 L196.7,293.14 L197.2,294.13 L197.7,295.1 L198.2,296.05 L198.7,296.99 L199.2,297.91 L199.7,298.82 L200.2,299.71 L200.7,300.59 L201.2,301.45 L201.7,302.29 L202.2,303.12 L202.7,303.94 L203.2,304.74 L203.7,305.52 L204.2,306.29 L204.7,307.05 L205.2,307.78 L205.7,308.51 L206.2,309.22 L206.7,309.91 L207.2,310.59 L207.7,311.25 L208.2,311.9 L208.7,312.53 L209.2,313.15 L209.7,313.76 L210.2,314.35 L210.7,314.92 L211.2,315.49 L211.7,316.03 L212.2,316.57 L212.7,317.08 L213.2,317.59 L213.7,318.08 L214.2,318.55 L214.7,319.01 L215.2,319.46 L215.7,319.89 L216.2,320.31 L216.7,320.72 L217.2,321.11 L217.7,321.49 L218.2,321.86 L218.7,322.21 L219.2,322.56 L219.7,322.89 L220.2,323.21 L220.7,323.51 L221.2,323.81 L221.7,324.1 L222.2,324.37 L222.7,324.63 L223.2,324.89 L223.7,325.13 L224.2,325.37 L224.7,325.59 L225.2,325.8 L225.7,326.01 L226.2,326.21 L226.7,326.4 L227.2,326.58 L227.7,326.75 L228.2,326.91 L228.7,327.07 L229.2,327.22 L229.7,327.36 L230.2,327.49 L230.7,327.62 L231.2,327.74 L231.7,327.86 L232.2,327.97 L232.7,328.07 L233.2,328.17 L233.7,328.27 L234.2,328.35 L234.7,328.44 L235.2,328.52 L235.7,328.59 L236.2,328.66 L236.7,328.73 L237.2,328.79 L237.7,328.85 L238.2,328.9 L238.7,328.95 L239.2,328.99 L239.7,329.03 L240.2,329.07 L240.7,329.11 L241.2,329.14 L241.7,329.17 L242.2,329.19 L242.7,329.21 L243.2,329.23 L243.7,329.25 L244.2,329.26 L244.7,329.27 L245.2,329.28 L245.7,329.28 L246.2,329.29 L246.7,329.29 L247.2,329.29 L247.7,329.28 L248.2,329.28 L248.7,329.27 L249.2,329.26 L249.7,329.25 L250.2,329.24 L250.7,329.23 L251.2,329.21 L251.7,329.19 L252.2,329.18 L252.7,329.16 L253.2,329.14 L253.7,329.12 L254.2,329.1 L254.7,329.08 L255.2,329.06 L255.7,329.04 L256.2,329.02 L256.7,329 L257.2,328.97 L257.7,328.95 L258.2,328.93 L258.7,328.9 L259.2,328.88 L259.7,328.86 L260.2,328.83 L260.7,328.81 L261.2,328.78 L261.7,328.76 L262.2,328.73 L262.7,328.71 L263.2,328.68 L263.7,328.65 L264.2,328.63 L264.7,328.6 L265.2,328.57 L265.7,328.55 L266.2,328.52 L266.7,328.49 L267.2,328.46 L267.7,328.43 L268.2,328.41 L268.7,328.38 L269.2,328.35 L269.7,328.32 L270.2,328.29 L270.7,328.26 L271.2,328.23 L271.7,328.2 L272.2,328.17 L272.7,328.14 L273.2,328.11 L273.7,328.08 L274.2,328.05 L274.7,328.02 L275.2,327.99 L275.7,327.95 L276.2,327.92 L276.7,327.89 L277.2,327.86 L277.7,327.83 L278.2,327.8 L278.7,327.76 L279.2,327.73 L279.7,327.7 L280.2,327.67 L280.7,327.63 L281.2,327.6 L281.7,327.57 L282.2,327.54 L282.7,327.5 L283.2,327.47 L283.7,327.44 L284.2,327.4 L284.7,327.37 L285.2,327.34 L285.7,327.31 L286.2,327.27 L286.7,327.24 L287.2,327.21 L287.7,327.17 L288.2,327.14 L288.7,327.11 L289.2,327.07 L289.7,327.04 L290.2,327.01 L290.7,326.97 L291.2,326.94 L291.7,326.91 L292.2,326.87 L292.7,326.84 L293.2,326.81 L293.7,326.78 L294.2,326.74 L294.7,326.71 L295.2,326.68 L295.7,326.64 L296.2,326.61 L296.7,326.58 L297.2,326.55 L297.7,326.51 L298.2,326.48 L298.7,326.45 L299.2,326.42 L299.7,326.38 L300.2,326.35 L300.7,326.32 L301.2,326.29 L301.7,326.26 L302.2,326.23 L302.7,326.2 L303.2,326.16 L303.7,326.13 L304.2,326.1 L304.7,326.07 L305.2,326.04 L305.7,326.01 L306.2,325.98 L306.7,325.95 L307.2,325.92 L307.7,325.89 L308.2,325.86 L308.7,325.83 L309.2,325.8 L309.7,325.78 L310.2,325.75 L310.7,325.72 L311.2,325.69 L311.7,325.66 L312.2,325.64 L312.7,325.61 L313.2,325.58 L313.7,325.55 L314.2,325.53 L314.7,325.5 L315.2,325.48 L315.7,325.45 L316.2,325.42 L316.7,325.4 L317.2,325.38" fill="none" stroke="#ff0000" stroke-width="3.0" stroke-linejoin="round" stroke-linecap="round" />
<path d="M23.7,327.74 L24.4,328.05 L25.1,328.36 L25.8,328.62 L26.5,328.23 L27.2,327.98 L27.9,327.32 L28.6,327.71 L29.3,328.23 L30,328.66 L30.7,328.91 L31.4,328.24 L32.1,328.37 L32.8,328.09 L33.5,329.13 L34.2,329.4 L34.9,329.96 L35.6,329.55 L36.3,329.55 L37,329.54 L37.7,329.53 L38.4,329.3 L39.1,329.16 L39.8,329.15 L40.5,329.18 L41.2,329.19 L41.9,329.2 L42.6,329.61 L43.3,329.31 L44,329.75 L44.7,329.43 L45.4,329.74 L46.1,329.22 L46.8,329.37 L47.5,329.48 L48.2,329.91 L48.9,329.84 L49.6,329.96 L50.3,330.4 L51,330.67 L51.7,330.52 L52.4,330.31 L53.1,330.19 L53.8,330.51 L54.5,330.43 L55.2,330.38 L55.9,329.73 L56.6,329.49 L57.3,329.75 L58,330.15 L58.7,330.36 L59.4,330.48 L60.1,330.44 L60.8,330.65 L61.5,330.81 L62.2,331.23 L62.9,331.21 L63.6,331.07 L64.3,331.37 L65,331.12 L65.7,330.82 L66.4,330.39 L67.1,330.1 L67.8,329.68 L68.5,329.29 L69.2,329.61 L69.9,330.12 L70.6,329.94 L71.3,329.34 L72,329.12 L72.7,329.46 L73.4,329.92 L74.1,330.17 L74.8,330.52 L75.5,330.58 L76.2,330.54 L76.9,329.92 L77.6,329.54 L78.3,329.43 L79,329.87 L79.7,330.35 L80.4,330.42 L81.1,330.43 L81.8,330.44 L82.5,329.81 L83.2,329.4 L83.9,329.29 L84.6,329.88 L85.3,329.67 L86,329.84 L86.7,329.55 L87.4,329.87 L88.1,329.62 L88.8,329.91 L89.5,329.58 L90.2,329.76 L90.9,329.57 L91.6,329.72 L92.3,329.38 L93,328.78 L93.7,328.79 L94.4,328.88 L95.1,329.24 L95.8,329.3 L96.5,329.18 L97.2,329.33 L97.9,329.64 L98.6,329.61 L99.3,329.47 L100,329.28 L100.7,329.75 L101.4,329.64 L102.1,329.53 L102.8,328.48 L103.5,328.8 L104.2,328.7 L104.9,329.32 L105.6,328.79 L106.3,328.18 L107,327.88 L107.7,327.89 L108.4,327.72 L109.1,326.87 L109.8,326.54 L110.5,326.45 L111.2,327.22 L111.9,326.61 L112.6,325.99 L113.3,324.67 L114,323.71 L114.7,322.85 L115.4,322.44 L116.1,321.87 L116.8,320.86 L117.5,318.93 L118.2,317.85 L118.9,316.83 L119.6,315.8 L120.3,314.05 L121,312.4 L121.7,310.81 L122.4,309.16 L123.1,307.7 L123.8,305.46 L124.5,303.69 L125.2,301.8 L125.9,300.66 L126.6,299.03 L127.3,297.51 L128,296.13 L128.7,294.87 L129.4,293.16 L130.1,291.43 L130.8,289.75 L131.5,287.73 L132.2,285.81 L132.9,284.41 L133.6,282.79 L134.3,281.26 L135,279.24 L135.7,277.74 L136.4,275.93 L137.1,274.56 L137.8,273.4 L138.5,272.3 L139.2,270.47 L139.9,268.9 L140.6,267.5 L141.3,266.71 L142,265.54 L142.7,264.23 L143.4,262.81 L144.1,261.37 L144.8,259.44 L145.5,257.65 L146.2,255.73 L146.9,253.79 L147.6,251.8 L148.3,251 L149,249.8 L149.7,248.14 L150.4,245.94 L151.1,245.15 L151.8,244.26 L152.5,243.08 L153.2,241.22 L153.9,239.85 L154.6,238.74 L155.3,237.74 L156,236.51 L156.7,235.24 L157.4,234.2 L158.1,233.12 L158.8,232.09 L159.5,231.07 L160.2,230.23 L160.9,229.82 L161.6,229.15 L162.3,228.66 L163,227.46 L163.7,226.82 L164.4,227.12 L165.1,227.12 L165.8,227.3 L166.5,227.14 L167.2,227.3 L167.9,227.3 L168.6,227.3 L169.3,227.3 L170,227.3 L170.7,227.3 L171.4,227.3 L172.1,232.56 L172.8,233.81 L173.5,235.37 L174.2,236.92 L174.9,238.05 L175.6,239.37 L176.3,240.86 L177,242.85 L177.7,244.95 L178.4,246.65 L179.1,248.33 L179.8,249.44 L180.5,251.27 L181.2,252.98 L181.9,255.48 L182.6,257.49 L183.3,259.34 L184,261.26 L184.7,262.67 L185.4,264.85 L186.1,266.42 L186.8,268.7 L187.5,270.18 L188.2,271.63 L188.9,273.12 L189.6,275.1 L190.3,276.21 L191,277.83 L191.7,279.29 L192.4,281.35 L193.1,282.58 L193.8,284.02 L194.5,285.48 L195.2,287.63 L195.9,289.5 L196.6,291.13 L197.3,291.8 L198,292.74 L198.7,293.8 L199.4,295.76 L200.1,297.51 L200.8,299.06 L201.5,300.61 L202.2,301.73 L202.9,302.96 L203.6,303.32 L204.3,304.06 L205,304.57 L205.7,306.11 L206.4,307.11 L207.1,308.8 L207.8,309.54 L208.5,309.91 L209.2,310.6 L209.9,311.61 L210.6,313.48 L211.3,313.99 L212,314.41 L212.7,314.86 L213.4,315.68 L214.1,316.38 L214.8,316.86 L215.5,318.56 L216.2,319.49 L216.9,320.21 L217.6,320.09 L218.3,320.9 L219,322.13 L219.7,323.09 L220.4,323.88 L221.1,324.12 L221.8,324.45 L222.5,324.5 L223.2,324.45 L223.9,325.28 L224.6,325.64 L225.3,326.6 L226,326.27 L226.7,326.63 L227.4,326.58 L228.1,326.53 L228.8,326.76 L229.5,327.1 L230.2,327.86 L230.9,328.19 L231.6,328.52 L232.3,328.53 L233,328.54 L233.7,327.9 L234.4,327.81 L235.1,328.32 L235.8,328.97 L236.5,329.41 L237.2,329.04 L237.9,328.91 L238.6,329.31 L239.3,329.52 L240,330.14 L240.7,329.79 L241.4,329.67 L242.1,328.73 L242.8,328.65 L243.5,328.34 L244.2,328.36 L244.9,328.68 L245.6,329.28 L246.3,330.03 L247,329.72 L247.7,329.52 L248.4,329.45 L249.1,329.47 L249.8,329.48 L250.5,329.54 L251.2,328.84 L251.9,329.04 L252.6,328.65 L253.3,329.49 L254,329.53 L254.7,329.45 L255.4,329.4 L256.1,329.26 L256.8,329.26 L257.5,328.88 L258.2,328.67 L258.9,328.23 L259.6,328.22 L260.3,328.2 L261,328.62 L261.7,328.29 L262.4,328.1 L263.1,328.57 L263.8,329.29 L264.5,329.33 L265.2,328.68 L265.9,328.3 L266.6,328.29 L267.3,328.29 L268,328.16 L268.7,328.28 L269.4,328.66 L270.1,328.07 L270.8,328.12 L271.5,327.87 L272.2,328.76 L272.9,328.46 L273.6,328.5 L274.3,328.58 L275,327.77 L275.7,328.03 L276.4,327.6 L277.1,327.86 L277.8,326.71 L278.5,326.69 L279.2,326.85 L279.9,327.76 L280.6,327.69 L281.3,327.88 L282,327.83 L282.7,327.78 L283.4,327.96 L284.1,327.87 L284.8,327.86 L285.5,327.83 L286.2,327.77 L286.9,327.28 L287.6,326.96 L288.3,326.68 L289,326.89 L289.7,326.5 L290.4,326.34 L291.1,326.48 L291.8,326.89 L292.5,327.39 L293.2,327.1 L293.9,326.89 L294.6,326.3 L295.3,326.33 L296,326.24 L296.7,325.85 L297.4,325.98 L298.1,326.35 L298.8,327.08 L299.5,326.66 L300.2,326.31 L300.9,326.46 L301.6,326.67 L302.3,326.76 L303,326.2 L303.7,326.45 L304.4,326.56 L305.1,327.17 L305.8,326.99 L306.5,326.81 L307.2,325.85 L307.9,325.58 L308.6,325.24 L309.3,325.42 L310,325.15 L310.7,325.61 L311.4,325.38 L312.1,325.75 L312.8,325.07 L313.5,325.4 L314.2,325.72 L314.9,325.8 L315.6,325.77 L316.3,325.28 L317,325.46" fill="none" stroke="#000" stroke-width="1.0" stroke-linejoin="round" stroke-linecap="round" />
<path d="M23.7,216.4 L317.3,216.4 L317.3,359.8 L23.7,359.8 Z" fill="none" stroke="#1a1a1a" stroke-width="1.8" stroke-linejoin="miter"/>
<path d="M42.2,227.3 L56.5,227.3" fill="none" stroke="#111" stroke-width="1.5" stroke-linejoin="round" stroke-linecap="butt"/>
<path d="M39,242.6 L55.6,242.6" fill="none" stroke="#ff0000" stroke-width="3.0" stroke-linejoin="round" stroke-linecap="butt"/>
<path d="M39.9,260.5 L55.6,260.5" fill="none" stroke="#c03cc0" stroke-width="1.5" stroke-linejoin="round" stroke-linecap="butt"/>
<path d="M39.9,277.7 L55.6,277.7" fill="none" stroke="#20a45e" stroke-width="1.5" stroke-linejoin="round" stroke-linecap="butt"/>
<text x="59.6" y="229.7" font-size="10.6" text-anchor="start" font-weight="normal" fill="#111" >Raw curve</text>
<text x="56.4" y="245.8" font-size="10.6" text-anchor="start" font-weight="normal" fill="#111" >Global fitting curve</text>
<text x="56.4" y="263.7" font-size="10.6" text-anchor="start" font-weight="normal" fill="#111" >N-B</text>
<text x="56.4" y="281.1" font-size="10.6" text-anchor="start" font-weight="normal" fill="#111" >N-H</text>
<text x="23.7" y="373.3" font-size="9.3" text-anchor="middle" font-weight="bold" fill="#111" >390</text>
<text x="56.32" y="373.3" font-size="9.3" text-anchor="middle" font-weight="bold" fill="#111" >392</text>
<text x="88.94" y="373.3" font-size="9.3" text-anchor="middle" font-weight="bold" fill="#111" >394</text>
<text x="121.57" y="373.3" font-size="9.3" text-anchor="middle" font-weight="bold" fill="#111" >396</text>
<text x="154.19" y="373.3" font-size="9.3" text-anchor="middle" font-weight="bold" fill="#111" >398</text>
<text x="186.81" y="373.3" font-size="9.3" text-anchor="middle" font-weight="bold" fill="#111" >400</text>
<text x="219.43" y="373.3" font-size="9.3" text-anchor="middle" font-weight="bold" fill="#111" >402</text>
<text x="252.06" y="373.3" font-size="9.3" text-anchor="middle" font-weight="bold" fill="#111" >404</text>
<text x="284.68" y="373.3" font-size="9.3" text-anchor="middle" font-weight="bold" fill="#111" >406</text>
<text x="317.3" y="373.3" font-size="9.3" text-anchor="middle" font-weight="bold" fill="#111" >408</text>
<text x="176" y="382.9" font-size="12.1" text-anchor="middle" font-weight="normal" fill="#111" >Binding energy (eV)</text>
<text x="18.4" y="295.75" font-size="11.8" text-anchor="middle" font-weight="normal" fill="#111" transform="rotate(-90 18.4 295.75)" >Intensity (counts.)</text>
<text x="350.4" y="204.5" font-size="14.3" text-anchor="start" font-weight="normal" fill="#111" >(d)</text>
<path d="M370.6,315.5 L657,312.8" fill="none" stroke="#3b7dc0" stroke-width="1.8" stroke-linejoin="round" stroke-linecap="round" />
<path d="M370.6,314.3 L371.1,314.3 L371.6,314.29 L372.1,314.29 L372.6,314.28 L373.1,314.28 L373.6,314.27 L374.1,314.27 L374.6,314.26 L375.1,314.26 L375.6,314.25 L376.1,314.25 L376.6,314.24 L377.1,314.24 L377.6,314.23 L378.1,314.23 L378.6,314.22 L379.1,314.22 L379.6,314.22 L380.1,314.21 L380.6,314.21 L381.1,314.2 L381.6,314.2 L382.1,314.19 L382.6,314.19 L383.1,314.18 L383.6,314.18 L384.1,314.17 L384.6,314.17 L385.1,314.16 L385.6,314.16 L386.1,314.15 L386.6,314.15 L387.1,314.14 L387.6,314.14 L388.1,314.14 L388.6,314.13 L389.1,314.13 L389.6,314.12 L390.1,314.12 L390.6,314.11 L391.1,314.11 L391.6,314.1 L392.1,314.1 L392.6,314.09 L393.1,314.09 L393.6,314.08 L394.1,314.08 L394.6,314.07 L395.1,314.07 L395.6,314.06 L396.1,314.06 L396.6,314.05 L397.1,314.05 L397.6,314.05 L398.1,314.04 L398.6,314.04 L399.1,314.03 L399.6,314.03 L400.1,314.02 L400.6,314.02 L401.1,314.01 L401.6,314.01 L402.1,314 L402.6,314 L403.1,313.99 L403.6,313.99 L404.1,313.98 L404.6,313.98 L405.1,313.97 L405.6,313.97 L406.1,313.97 L406.6,313.96 L407.1,313.96 L407.6,313.95 L408.1,313.95 L408.6,313.94 L409.1,313.94 L409.6,313.93 L410.1,313.93 L410.6,313.92 L411.1,313.92 L411.6,313.91 L412.1,313.91 L412.6,313.9 L413.1,313.9 L413.6,313.89 L414.1,313.89 L414.6,313.89 L415.1,313.88 L415.6,313.88 L416.1,313.87 L416.6,313.87 L417.1,313.86 L417.6,313.86 L418.1,313.85 L418.6,313.85 L419.1,313.84 L419.6,313.84 L420.1,313.83 L420.6,313.83 L421.1,313.82 L421.6,313.82 L422.1,313.81 L422.6,313.81 L423.1,313.81 L423.6,313.8 L424.1,313.8 L424.6,313.79 L425.1,313.79 L425.6,313.78 L426.1,313.78 L426.6,313.77 L427.1,313.77 L427.6,313.76 L428.1,313.76 L428.6,313.75 L429.1,313.75 L429.6,313.74 L430.1,313.74 L430.6,313.73 L431.1,313.73 L431.6,313.72 L432.1,313.72 L432.6,313.72 L433.1,313.71 L433.6,313.71 L434.1,313.7 L434.6,313.7 L435.1,313.69 L435.6,313.69 L436.1,313.68 L436.6,313.68 L437.1,313.67 L437.6,313.67 L438.1,313.66 L438.6,313.66 L439.1,313.65 L439.6,313.65 L440.1,313.64 L440.6,313.64 L441.1,313.64 L441.6,313.63 L442.1,313.63 L442.6,313.62 L443.1,313.62 L443.6,313.61 L444.1,313.61 L444.6,313.6 L445.1,313.6 L445.6,313.59 L446.1,313.59 L446.6,313.58 L447.1,313.58 L447.6,313.57 L448.1,313.57 L448.6,313.56 L449.1,313.56 L449.6,313.55 L450.1,313.55 L450.6,313.55 L451.1,313.54 L451.6,313.54 L452.1,313.53 L452.6,313.53 L453.1,313.52 L453.6,313.52 L454.1,313.51 L454.6,313.51 L455.1,313.5 L455.6,313.5 L456.1,313.49 L456.6,313.49 L457.1,313.48 L457.6,313.48 L458.1,313.47 L458.6,313.47 L459.1,313.46 L459.6,313.46 L460.1,313.45 L460.6,313.44 L461.1,313.44 L461.6,313.43 L462.1,313.43 L462.6,313.42 L463.1,313.42 L463.6,313.41 L464.1,313.4 L464.6,313.4 L465.1,313.39 L465.6,313.38 L466.1,313.37 L466.6,313.37 L467.1,313.36 L467.6,313.35 L468.1,313.34 L468.6,313.33 L469.1,313.32 L469.6,313.31 L470.1,313.3 L470.6,313.29 L471.1,313.28 L471.6,313.27 L472.1,313.25 L472.6,313.24 L473.1,313.22 L473.6,313.21 L474.1,313.19 L474.6,313.17 L475.1,313.15 L475.6,313.13 L476.1,313.11 L476.6,313.09 L477.1,313.06 L477.6,313.04 L478.1,313.01 L478.6,312.98 L479.1,312.94 L479.6,312.91 L480.1,312.87 L480.6,312.84 L481.1,312.8 L481.6,312.75 L482.1,312.71 L482.6,312.66 L483.1,312.6 L483.6,312.55 L484.1,312.49 L484.6,312.43 L485.1,312.37 L485.6,312.3 L486.1,312.23 L486.6,312.15 L487.1,312.07 L487.6,311.99 L488.1,311.9 L488.6,311.81 L489.1,311.72 L489.6,311.62 L490.1,311.51 L490.6,311.41 L491.1,311.29 L491.6,311.18 L492.1,311.06 L492.6,310.93 L493.1,310.8 L493.6,310.67 L494.1,310.53 L494.6,310.39 L495.1,310.24 L495.6,310.09 L496.1,309.94 L496.6,309.78 L497.1,309.62 L497.6,309.45 L498.1,309.29 L498.6,309.11 L499.1,308.94 L499.6,308.77 L500.1,308.59 L500.6,308.41 L501.1,308.23 L501.6,308.05 L502.1,307.87 L502.6,307.68 L503.1,307.5 L503.6,307.32 L504.1,307.14 L504.6,306.96 L505.1,306.78 L505.6,306.6 L506.1,306.43 L506.6,306.26 L507.1,306.09 L507.6,305.93 L508.1,305.77 L508.6,305.62 L509.1,305.47 L509.6,305.33 L510.1,305.19 L510.6,305.06 L511.1,304.94 L511.6,304.83 L512.1,304.72 L512.6,304.62 L513.1,304.53 L513.6,304.44 L514.1,304.37 L514.6,304.31 L515.1,304.25 L515.6,304.2 L516.1,304.17 L516.6,304.14 L517.1,304.12 L517.6,304.11 L518.1,304.12 L518.6,304.13 L519.1,304.15 L519.6,304.18 L520.1,304.22 L520.6,304.27 L521.1,304.33 L521.6,304.4 L522.1,304.48 L522.6,304.56 L523.1,304.65 L523.6,304.76 L524.1,304.86 L524.6,304.98 L525.1,305.1 L525.6,305.23 L526.1,305.37 L526.6,305.51 L527.1,305.65 L527.6,305.8 L528.1,305.96 L528.6,306.12 L529.1,306.28 L529.6,306.45 L530.1,306.61 L530.6,306.78 L531.1,306.95 L531.6,307.12 L532.1,307.3 L532.6,307.47 L533.1,307.64 L533.6,307.82 L534.1,307.99 L534.6,308.16 L535.1,308.33 L535.6,308.5 L536.1,308.66 L536.6,308.82 L537.1,308.98 L537.6,309.14 L538.1,309.29 L538.6,309.44 L539.1,309.59 L539.6,309.73 L540.1,309.87 L540.6,310.01 L541.1,310.14 L541.6,310.27 L542.1,310.39 L542.6,310.51 L543.1,310.62 L543.6,310.73 L544.1,310.84 L544.6,310.94 L545.1,311.04 L545.6,311.13 L546.1,311.22 L546.6,311.3 L547.1,311.38 L547.6,311.46 L548.1,311.53 L548.6,311.6 L549.1,311.66 L549.6,311.72 L550.1,311.78 L550.6,311.83 L551.1,311.88 L551.6,311.93 L552.1,311.97 L552.6,312.01 L553.1,312.05 L553.6,312.09 L554.1,312.12 L554.6,312.15 L555.1,312.18 L555.6,312.21 L556.1,312.23 L556.6,312.25 L557.1,312.27 L557.6,312.29 L558.1,312.31 L558.6,312.32 L559.1,312.33 L559.6,312.35 L560.1,312.36 L560.6,312.37 L561.1,312.38 L561.6,312.38 L562.1,312.39 L562.6,312.39 L563.1,312.4 L563.6,312.4 L564.1,312.41 L564.6,312.41 L565.1,312.41 L565.6,312.41 L566.1,312.41 L566.6,312.41 L567.1,312.41 L567.6,312.41 L568.1,312.41 L568.6,312.41 L569.1,312.4 L569.6,312.4 L570.1,312.4 L570.6,312.4 L571.1,312.39 L571.6,312.39 L572.1,312.39 L572.6,312.39 L573.1,312.38 L573.6,312.38 L574.1,312.37 L574.6,312.37 L575.1,312.37 L575.6,312.36 L576.1,312.36 L576.6,312.35 L577.1,312.35 L577.6,312.35 L578.1,312.34 L578.6,312.34 L579.1,312.33 L579.6,312.33 L580.1,312.32 L580.6,312.32 L581.1,312.31 L581.6,312.31 L582.1,312.31 L582.6,312.3 L583.1,312.3 L583.6,312.29 L584.1,312.29 L584.6,312.28 L585.1,312.28 L585.6,312.27 L586.1,312.27 L586.6,312.26 L587.1,312.26 L587.6,312.25 L588.1,312.25 L588.6,312.24 L589.1,312.24 L589.6,312.24 L590.1,312.23 L590.6,312.23 L591.1,312.22 L591.6,312.22 L592.1,312.21 L592.6,312.21 L593.1,312.2 L593.6,312.2 L594.1,312.19 L594.6,312.19 L595.1,312.18 L595.6,312.18 L596.1,312.17 L596.6,312.17 L597.1,312.16 L597.6,312.16 L598.1,312.16 L598.6,312.15 L599.1,312.15 L599.6,312.14 L600.1,312.14 L600.6,312.13 L601.1,312.13 L601.6,312.12 L602.1,312.12 L602.6,312.11 L603.1,312.11 L603.6,312.1 L604.1,312.1 L604.6,312.09 L605.1,312.09 L605.6,312.08 L606.1,312.08 L606.6,312.08 L607.1,312.07 L607.6,312.07 L608.1,312.06 L608.6,312.06 L609.1,312.05 L609.6,312.05 L610.1,312.04 L610.6,312.04 L611.1,312.03 L611.6,312.03 L612.1,312.02 L612.6,312.02 L613.1,312.01 L613.6,312.01 L614.1,312 L614.6,312 L615.1,312 L615.6,311.99 L616.1,311.99 L616.6,311.98 L617.1,311.98 L617.6,311.97 L618.1,311.97 L618.6,311.96 L619.1,311.96 L619.6,311.95 L620.1,311.95 L620.6,311.94 L621.1,311.94 L621.6,311.93 L622.1,311.93 L622.6,311.92 L623.1,311.92 L623.6,311.91 L624.1,311.91 L624.6,311.91 L625.1,311.9 L625.6,311.9 L626.1,311.89 L626.6,311.89 L627.1,311.88 L627.6,311.88 L628.1,311.87 L628.6,311.87 L629.1,311.86 L629.6,311.86 L630.1,311.85 L630.6,311.85 L631.1,311.84 L631.6,311.84 L632.1,311.83 L632.6,311.83 L633.1,311.83 L633.6,311.82 L634.1,311.82 L634.6,311.81 L635.1,311.81 L635.6,311.8 L636.1,311.8 L636.6,311.79 L637.1,311.79 L637.6,311.78 L638.1,311.78 L638.6,311.77 L639.1,311.77 L639.6,311.76 L640.1,311.76 L640.6,311.75 L641.1,311.75 L641.6,311.75 L642.1,311.74 L642.6,311.74 L643.1,311.73 L643.6,311.73 L644.1,311.72 L644.6,311.72 L645.1,311.71 L645.6,311.71 L646.1,311.7 L646.6,311.7 L647.1,311.69 L647.6,311.69 L648.1,311.68 L648.6,311.68 L649.1,311.67 L649.6,311.67 L650.1,311.67 L650.6,311.66 L651.1,311.66 L651.6,311.65 L652.1,311.65 L652.6,311.64 L653.1,311.64 L653.6,311.63 L654.1,311.63 L654.6,311.62 L655.1,311.62 L655.6,311.61 L656.1,311.61 L656.6,311.6" fill="none" stroke="#20a45e" stroke-width="1.4" stroke-linejoin="round" stroke-linecap="round" />
<path d="M370.6,313.87 L371.1,313.86 L371.6,313.86 L372.1,313.85 L372.6,313.85 L373.1,313.84 L373.6,313.84 L374.1,313.83 L374.6,313.83 L375.1,313.82 L375.6,313.82 L376.1,313.81 L376.6,313.81 L377.1,313.8 L377.6,313.8 L378.1,313.79 L378.6,313.79 L379.1,313.78 L379.6,313.78 L380.1,313.77 L380.6,313.77 L381.1,313.76 L381.6,313.76 L382.1,313.75 L382.6,313.75 L383.1,313.74 L383.6,313.74 L384.1,313.73 L384.6,313.73 L385.1,313.72 L385.6,313.72 L386.1,313.71 L386.6,313.71 L387.1,313.7 L387.6,313.7 L388.1,313.69 L388.6,313.69 L389.1,313.68 L389.6,313.68 L390.1,313.67 L390.6,313.67 L391.1,313.66 L391.6,313.66 L392.1,313.65 L392.6,313.65 L393.1,313.64 L393.6,313.64 L394.1,313.63 L394.6,313.63 L395.1,313.62 L395.6,313.62 L396.1,313.61 L396.6,313.61 L397.1,313.6 L397.6,313.6 L398.1,313.59 L398.6,313.59 L399.1,313.58 L399.6,313.58 L400.1,313.57 L400.6,313.57 L401.1,313.56 L401.6,313.56 L402.1,313.55 L402.6,313.55 L403.1,313.54 L403.6,313.54 L404.1,313.53 L404.6,313.53 L405.1,313.52 L405.6,313.52 L406.1,313.51 L406.6,313.5 L407.1,313.5 L407.6,313.49 L408.1,313.49 L408.6,313.48 L409.1,313.48 L409.6,313.47 L410.1,313.47 L410.6,313.46 L411.1,313.46 L411.6,313.45 L412.1,313.45 L412.6,313.44 L413.1,313.44 L413.6,313.43 L414.1,313.43 L414.6,313.42 L415.1,313.42 L415.6,313.41 L416.1,313.4 L416.6,313.4 L417.1,313.39 L417.6,313.39 L418.1,313.38 L418.6,313.38 L419.1,313.37 L419.6,313.37 L420.1,313.36 L420.6,313.36 L421.1,313.35 L421.6,313.35 L422.1,313.34 L422.6,313.33 L423.1,313.33 L423.6,313.32 L424.1,313.32 L424.6,313.31 L425.1,313.31 L425.6,313.3 L426.1,313.3 L426.6,313.29 L427.1,313.29 L427.6,313.28 L428.1,313.27 L428.6,313.27 L429.1,313.26 L429.6,313.26 L430.1,313.25 L430.6,313.25 L431.1,313.24 L431.6,313.23 L432.1,313.23 L432.6,313.22 L433.1,313.22 L433.6,313.21 L434.1,313.21 L434.6,313.2 L435.1,313.19 L435.6,313.19 L436.1,313.18 L436.6,313.18 L437.1,313.17 L437.6,313.17 L438.1,313.16 L438.6,313.15 L439.1,313.15 L439.6,313.14 L440.1,313.14 L440.6,313.13 L441.1,313.12 L441.6,313.12 L442.1,313.11 L442.6,313.11 L443.1,313.1 L443.6,313.09 L444.1,313.09 L444.6,313.08 L445.1,313.07 L445.6,313.07 L446.1,313.06 L446.6,313.06 L447.1,313.05 L447.6,313.04 L448.1,313.04 L448.6,313.03 L449.1,313.02 L449.6,313.02 L450.1,313.01 L450.6,313 L451.1,313 L451.6,312.99 L452.1,312.98 L452.6,312.98 L453.1,312.97 L453.6,312.96 L454.1,312.96 L454.6,312.95 L455.1,312.94 L455.6,312.94 L456.1,312.93 L456.6,312.92 L457.1,312.91 L457.6,312.91 L458.1,312.9 L458.6,312.89 L459.1,312.88 L459.6,312.88 L460.1,312.87 L460.6,312.86 L461.1,312.85 L461.6,312.85 L462.1,312.84 L462.6,312.83 L463.1,312.82 L463.6,312.82 L464.1,312.81 L464.6,312.8 L465.1,312.79 L465.6,312.78 L466.1,312.77 L466.6,312.77 L467.1,312.76 L467.6,312.75 L468.1,312.74 L468.6,312.73 L469.1,312.72 L469.6,312.71 L470.1,312.7 L470.6,312.69 L471.1,312.68 L471.6,312.67 L472.1,312.66 L472.6,312.65 L473.1,312.64 L473.6,312.63 L474.1,312.62 L474.6,312.61 L475.1,312.6 L475.6,312.59 L476.1,312.57 L476.6,312.56 L477.1,312.55 L477.6,312.54 L478.1,312.52 L478.6,312.51 L479.1,312.49 L479.6,312.48 L480.1,312.46 L480.6,312.45 L481.1,312.43 L481.6,312.41 L482.1,312.39 L482.6,312.37 L483.1,312.35 L483.6,312.33 L484.1,312.3 L484.6,312.28 L485.1,312.25 L485.6,312.22 L486.1,312.19 L486.6,312.16 L487.1,312.12 L487.6,312.08 L488.1,312.04 L488.6,312 L489.1,311.95 L489.6,311.9 L490.1,311.85 L490.6,311.79 L491.1,311.73 L491.6,311.66 L492.1,311.59 L492.6,311.52 L493.1,311.43 L493.6,311.35 L494.1,311.25 L494.6,311.15 L495.1,311.05 L495.6,310.93 L496.1,310.81 L496.6,310.68 L497.1,310.54 L497.6,310.39 L498.1,310.24 L498.6,310.07 L499.1,309.9 L499.6,309.71 L500.1,309.52 L500.6,309.31 L501.1,309.09 L501.6,308.87 L502.1,308.63 L502.6,308.38 L503.1,308.13 L503.6,307.86 L504.1,307.58 L504.6,307.29 L505.1,306.99 L505.6,306.68 L506.1,306.36 L506.6,306.03 L507.1,305.69 L507.6,305.34 L508.1,304.99 L508.6,304.63 L509.1,304.27 L509.6,303.9 L510.1,303.52 L510.6,303.15 L511.1,302.77 L511.6,302.39 L512.1,302.01 L512.6,301.63 L513.1,301.26 L513.6,300.89 L514.1,300.53 L514.6,300.17 L515.1,299.83 L515.6,299.5 L516.1,299.18 L516.6,298.87 L517.1,298.58 L517.6,298.32 L518.1,298.07 L518.6,297.84 L519.1,297.64 L519.6,297.46 L520.1,297.3 L520.6,297.18 L521.1,297.08 L521.6,297.01 L522.1,296.98 L522.6,296.97 L523.1,296.99 L523.6,297.04 L524.1,297.13 L524.6,297.24 L525.1,297.37 L525.6,297.54 L526.1,297.73 L526.6,297.94 L527.1,298.18 L527.6,298.43 L528.1,298.71 L528.6,299 L529.1,299.31 L529.6,299.63 L530.1,299.96 L530.6,300.3 L531.1,300.65 L531.6,301.01 L532.1,301.37 L532.6,301.74 L533.1,302.11 L533.6,302.48 L534.1,302.85 L534.6,303.22 L535.1,303.58 L535.6,303.94 L536.1,304.3 L536.6,304.65 L537.1,305 L537.6,305.34 L538.1,305.66 L538.6,305.99 L539.1,306.3 L539.6,306.6 L540.1,306.89 L540.6,307.18 L541.1,307.45 L541.6,307.71 L542.1,307.96 L542.6,308.2 L543.1,308.43 L543.6,308.65 L544.1,308.86 L544.6,309.06 L545.1,309.24 L545.6,309.42 L546.1,309.59 L546.6,309.75 L547.1,309.9 L547.6,310.04 L548.1,310.17 L548.6,310.29 L549.1,310.4 L549.6,310.51 L550.1,310.61 L550.6,310.7 L551.1,310.79 L551.6,310.87 L552.1,310.94 L552.6,311.01 L553.1,311.07 L553.6,311.13 L554.1,311.18 L554.6,311.23 L555.1,311.28 L555.6,311.32 L556.1,311.36 L556.6,311.39 L557.1,311.42 L557.6,311.45 L558.1,311.48 L558.6,311.5 L559.1,311.52 L559.6,311.54 L560.1,311.56 L560.6,311.58 L561.1,311.59 L561.6,311.61 L562.1,311.62 L562.6,311.63 L563.1,311.64 L563.6,311.65 L564.1,311.66 L564.6,311.66 L565.1,311.67 L565.6,311.68 L566.1,311.68 L566.6,311.69 L567.1,311.69 L567.6,311.69 L568.1,311.7 L568.6,311.7 L569.1,311.7 L569.6,311.71 L570.1,311.71 L570.6,311.71 L571.1,311.71 L571.6,311.71 L572.1,311.71 L572.6,311.71 L573.1,311.71 L573.6,311.72 L574.1,311.72 L574.6,311.72 L575.1,311.72 L575.6,311.72 L576.1,311.72 L576.6,311.72 L577.1,311.71 L577.6,311.71 L578.1,311.71 L578.6,311.71 L579.1,311.71 L579.6,311.71 L580.1,311.71 L580.6,311.71 L581.1,311.71 L581.6,311.71 L582.1,311.7 L582.6,311.7 L583.1,311.7 L583.6,311.7 L584.1,311.7 L584.6,311.7 L585.1,311.69 L585.6,311.69 L586.1,311.69 L586.6,311.69 L587.1,311.69 L587.6,311.68 L588.1,311.68 L588.6,311.68 L589.1,311.68 L589.6,311.67 L590.1,311.67 L590.6,311.67 L591.1,311.67 L591.6,311.66 L592.1,311.66 L592.6,311.66 L593.1,311.66 L593.6,311.65 L594.1,311.65 L594.6,311.65 L595.1,311.64 L595.6,311.64 L596.1,311.64 L596.6,311.64 L597.1,311.63 L597.6,311.63 L598.1,311.63 L598.6,311.62 L599.1,311.62 L599.6,311.62 L600.1,311.61 L600.6,311.61 L601.1,311.61 L601.6,311.6 L602.1,311.6 L602.6,311.6 L603.1,311.59 L603.6,311.59 L604.1,311.59 L604.6,311.58 L605.1,311.58 L605.6,311.58 L606.1,311.57 L606.6,311.57 L607.1,311.57 L607.6,311.56 L608.1,311.56 L608.6,311.56 L609.1,311.55 L609.6,311.55 L610.1,311.55 L610.6,311.54 L611.1,311.54 L611.6,311.53 L612.1,311.53 L612.6,311.53 L613.1,311.52 L613.6,311.52 L614.1,311.52 L614.6,311.51 L615.1,311.51 L615.6,311.5 L616.1,311.5 L616.6,311.5 L617.1,311.49 L617.6,311.49 L618.1,311.49 L618.6,311.48 L619.1,311.48 L619.6,311.47 L620.1,311.47 L620.6,311.47 L621.1,311.46 L621.6,311.46 L622.1,311.45 L622.6,311.45 L623.1,311.45 L623.6,311.44 L624.1,311.44 L624.6,311.43 L625.1,311.43 L625.6,311.43 L626.1,311.42 L626.6,311.42 L627.1,311.41 L627.6,311.41 L628.1,311.41 L628.6,311.4 L629.1,311.4 L629.6,311.39 L630.1,311.39 L630.6,311.39 L631.1,311.38 L631.6,311.38 L632.1,311.37 L632.6,311.37 L633.1,311.36 L633.6,311.36 L634.1,311.36 L634.6,311.35 L635.1,311.35 L635.6,311.34 L636.1,311.34 L636.6,311.33 L637.1,311.33 L637.6,311.33 L638.1,311.32 L638.6,311.32 L639.1,311.31 L639.6,311.31 L640.1,311.31 L640.6,311.3 L641.1,311.3 L641.6,311.29 L642.1,311.29 L642.6,311.28 L643.1,311.28 L643.6,311.28 L644.1,311.27 L644.6,311.27 L645.1,311.26 L645.6,311.26 L646.1,311.25 L646.6,311.25 L647.1,311.25 L647.6,311.24 L648.1,311.24 L648.6,311.23 L649.1,311.23 L649.6,311.22 L650.1,311.22 L650.6,311.21 L651.1,311.21 L651.6,311.21 L652.1,311.2 L652.6,311.2 L653.1,311.19 L653.6,311.19 L654.1,311.18 L654.6,311.18 L655.1,311.18 L655.6,311.17 L656.1,311.17 L656.6,311.16" fill="none" stroke="#c03cc0" stroke-width="1.4" stroke-linejoin="round" stroke-linecap="round" />
<path d="M370.6,315.29 L371.1,315.21 L371.6,315.13 L372.1,315.05 L372.6,314.97 L373.1,314.9 L373.6,314.83 L374.1,314.77 L374.6,314.7 L375.1,314.64 L375.6,314.58 L376.1,314.53 L376.6,314.47 L377.1,314.42 L377.6,314.37 L378.1,314.33 L378.6,314.28 L379.1,314.24 L379.6,314.2 L380.1,314.16 L380.6,314.13 L381.1,314.09 L381.6,314.06 L382.1,314.03 L382.6,314 L383.1,313.97 L383.6,313.95 L384.1,313.92 L384.6,313.9 L385.1,313.87 L385.6,313.85 L386.1,313.83 L386.6,313.81 L387.1,313.8 L387.6,313.78 L388.1,313.76 L388.6,313.75 L389.1,313.73 L389.6,313.72 L390.1,313.71 L390.6,313.69 L391.1,313.68 L391.6,313.67 L392.1,313.66 L392.6,313.64 L393.1,313.63 L393.6,313.62 L394.1,313.61 L394.6,313.6 L395.1,313.59 L395.6,313.58 L396.1,313.56 L396.6,313.55 L397.1,313.54 L397.6,313.52 L398.1,313.51 L398.6,313.5 L399.1,313.48 L399.6,313.46 L400.1,313.45 L400.6,313.43 L401.1,313.41 L401.6,313.39 L402.1,313.37 L402.6,313.35 L403.1,313.32 L403.6,313.3 L404.1,313.27 L404.6,313.24 L405.1,313.21 L405.6,313.18 L406.1,313.15 L406.6,313.12 L407.1,313.08 L407.6,313.04 L408.1,313 L408.6,312.96 L409.1,312.91 L409.6,312.87 L410.1,312.82 L410.6,312.77 L411.1,312.71 L411.6,312.66 L412.1,312.6 L412.6,312.54 L413.1,312.48 L413.6,312.41 L414.1,312.34 L414.6,312.27 L415.1,312.19 L415.6,312.11 L416.1,312.03 L416.6,311.95 L417.1,311.86 L417.6,311.77 L418.1,311.67 L418.6,311.57 L419.1,311.47 L419.6,311.37 L420.1,311.26 L420.6,311.15 L421.1,311.03 L421.6,310.91 L422.1,310.78 L422.6,310.66 L423.1,310.52 L423.6,310.39 L424.1,310.25 L424.6,310.1 L425.1,309.95 L425.6,309.8 L426.1,309.64 L426.6,309.48 L427.1,309.32 L427.6,309.15 L428.1,308.98 L428.6,308.8 L429.1,308.62 L429.6,308.43 L430.1,308.24 L430.6,308.05 L431.1,307.85 L431.6,307.65 L432.1,307.44 L432.6,307.23 L433.1,307.01 L433.6,306.79 L434.1,306.57 L434.6,306.34 L435.1,306.11 L435.6,305.88 L436.1,305.64 L436.6,305.39 L437.1,305.14 L437.6,304.89 L438.1,304.63 L438.6,304.37 L439.1,304.11 L439.6,303.84 L440.1,303.57 L440.6,303.29 L441.1,303 L441.6,302.72 L442.1,302.43 L442.6,302.13 L443.1,301.83 L443.6,301.53 L444.1,301.22 L444.6,300.91 L445.1,300.59 L445.6,300.27 L446.1,299.95 L446.6,299.62 L447.1,299.28 L447.6,298.94 L448.1,298.6 L448.6,298.25 L449.1,297.9 L449.6,297.55 L450.1,297.19 L450.6,296.82 L451.1,296.46 L451.6,296.08 L452.1,295.7 L452.6,295.32 L453.1,294.94 L453.6,294.55 L454.1,294.15 L454.6,293.76 L455.1,293.36 L455.6,292.95 L456.1,292.55 L456.6,292.14 L457.1,291.73 L457.6,291.32 L458.1,290.91 L458.6,290.5 L459.1,290.08 L459.6,289.67 L460.1,289.25 L460.6,288.84 L461.1,288.42 L461.6,288.01 L462.1,287.6 L462.6,287.19 L463.1,286.77 L463.6,286.37 L464.1,285.96 L464.6,285.55 L465.1,285.15 L465.6,284.75 L466.1,284.36 L466.6,283.97 L467.1,283.58 L467.6,283.19 L468.1,282.81 L468.6,282.44 L469.1,282.06 L469.6,281.7 L470.1,281.34 L470.6,280.99 L471.1,280.64 L471.6,280.3 L472.1,279.97 L472.6,279.65 L473.1,279.33 L473.6,279.02 L474.1,278.73 L474.6,278.44 L475.1,278.16 L475.6,277.89 L476.1,277.63 L476.6,277.39 L477.1,277.15 L477.6,276.93 L478.1,276.72 L478.6,276.52 L479.1,276.34 L479.6,276.16 L480.1,276 L480.6,275.85 L481.1,275.71 L481.6,275.58 L482.1,275.47 L482.6,275.36 L483.1,275.27 L483.6,275.19 L484.1,275.11 L484.6,275.05 L485.1,275 L485.6,274.96 L486.1,274.92 L486.6,274.9 L487.1,274.89 L487.6,274.88 L488.1,274.89 L488.6,274.9 L489.1,274.92 L489.6,274.96 L490.1,274.99 L490.6,275.04 L491.1,275.1 L491.6,275.16 L492.1,275.23 L492.6,275.31 L493.1,275.39 L493.6,275.49 L494.1,275.58 L494.6,275.69 L495.1,275.8 L495.6,275.92 L496.1,276.05 L496.6,276.18 L497.1,276.31 L497.6,276.46 L498.1,276.61 L498.6,276.76 L499.1,276.93 L499.6,277.09 L500.1,277.26 L500.6,277.44 L501.1,277.63 L501.6,277.82 L502.1,278.01 L502.6,278.21 L503.1,278.41 L503.6,278.62 L504.1,278.84 L504.6,279.05 L505.1,279.28 L505.6,279.5 L506.1,279.74 L506.6,279.97 L507.1,280.21 L507.6,280.46 L508.1,280.7 L508.6,280.96 L509.1,281.21 L509.6,281.47 L510.1,281.74 L510.6,282 L511.1,282.27 L511.6,282.54 L512.1,282.82 L512.6,283.1 L513.1,283.38 L513.6,283.67 L514.1,283.95 L514.6,284.24 L515.1,284.54 L515.6,284.83 L516.1,285.13 L516.6,285.43 L517.1,285.73 L517.6,286.04 L518.1,286.34 L518.6,286.65 L519.1,286.96 L519.6,287.27 L520.1,287.58 L520.6,287.9 L521.1,288.21 L521.6,288.53 L522.1,288.85 L522.6,289.16 L523.1,289.48 L523.6,289.8 L524.1,290.12 L524.6,290.45 L525.1,290.77 L525.6,291.09 L526.1,291.41 L526.6,291.73 L527.1,292.06 L527.6,292.38 L528.1,292.7 L528.6,293.02 L529.1,293.35 L529.6,293.67 L530.1,293.99 L530.6,294.31 L531.1,294.63 L531.6,294.95 L532.1,295.27 L532.6,295.58 L533.1,295.9 L533.6,296.21 L534.1,296.53 L534.6,296.84 L535.1,297.15 L535.6,297.46 L536.1,297.76 L536.6,298.07 L537.1,298.37 L537.6,298.67 L538.1,298.97 L538.6,299.26 L539.1,299.56 L539.6,299.85 L540.1,300.14 L540.6,300.42 L541.1,300.71 L541.6,300.99 L542.1,301.27 L542.6,301.54 L543.1,301.81 L543.6,302.08 L544.1,302.34 L544.6,302.6 L545.1,302.86 L545.6,303.11 L546.1,303.36 L546.6,303.61 L547.1,303.85 L547.6,304.09 L548.1,304.32 L548.6,304.55 L549.1,304.78 L549.6,305 L550.1,305.21 L550.6,305.42 L551.1,305.63 L551.6,305.83 L552.1,306.03 L552.6,306.22 L553.1,306.4 L553.6,306.58 L554.1,306.76 L554.6,306.93 L555.1,307.1 L555.6,307.26 L556.1,307.41 L556.6,307.56 L557.1,307.71 L557.6,307.85 L558.1,307.99 L558.6,308.13 L559.1,308.26 L559.6,308.38 L560.1,308.5 L560.6,308.62 L561.1,308.73 L561.6,308.84 L562.1,308.95 L562.6,309.05 L563.1,309.15 L563.6,309.25 L564.1,309.34 L564.6,309.42 L565.1,309.51 L565.6,309.59 L566.1,309.67 L566.6,309.74 L567.1,309.81 L567.6,309.88 L568.1,309.95 L568.6,310.01 L569.1,310.07 L569.6,310.13 L570.1,310.18 L570.6,310.24 L571.1,310.29 L571.6,310.33 L572.1,310.38 L572.6,310.42 L573.1,310.46 L573.6,310.5 L574.1,310.53 L574.6,310.57 L575.1,310.6 L575.6,310.63 L576.1,310.66 L576.6,310.69 L577.1,310.71 L577.6,310.74 L578.1,310.76 L578.6,310.78 L579.1,310.8 L579.6,310.82 L580.1,310.84 L580.6,310.85 L581.1,310.87 L581.6,310.88 L582.1,310.89 L582.6,310.91 L583.1,310.92 L583.6,310.93 L584.1,310.94 L584.6,310.95 L585.1,310.96 L585.6,310.97 L586.1,310.98 L586.6,310.99 L587.1,311 L587.6,311 L588.1,311.01 L588.6,311.02 L589.1,311.03 L589.6,311.04 L590.1,311.05 L590.6,311.06 L591.1,311.07 L591.6,311.08 L592.1,311.09 L592.6,311.1 L593.1,311.11 L593.6,311.12 L594.1,311.13 L594.6,311.14 L595.1,311.16 L595.6,311.17 L596.1,311.18 L596.6,311.19 L597.1,311.2 L597.6,311.22 L598.1,311.23 L598.6,311.24 L599.1,311.26 L599.6,311.27 L600.1,311.29 L600.6,311.3 L601.1,311.31 L601.6,311.33 L602.1,311.34 L602.6,311.36 L603.1,311.37 L603.6,311.39 L604.1,311.4 L604.6,311.42 L605.1,311.43 L605.6,311.45 L606.1,311.46 L606.6,311.48 L607.1,311.49 L607.6,311.51 L608.1,311.52 L608.6,311.54 L609.1,311.56 L609.6,311.57 L610.1,311.59 L610.6,311.6 L611.1,311.62 L611.6,311.63 L612.1,311.65 L612.6,311.67 L613.1,311.68 L613.6,311.7 L614.1,311.71 L614.6,311.73 L615.1,311.74 L615.6,311.76 L616.1,311.77 L616.6,311.79 L617.1,311.8 L617.6,311.82 L618.1,311.83 L618.6,311.85 L619.1,311.86 L619.6,311.88 L620.1,311.89 L620.6,311.91 L621.1,311.92 L621.6,311.94 L622.1,311.95 L622.6,311.96 L623.1,311.98 L623.6,311.99 L624.1,312 L624.6,312.02 L625.1,312.03 L625.6,312.04 L626.1,312.06 L626.6,312.07 L627.1,312.08 L627.6,312.09 L628.1,312.1 L628.6,312.12 L629.1,312.13 L629.6,312.14 L630.1,312.15 L630.6,312.16 L631.1,312.17 L631.6,312.18 L632.1,312.19 L632.6,312.2 L633.1,312.21 L633.6,312.21 L634.1,312.22 L634.6,312.23 L635.1,312.24 L635.6,312.24 L636.1,312.25 L636.6,312.26 L637.1,312.26 L637.6,312.27 L638.1,312.27 L638.6,312.28 L639.1,312.28 L639.6,312.29 L640.1,312.29 L640.6,312.3 L641.1,312.3 L641.6,312.3 L642.1,312.3 L642.6,312.3 L643.1,312.3 L643.6,312.31 L644.1,312.31 L644.6,312.31 L645.1,312.3 L645.6,312.3 L646.1,312.3 L646.6,312.3 L647.1,312.3 L647.6,312.29 L648.1,312.29 L648.6,312.28 L649.1,312.28 L649.6,312.27 L650.1,312.27 L650.6,312.26 L651.1,312.25 L651.6,312.25 L652.1,312.24 L652.6,312.23 L653.1,312.22 L653.6,312.21 L654.1,312.2 L654.6,312.19 L655.1,312.17 L655.6,312.16 L656.1,312.15 L656.6,312.13" fill="none" stroke="#ff0000" stroke-width="2.6" stroke-linejoin="round" stroke-linecap="round" />
<path d="M370.6,317.57 L372.43,314.85 L374.2,316.77 L375.36,314.89 L376.49,317.01 L378.28,314 L380.3,315.63 L381.54,313.37 L382.81,316.38 L384.67,313.28 L386.23,316.36 L387.73,313.74 L389.15,315.72 L390.22,313.46 L391.77,315.76 L393.13,313.59 L394.6,315.75 L396.25,313.28 L398.07,315.28 L399.82,312.89 L401.71,315.02 L402.73,313.23 L404.51,315.8 L406.17,312.97 L408.19,314.71 L410.31,311.89 L411.33,315.16 L413.32,311.6 L414.63,313.67 L416.38,308.24 L418.29,311.38 L420.31,310.74 L422.44,313.36 L424.2,310.09 L426.23,311.71 L427.83,309.57 L429.11,311.21 L430.3,308.63 L431.9,310.3 L433.79,307.96 L435.33,308.94 L437.15,305.93 L438.3,308.16 L440.47,304.65 L442.03,306.01 L444.03,302.25 L445.9,303.82 L447.84,299.49 L449.3,300.53 L450.43,297.82 L451.98,299.22 L453.38,295.19 L454.85,296.63 L457.04,292.81 L458.42,294.07 L460.35,290.42 L461.55,291.43 L463.27,287.65 L464.68,288.85 L465.97,285.86 L467.44,286.12 L469.57,282.87 L471.26,283.41 L472.88,279.63 L474.85,281.44 L476.45,278.19 L477.59,279.32 L478.74,275.77 L480.6,278.16 L482.16,274.48 L483.42,271.54 L485.58,274.28 L486.9,277.32 L488.84,274.49 L490.22,276.85 L492.12,275.31 L493.75,277.72 L494.79,276.1 L496.65,278.79 L498,277.09 L499.52,280.14 L501.38,278.47 L503.57,282.36 L505.11,279.76 L506.91,283.82 L508.5,280.75 L510.3,287.06 L511.49,282.45 L513.68,289 L514.85,283.93 L516.65,290.06 L517.73,285.95 L518.84,290.39 L520.88,289.76 L522.78,297.57 L523.9,292.84 L525.24,299.31 L526.32,295.38 L528.44,299.53 L530.46,298.6 L532.39,301.77 L534.23,299.8 L536.04,305.59 L537.08,302.49 L538.14,307.41 L539.51,303.69 L541.2,307.57 L543.19,304.8 L544.72,309 L546.02,306.67 L547.78,311.58 L549.93,307.75 L551.51,311.72 L553.18,308.05 L554.53,315.15 L556.44,309.89 L557.61,313.32 L559.42,308.74 L560.68,312.95 L562.49,310.65 L564.09,314.66 L566.08,310.73 L567.76,314.61 L569.85,309.52 L571.39,310.47 L572.41,309.77 L574.58,313.74 L576.5,310.21 L578.49,313.03 L580.48,310.1 L581.63,313.25 L583.68,309.26 L584.78,311.97 L586.15,308.94 L587.35,312.63 L588.92,309.58 L590.15,312.63 L591.41,309.48 L593.1,312.6 L594.29,308.83 L595.87,313.13 L597.71,310.37 L598.72,312.48 L600.79,308.22 L602.69,313.7 L604.59,309.79 L606.46,313.21 L608.62,309.24 L609.79,313.65 L610.89,310.62 L612.78,313.25 L613.8,310.01 L615.55,313.28 L617.3,311.12 L619.41,313.46 L620.53,309.63 L621.95,313.78 L623.86,311.1 L625.28,313.9 L626.63,311.1 L627.85,314.43 L628.87,310.53 L630.5,315.86 L631.58,311.37 L633.14,314.52 L635.02,310.69 L636.53,313.77 L638.26,311.51 L640.4,314.11 L641.62,311.22 L643.39,313.37 L645.19,307.8 L646.8,314.08 L648.21,311.41 L649.41,313.86 L650.86,311.58 L652.52,312.93 L654.69,309.42 L656.02,314.02 L657,310.73" fill="none" stroke="#000" stroke-width="1.2" stroke-linejoin="round" stroke-linecap="round" />
<path d="M370.6,217.1 L657,217.1 L657,362.1 L370.6,362.1 Z" fill="none" stroke="#1a1a1a" stroke-width="1.8" stroke-linejoin="miter"/>
<path d="M379.5,231.3 L393.8,231.3" fill="none" stroke="#111" stroke-width="1.5" stroke-linejoin="round" stroke-linecap="butt"/>
<path d="M379.5,246.5 L395.6,246.5" fill="none" stroke="#ff0000" stroke-width="2.6" stroke-linejoin="round" stroke-linecap="butt"/>
<path d="M380,266.3 L395.6,266.3" fill="none" stroke="#c03cc0" stroke-width="1.5" stroke-linejoin="round" stroke-linecap="butt"/>
<path d="M380,284.9 L395.6,284.9" fill="none" stroke="#20a45e" stroke-width="1.5" stroke-linejoin="round" stroke-linecap="butt"/>
<text x="398" y="232.6" font-size="10.5" text-anchor="start" font-weight="normal" fill="#111" >Raw curve</text>
<text x="396.9" y="249.6" font-size="10.5" text-anchor="start" font-weight="normal" fill="#111" >Global fitting curve</text>
<text x="396.9" y="269.3" font-size="10.5" text-anchor="start" font-weight="normal" fill="#111" >C-O</text>
<text x="396.9" y="288" font-size="10.5" text-anchor="start" font-weight="normal" fill="#111" >C=C</text>
<text x="370.6" y="376.4" font-size="9.3" text-anchor="middle" font-weight="bold" fill="#111" >278</text>
<text x="411.51" y="376.4" font-size="9.3" text-anchor="middle" font-weight="bold" fill="#111" >280</text>
<text x="452.43" y="376.4" font-size="9.3" text-anchor="middle" font-weight="bold" fill="#111" >282</text>
<text x="493.34" y="376.4" font-size="9.3" text-anchor="middle" font-weight="bold" fill="#111" >284</text>
<text x="534.26" y="376.4" font-size="9.3" text-anchor="middle" font-weight="bold" fill="#111" >286</text>
<text x="575.17" y="376.4" font-size="9.3" text-anchor="middle" font-weight="bold" fill="#111" >288</text>
<text x="616.09" y="376.4" font-size="9.3" text-anchor="middle" font-weight="bold" fill="#111" >290</text>
<text x="657" y="376.4" font-size="9.3" text-anchor="middle" font-weight="bold" fill="#111" >292</text>
<text x="513.9" y="388.2" font-size="12.05" text-anchor="middle" font-weight="normal" fill="#111" >Binding Energy(eV)</text>
<text x="364.4" y="301.25" font-size="13.2" text-anchor="middle" font-weight="normal" fill="#111" transform="rotate(-90 364.4 301.25)" >Intensity(counts.)</text>
<text x="7.8" y="410.3" font-size="14.3" text-anchor="start" font-weight="normal" fill="#111" >(e)</text>
<path d="M20.1,532.9 L20.6,532.9 L21.1,532.89 L21.6,532.89 L22.1,532.88 L22.6,532.88 L23.1,532.87 L23.6,532.87 L24.1,532.86 L24.6,532.86 L25.1,532.85 L25.6,532.85 L26.1,532.84 L26.6,532.84 L27.1,532.83 L27.6,532.83 L28.1,532.82 L28.6,532.82 L29.1,532.81 L29.6,532.81 L30.1,532.8 L30.6,532.8 L31.1,532.79 L31.6,532.79 L32.1,532.78 L32.6,532.78 L33.1,532.77 L33.6,532.77 L34.1,532.76 L34.6,532.76 L35.1,532.75 L35.6,532.75 L36.1,532.75 L36.6,532.74 L37.1,532.74 L37.6,532.73 L38.1,532.73 L38.6,532.72 L39.1,532.72 L39.6,532.71 L40.1,532.71 L40.6,532.7 L41.1,532.7 L41.6,532.69 L42.1,532.69 L42.6,532.68 L43.1,532.68 L43.6,532.67 L44.1,532.67 L44.6,532.66 L45.1,532.66 L45.6,532.65 L46.1,532.65 L46.6,532.64 L47.1,532.64 L47.6,532.63 L48.1,532.63 L48.6,532.62 L49.1,532.62 L49.6,532.61 L50.1,532.61 L50.6,532.61 L51.1,532.6 L51.6,532.6 L52.1,532.59 L52.6,532.59 L53.1,532.58 L53.6,532.58 L54.1,532.57 L54.6,532.57 L55.1,532.56 L55.6,532.56 L56.1,532.55 L56.6,532.55 L57.1,532.54 L57.6,532.54 L58.1,532.53 L58.6,532.53 L59.1,532.52 L59.6,532.52 L60.1,532.52 L60.6,532.53 L61.1,532.54 L61.6,532.56 L62.1,532.57 L62.6,532.58 L63.1,532.6 L63.6,532.61 L64.1,532.62 L64.6,532.64 L65.1,532.65 L65.6,532.66 L66.1,532.67 L66.6,532.69 L67.1,532.7 L67.6,532.71 L68.1,532.73 L68.6,532.74 L69.1,532.75 L69.6,532.77 L70.1,532.78 L70.6,532.79 L71.1,532.81 L71.6,532.82 L72.1,532.83 L72.6,532.85 L73.1,532.86 L73.6,532.87 L74.1,532.89 L74.6,532.9 L75.1,532.91 L75.6,532.92 L76.1,532.94 L76.6,532.95 L77.1,532.96 L77.6,532.98 L78.1,532.99 L78.6,533 L79.1,533.02 L79.6,533.03 L80.1,533.04 L80.6,533.06 L81.1,533.07 L81.6,533.08 L82.1,533.1 L82.6,533.11 L83.1,533.12 L83.6,533.14 L84.1,533.15 L84.6,533.16 L85.1,533.17 L85.6,533.19 L86.1,533.2 L86.6,533.21 L87.1,533.23 L87.6,533.24 L88.1,533.25 L88.6,533.27 L89.1,533.28 L89.6,533.29 L90.1,533.31 L90.6,533.32 L91.1,533.33 L91.6,533.35 L92.1,533.36 L92.6,533.37 L93.1,533.39 L93.6,533.4 L94.1,533.41 L94.6,533.43 L95.1,533.44 L95.6,533.45 L96.1,533.46 L96.6,533.48 L97.1,533.49 L97.6,533.5 L98.1,533.52 L98.6,533.53 L99.1,533.54 L99.6,533.56 L100.1,533.57 L100.6,533.58 L101.1,533.6 L101.6,533.61 L102.1,533.62 L102.6,533.64 L103.1,533.65 L103.6,533.66 L104.1,533.68 L104.6,533.69 L105.1,533.7 L105.6,533.71 L106.1,533.73 L106.6,533.74 L107.1,533.75 L107.6,533.77 L108.1,533.78 L108.6,533.79 L109.1,533.81 L109.6,533.82 L110.1,533.83 L110.6,533.82 L111.1,533.82 L111.6,533.82 L112.1,533.81 L112.6,533.81 L113.1,533.8 L113.6,533.8 L114.1,533.79 L114.6,533.79 L115.1,533.78 L115.6,533.78 L116.1,533.77 L116.6,533.77 L117.1,533.76 L117.6,533.76 L118.1,533.75 L118.6,533.75 L119.1,533.74 L119.6,533.74 L120.1,533.73 L120.6,533.73 L121.1,533.72 L121.6,533.72 L122.1,533.71 L122.6,533.71 L123.1,533.7 L123.6,533.7 L124.1,533.69 L124.6,533.69 L125.1,533.68 L125.6,533.68 L126.1,533.67 L126.6,533.67 L127.1,533.67 L127.6,533.66 L128.1,533.66 L128.6,533.65 L129.1,533.65 L129.6,533.64 L130.1,533.64 L130.6,533.63 L131.1,533.63 L131.6,533.62 L132.1,533.62 L132.6,533.61 L133.1,533.61 L133.6,533.6 L134.1,533.6 L134.6,533.59 L135.1,533.59 L135.6,533.58 L136.1,533.58 L136.6,533.57 L137.1,533.57 L137.6,533.56 L138.1,533.56 L138.6,533.55 L139.1,533.55 L139.6,533.54 L140.1,533.54 L140.6,533.53 L141.1,533.53 L141.6,533.52 L142.1,533.52 L142.6,533.52 L143.1,533.51 L143.6,533.51 L144.1,533.5 L144.6,533.5 L145.1,533.49 L145.6,533.49 L146.1,533.48 L146.6,533.48 L147.1,533.47 L147.6,533.47 L148.1,533.46 L148.6,533.46 L149.1,533.45 L149.6,533.45 L150.1,533.44 L150.6,533.44 L151.1,533.43 L151.6,533.43 L152.1,533.42 L152.6,533.42 L153.1,533.41 L153.6,533.41 L154.1,533.4 L154.6,533.4 L155.1,533.39 L155.6,533.39 L156.1,533.38 L156.6,533.38 L157.1,533.37 L157.6,533.37 L158.1,533.37 L158.6,533.36 L159.1,533.36 L159.6,533.35 L160.1,533.35 L160.6,533.34 L161.1,533.34 L161.6,533.33 L162.1,533.33 L162.6,533.32 L163.1,533.32 L163.6,533.31 L164.1,533.31 L164.6,533.3 L165.1,533.3 L165.6,533.29 L166.1,533.29 L166.6,533.28 L167.1,533.28 L167.6,533.27 L168.1,533.27 L168.6,533.26 L169.1,533.26 L169.6,533.25 L170.1,533.25 L170.6,533.24 L171.1,533.24 L171.6,533.23 L172.1,533.23 L172.6,533.23 L173.1,533.22 L173.6,533.22 L174.1,533.21 L174.6,533.21 L175.1,533.2 L175.6,533.2 L176.1,533.19 L176.6,533.19 L177.1,533.18 L177.6,533.18 L178.1,533.17 L178.6,533.17 L179.1,533.16 L179.6,533.16 L180.1,533.15 L180.6,533.15 L181.1,533.14 L181.6,533.14 L182.1,533.13 L182.6,533.13 L183.1,533.12 L183.6,533.12 L184.1,533.11 L184.6,533.11 L185.1,533.1 L185.6,533.1 L186.1,533.09 L186.6,533.09 L187.1,533.08 L187.6,533.08 L188.1,533.08 L188.6,533.07 L189.1,533.07 L189.6,533.06 L190.1,533.06 L190.6,533.05 L191.1,533.05 L191.6,533.04 L192.1,533.04 L192.6,533.03 L193.1,533.03 L193.6,533.02 L194.1,533.02 L194.6,533.01 L195.1,533.01 L195.6,533 L196.1,533 L196.6,532.99 L197.1,532.99 L197.6,532.98 L198.1,532.98 L198.6,532.97 L199.1,532.97 L199.6,532.96 L200.1,532.95 L200.6,532.95 L201.1,532.94 L201.6,532.94 L202.1,532.93 L202.6,532.92 L203.1,532.91 L203.6,532.9 L204.1,532.89 L204.6,532.88 L205.1,532.87 L205.6,532.86 L206.1,532.84 L206.6,532.82 L207.1,532.8 L207.6,532.78 L208.1,532.76 L208.6,532.73 L209.1,532.69 L209.6,532.65 L210.1,532.61 L210.6,532.56 L211.1,532.5 L211.6,532.44 L212.1,532.36 L212.6,532.28 L213.1,532.18 L213.6,532.08 L214.1,531.96 L214.6,531.83 L215.1,531.68 L215.6,531.52 L216.1,531.35 L216.6,531.16 L217.1,530.94 L217.6,530.72 L218.1,530.47 L218.6,530.2 L219.1,529.92 L219.6,529.62 L220.1,529.3 L220.6,528.96 L221.1,528.6 L221.6,528.23 L222.1,527.85 L222.6,527.45 L223.1,527.04 L223.6,526.63 L224.1,526.21 L224.6,525.78 L225.1,525.36 L225.6,524.94 L226.1,524.53 L226.6,524.13 L227.1,523.75 L227.6,523.38 L228.1,523.03 L228.6,522.71 L229.1,522.42 L229.6,522.15 L230.1,521.92 L230.6,521.73 L231.1,521.57 L231.6,521.46 L232.1,521.38 L232.6,521.35 L233.1,521.35 L233.6,521.4 L234.1,521.49 L234.6,521.62 L235.1,521.79 L235.6,522 L236.1,522.24 L236.6,522.51 L237.1,522.82 L237.6,523.14 L238.1,523.49 L238.6,523.86 L239.1,524.25 L239.6,524.65 L240.1,525.05 L240.6,525.46 L241.1,525.88 L241.6,526.29 L242.1,526.7 L242.6,527.1 L243.1,527.49 L243.6,527.87 L244.1,528.23 L244.6,528.59 L245.1,528.92 L245.6,529.24 L246.1,529.54 L246.6,529.82 L247.1,530.09 L247.6,530.33 L248.1,530.56 L248.6,530.77 L249.1,530.96 L249.6,531.13 L250.1,531.29 L250.6,531.43 L251.1,531.55 L251.6,531.67 L252.1,531.77 L252.6,531.86 L253.1,531.93 L253.6,532 L254.1,532.06 L254.6,532.11 L255.1,532.16 L255.6,532.19 L256.1,532.22 L256.6,532.25 L257.1,532.27 L257.6,532.29 L258.1,532.3 L258.6,532.32 L259.1,532.32 L259.6,532.33 L260.1,532.34 L260.6,532.34 L261.1,532.34 L261.6,532.34 L262.1,532.34 L262.6,532.34 L263.1,532.34 L263.6,532.34 L264.1,532.33 L264.6,532.33 L265.1,532.33 L265.6,532.32 L266.1,532.32 L266.6,532.31 L267.1,532.31 L267.6,532.3 L268.1,532.3 L268.6,532.3 L269.1,532.29 L269.6,532.29 L270.1,532.28 L270.6,532.28 L271.1,532.27 L271.6,532.27 L272.1,532.26 L272.6,532.26 L273.1,532.25 L273.6,532.25 L274.1,532.24 L274.6,532.24 L275.1,532.23 L275.6,532.23 L276.1,532.22 L276.6,532.22 L277.1,532.21 L277.6,532.21 L278.1,532.2 L278.6,532.2 L279.1,532.19 L279.6,532.19 L280.1,532.19 L280.6,532.18 L281.1,532.18 L281.6,532.17 L282.1,532.17 L282.6,532.16 L283.1,532.16 L283.6,532.15 L284.1,532.15 L284.6,532.14 L285.1,532.14 L285.6,532.13 L286.1,532.13 L286.6,532.12 L287.1,532.12 L287.6,532.11 L288.1,532.11 L288.6,532.1 L289.1,532.1 L289.6,532.09 L290.1,532.09 L290.6,532.08 L291.1,532.08 L291.6,532.07 L292.1,532.07 L292.6,532.06 L293.1,532.06 L293.6,532.05 L294.1,532.05 L294.6,532.05 L295.1,532.04 L295.6,532.04 L296.1,532.03 L296.6,532.03 L297.1,532.02 L297.6,532.02 L298.1,532.01 L298.6,532.01 L299.1,532 L299.6,532 L300.1,531.99 L300.6,531.99 L301.1,531.98 L301.6,531.98 L302.1,531.97 L302.6,531.97 L303.1,531.96 L303.6,531.96 L304.1,531.95 L304.6,531.95 L305.1,531.94 L305.6,531.94 L306.1,531.93 L306.6,531.93 L307.1,531.92 L307.6,531.92 L308.1,531.91 L308.6,531.91 L309.1,531.9 L309.6,531.9" fill="none" stroke="#7a3ab8" stroke-width="1.4" stroke-linejoin="round" stroke-linecap="round" />
<path d="M20.1,534.4 L20.6,534.4 L21.1,534.39 L21.6,534.39 L22.1,534.38 L22.6,534.38 L23.1,534.37 L23.6,534.37 L24.1,534.36 L24.6,534.36 L25.1,534.35 L25.6,534.35 L26.1,534.34 L26.6,534.34 L27.1,534.33 L27.6,534.33 L28.1,534.32 L28.6,534.32 L29.1,534.31 L29.6,534.31 L30.1,534.3 L30.6,534.3 L31.1,534.29 L31.6,534.29 L32.1,534.28 L32.6,534.28 L33.1,534.27 L33.6,534.27 L34.1,534.26 L34.6,534.26 L35.1,534.25 L35.6,534.25 L36.1,534.25 L36.6,534.24 L37.1,534.24 L37.6,534.23 L38.1,534.23 L38.6,534.22 L39.1,534.22 L39.6,534.21 L40.1,534.21 L40.6,534.2 L41.1,534.2 L41.6,534.19 L42.1,534.19 L42.6,534.18 L43.1,534.18 L43.6,534.17 L44.1,534.17 L44.6,534.16 L45.1,534.16 L45.6,534.15 L46.1,534.15 L46.6,534.14 L47.1,534.14 L47.6,534.13 L48.1,534.13 L48.6,534.12 L49.1,534.12 L49.6,534.11 L50.1,534.11 L50.6,534.11 L51.1,534.1 L51.6,534.1 L52.1,534.09 L52.6,534.09 L53.1,534.08 L53.6,534.08 L54.1,534.07 L54.6,534.07 L55.1,534.06 L55.6,534.06 L56.1,534.05 L56.6,534.05 L57.1,534.04 L57.6,534.04 L58.1,534.03 L58.6,534.03 L59.1,534.02 L59.6,534.02 L60.1,534.01 L60.6,534.01 L61.1,534 L61.6,534 L62.1,533.99 L62.6,533.99 L63.1,533.98 L63.6,533.98 L64.1,533.97 L64.6,533.97 L65.1,533.96 L65.6,533.96 L66.1,533.96 L66.6,533.95 L67.1,533.95 L67.6,533.94 L68.1,533.94 L68.6,533.93 L69.1,533.93 L69.6,533.92 L70.1,533.92 L70.6,533.91 L71.1,533.91 L71.6,533.9 L72.1,533.9 L72.6,533.89 L73.1,533.89 L73.6,533.88 L74.1,533.88 L74.6,533.87 L75.1,533.87 L75.6,533.86 L76.1,533.86 L76.6,533.85 L77.1,533.85 L77.6,533.84 L78.1,533.84 L78.6,533.83 L79.1,533.83 L79.6,533.82 L80.1,533.82 L80.6,533.81 L81.1,533.81 L81.6,533.81 L82.1,533.8 L82.6,533.8 L83.1,533.79 L83.6,533.79 L84.1,533.78 L84.6,533.78 L85.1,533.77 L85.6,533.77 L86.1,533.76 L86.6,533.76 L87.1,533.75 L87.6,533.75 L88.1,533.74 L88.6,533.74 L89.1,533.73 L89.6,533.73 L90.1,533.72 L90.6,533.72 L91.1,533.71 L91.6,533.71 L92.1,533.7 L92.6,533.7 L93.1,533.69 L93.6,533.69 L94.1,533.68 L94.6,533.68 L95.1,533.67 L95.6,533.67 L96.1,533.66 L96.6,533.66 L97.1,533.66 L97.6,533.65 L98.1,533.65 L98.6,533.64 L99.1,533.64 L99.6,533.63 L100.1,533.63 L100.6,533.62 L101.1,533.62 L101.6,533.61 L102.1,533.61 L102.6,533.6 L103.1,533.6 L103.6,533.59 L104.1,533.59 L104.6,533.58 L105.1,533.58 L105.6,533.57 L106.1,533.57 L106.6,533.56 L107.1,533.56 L107.6,533.55 L108.1,533.55 L108.6,533.54 L109.1,533.54 L109.6,533.53 L110.1,533.53 L110.6,533.52 L111.1,533.52 L111.6,533.52 L112.1,533.51 L112.6,533.51 L113.1,533.5 L113.6,533.5 L114.1,533.49 L114.6,533.49 L115.1,533.48 L115.6,533.48 L116.1,533.47 L116.6,533.47 L117.1,533.46 L117.6,533.46 L118.1,533.45 L118.6,533.45 L119.1,533.44 L119.6,533.44 L120.1,533.43 L120.6,533.43 L121.1,533.42 L121.6,533.42 L122.1,533.41 L122.6,533.41 L123.1,533.4 L123.6,533.4 L124.1,533.39 L124.6,533.39 L125.1,533.38 L125.6,533.38 L126.1,533.37 L126.6,533.37 L127.1,533.37 L127.6,533.36 L128.1,533.36 L128.6,533.35 L129.1,533.35 L129.6,533.34 L130.1,533.34 L130.6,533.33 L131.1,533.33 L131.6,533.32 L132.1,533.32 L132.6,533.31 L133.1,533.31 L133.6,533.3 L134.1,533.3 L134.6,533.29 L135.1,533.29 L135.6,533.28 L136.1,533.28 L136.6,533.27 L137.1,533.27 L137.6,533.26 L138.1,533.26 L138.6,533.25 L139.1,533.25 L139.6,533.24 L140.1,533.24 L140.6,533.23 L141.1,533.23 L141.6,533.22 L142.1,533.22 L142.6,533.22 L143.1,533.21 L143.6,533.21 L144.1,533.2 L144.6,533.2 L145.1,533.19 L145.6,533.19 L146.1,533.18 L146.6,533.18 L147.1,533.17 L147.6,533.17 L148.1,533.16 L148.6,533.16 L149.1,533.15 L149.6,533.15 L150.1,533.14 L150.6,533.14 L151.1,533.13 L151.6,533.13 L152.1,533.12 L152.6,533.12 L153.1,533.11 L153.6,533.11 L154.1,533.1 L154.6,533.1 L155.1,533.09 L155.6,533.09 L156.1,533.08 L156.6,533.08 L157.1,533.07 L157.6,533.07 L158.1,533.07 L158.6,533.06 L159.1,533.06 L159.6,533.05 L160.1,533.05 L160.6,533.04 L161.1,533.04 L161.6,533.03 L162.1,533.03 L162.6,533.02 L163.1,533.02 L163.6,533.01 L164.1,533.01 L164.6,533 L165.1,533 L165.6,532.99 L166.1,532.99 L166.6,532.98 L167.1,532.98 L167.6,532.97 L168.1,532.97 L168.6,532.96 L169.1,532.96 L169.6,532.95 L170.1,532.95 L170.6,532.94 L171.1,532.94 L171.6,532.93 L172.1,532.93 L172.6,532.92 L173.1,532.92 L173.6,532.91 L174.1,532.91 L174.6,532.9 L175.1,532.89 L175.6,532.89 L176.1,532.88 L176.6,532.88 L177.1,532.87 L177.6,532.86 L178.1,532.85 L178.6,532.84 L179.1,532.83 L179.6,532.82 L180.1,532.81 L180.6,532.8 L181.1,532.78 L181.6,532.76 L182.1,532.74 L182.6,532.72 L183.1,532.7 L183.6,532.67 L184.1,532.64 L184.6,532.61 L185.1,532.57 L185.6,532.52 L186.1,532.47 L186.6,532.41 L187.1,532.35 L187.6,532.28 L188.1,532.2 L188.6,532.11 L189.1,532.01 L189.6,531.9 L190.1,531.77 L190.6,531.64 L191.1,531.48 L191.6,531.32 L192.1,531.13 L192.6,530.93 L193.1,530.71 L193.6,530.47 L194.1,530.21 L194.6,529.93 L195.1,529.63 L195.6,529.31 L196.1,528.96 L196.6,528.59 L197.1,528.19 L197.6,527.78 L198.1,527.33 L198.6,526.87 L199.1,526.39 L199.6,525.88 L200.1,525.36 L200.6,524.81 L201.1,524.25 L201.6,523.68 L202.1,523.09 L202.6,522.49 L203.1,521.89 L203.6,521.28 L204.1,520.67 L204.6,520.07 L205.1,519.47 L205.6,518.88 L206.1,518.31 L206.6,517.75 L207.1,517.21 L207.6,516.7 L208.1,516.22 L208.6,515.77 L209.1,515.35 L209.6,514.98 L210.1,514.64 L210.6,514.35 L211.1,514.11 L211.6,513.91 L212.1,513.77 L212.6,513.68 L213.1,513.63 L213.6,513.65 L214.1,513.71 L214.6,513.82 L215.1,513.99 L215.6,514.2 L216.1,514.46 L216.6,514.77 L217.1,515.12 L217.6,515.51 L218.1,515.94 L218.6,516.4 L219.1,516.89 L219.6,517.41 L220.1,517.95 L220.6,518.51 L221.1,519.08 L221.6,519.67 L222.1,520.26 L222.6,520.86 L223.1,521.46 L223.6,522.05 L224.1,522.64 L224.6,523.22 L225.1,523.79 L225.6,524.35 L226.1,524.89 L226.6,525.41 L227.1,525.92 L227.6,526.4 L228.1,526.86 L228.6,527.3 L229.1,527.72 L229.6,528.11 L230.1,528.49 L230.6,528.83 L231.1,529.16 L231.6,529.46 L232.1,529.74 L232.6,530 L233.1,530.23 L233.6,530.45 L234.1,530.65 L234.6,530.83 L235.1,530.99 L235.6,531.14 L236.1,531.28 L236.6,531.4 L237.1,531.5 L237.6,531.6 L238.1,531.68 L238.6,531.76 L239.1,531.82 L239.6,531.88 L240.1,531.93 L240.6,531.97 L241.1,532.01 L241.6,532.04 L242.1,532.07 L242.6,532.09 L243.1,532.11 L243.6,532.13 L244.1,532.14 L244.6,532.15 L245.1,532.16 L245.6,532.16 L246.1,532.17 L246.6,532.17 L247.1,532.17 L247.6,532.17 L248.1,532.17 L248.6,532.17 L249.1,532.17 L249.6,532.17 L250.1,532.17 L250.6,532.16 L251.1,532.16 L251.6,532.16 L252.1,532.15 L252.6,532.15 L253.1,532.14 L253.6,532.14 L254.1,532.14 L254.6,532.13 L255.1,532.13 L255.6,532.12 L256.1,532.12 L256.6,532.11 L257.1,532.11 L257.6,532.1 L258.1,532.1 L258.6,532.09 L259.1,532.09 L259.6,532.08 L260.1,532.08 L260.6,532.07 L261.1,532.07 L261.6,532.06 L262.1,532.06 L262.6,532.05 L263.1,532.05 L263.6,532.04 L264.1,532.04 L264.6,532.04 L265.1,532.03 L265.6,532.03 L266.1,532.02 L266.6,532.02 L267.1,532.01 L267.6,532.01 L268.1,532 L268.6,532 L269.1,531.99 L269.6,531.99 L270.1,531.98 L270.6,531.98 L271.1,531.97 L271.6,531.97 L272.1,531.96 L272.6,531.96 L273.1,531.95 L273.6,531.95 L274.1,531.94 L274.6,531.94 L275.1,531.93 L275.6,531.93 L276.1,531.92 L276.6,531.92 L277.1,531.91 L277.6,531.91 L278.1,531.9 L278.6,531.9 L279.1,531.89 L279.6,531.89 L280.1,531.89 L280.6,531.88 L281.1,531.88 L281.6,531.87 L282.1,531.87 L282.6,531.86 L283.1,531.86 L283.6,531.85 L284.1,531.85 L284.6,531.84 L285.1,531.84 L285.6,531.83 L286.1,531.83 L286.6,531.82 L287.1,531.82 L287.6,531.81 L288.1,531.81 L288.6,531.8 L289.1,531.8 L289.6,531.79 L290.1,531.79 L290.6,531.78 L291.1,531.78 L291.6,531.77 L292.1,531.77 L292.6,531.76 L293.1,531.76 L293.6,531.75 L294.1,531.75 L294.6,531.75 L295.1,531.74 L295.6,531.74 L296.1,531.73 L296.6,531.73 L297.1,531.72 L297.6,531.72 L298.1,531.71 L298.6,531.71 L299.1,531.7 L299.6,531.7 L300.1,531.69 L300.6,531.69 L301.1,531.68 L301.6,531.68 L302.1,531.67 L302.6,531.67 L303.1,531.66 L303.6,531.66 L304.1,531.65 L304.6,531.65 L305.1,531.64 L305.6,531.64 L306.1,531.63 L306.6,531.63 L307.1,531.62 L307.6,531.62 L308.1,531.61 L308.6,531.61 L309.1,531.6 L309.6,531.6" fill="none" stroke="#3b7dc0" stroke-width="1.4" stroke-linejoin="round" stroke-linecap="round" />
<path d="M20.1,535 L20.6,535 L21.1,534.99 L21.6,534.99 L22.1,534.98 L22.6,534.98 L23.1,534.97 L23.6,534.97 L24.1,534.96 L24.6,534.96 L25.1,534.95 L25.6,534.95 L26.1,534.94 L26.6,534.94 L27.1,534.93 L27.6,534.93 L28.1,534.92 L28.6,534.92 L29.1,534.91 L29.6,534.91 L30.1,534.9 L30.6,534.9 L31.1,534.89 L31.6,534.89 L32.1,534.88 L32.6,534.88 L33.1,534.87 L33.6,534.87 L34.1,534.86 L34.6,534.86 L35.1,534.85 L35.6,534.85 L36.1,534.85 L36.6,534.84 L37.1,534.84 L37.6,534.83 L38.1,534.83 L38.6,534.82 L39.1,534.82 L39.6,534.81 L40.1,534.81 L40.6,534.8 L41.1,534.8 L41.6,534.79 L42.1,534.79 L42.6,534.78 L43.1,534.78 L43.6,534.77 L44.1,534.77 L44.6,534.76 L45.1,534.76 L45.6,534.75 L46.1,534.75 L46.6,534.74 L47.1,534.74 L47.6,534.73 L48.1,534.73 L48.6,534.72 L49.1,534.72 L49.6,534.71 L50.1,534.71 L50.6,534.71 L51.1,534.7 L51.6,534.7 L52.1,534.69 L52.6,534.69 L53.1,534.68 L53.6,534.68 L54.1,534.67 L54.6,534.67 L55.1,534.66 L55.6,534.66 L56.1,534.65 L56.6,534.65 L57.1,534.64 L57.6,534.64 L58.1,534.63 L58.6,534.63 L59.1,534.62 L59.6,534.62 L60.1,534.61 L60.6,534.61 L61.1,534.6 L61.6,534.6 L62.1,534.59 L62.6,534.59 L63.1,534.58 L63.6,534.58 L64.1,534.57 L64.6,534.57 L65.1,534.56 L65.6,534.56 L66.1,534.56 L66.6,534.55 L67.1,534.55 L67.6,534.54 L68.1,534.54 L68.6,534.53 L69.1,534.53 L69.6,534.52 L70.1,534.52 L70.6,534.51 L71.1,534.51 L71.6,534.5 L72.1,534.5 L72.6,534.49 L73.1,534.49 L73.6,534.48 L74.1,534.48 L74.6,534.47 L75.1,534.47 L75.6,534.46 L76.1,534.46 L76.6,534.45 L77.1,534.45 L77.6,534.44 L78.1,534.44 L78.6,534.43 L79.1,534.43 L79.6,534.42 L80.1,534.42 L80.6,534.41 L81.1,534.41 L81.6,534.41 L82.1,534.4 L82.6,534.4 L83.1,534.39 L83.6,534.39 L84.1,534.38 L84.6,534.38 L85.1,534.37 L85.6,534.37 L86.1,534.36 L86.6,534.36 L87.1,534.35 L87.6,534.35 L88.1,534.34 L88.6,534.34 L89.1,534.33 L89.6,534.33 L90.1,534.32 L90.6,534.32 L91.1,534.31 L91.6,534.31 L92.1,534.3 L92.6,534.3 L93.1,534.29 L93.6,534.29 L94.1,534.28 L94.6,534.28 L95.1,534.27 L95.6,534.27 L96.1,534.26 L96.6,534.26 L97.1,534.26 L97.6,534.25 L98.1,534.25 L98.6,534.24 L99.1,534.24 L99.6,534.23 L100.1,534.23 L100.6,534.22 L101.1,534.22 L101.6,534.21 L102.1,534.21 L102.6,534.2 L103.1,534.2 L103.6,534.19 L104.1,534.19 L104.6,534.18 L105.1,534.18 L105.6,534.17 L106.1,534.17 L106.6,534.16 L107.1,534.16 L107.6,534.15 L108.1,534.15 L108.6,534.14 L109.1,534.14 L109.6,534.13 L110.1,534.13 L110.6,534.12 L111.1,534.12 L111.6,534.12 L112.1,534.11 L112.6,534.11 L113.1,534.1 L113.6,534.1 L114.1,534.09 L114.6,534.09 L115.1,534.08 L115.6,534.08 L116.1,534.07 L116.6,534.07 L117.1,534.06 L117.6,534.06 L118.1,534.05 L118.6,534.05 L119.1,534.04 L119.6,534.04 L120.1,534.03 L120.6,534.03 L121.1,534.02 L121.6,534.02 L122.1,534.01 L122.6,534.01 L123.1,534 L123.6,534 L124.1,533.99 L124.6,533.99 L125.1,533.98 L125.6,533.98 L126.1,533.97 L126.6,533.97 L127.1,533.96 L127.6,533.96 L128.1,533.95 L128.6,533.95 L129.1,533.94 L129.6,533.94 L130.1,533.94 L130.6,533.93 L131.1,533.92 L131.6,533.92 L132.1,533.91 L132.6,533.91 L133.1,533.9 L133.6,533.9 L134.1,533.89 L134.6,533.89 L135.1,533.88 L135.6,533.88 L136.1,533.87 L136.6,533.87 L137.1,533.86 L137.6,533.85 L138.1,533.85 L138.6,533.84 L139.1,533.83 L139.6,533.83 L140.1,533.82 L140.6,533.81 L141.1,533.8 L141.6,533.79 L142.1,533.78 L142.6,533.77 L143.1,533.76 L143.6,533.75 L144.1,533.74 L144.6,533.73 L145.1,533.72 L145.6,533.7 L146.1,533.69 L146.6,533.67 L147.1,533.65 L147.6,533.63 L148.1,533.61 L148.6,533.58 L149.1,533.56 L149.6,533.53 L150.1,533.5 L150.6,533.47 L151.1,533.43 L151.6,533.39 L152.1,533.35 L152.6,533.3 L153.1,533.25 L153.6,533.2 L154.1,533.14 L154.6,533.07 L155.1,533 L155.6,532.93 L156.1,532.84 L156.6,532.76 L157.1,532.66 L157.6,532.55 L158.1,532.44 L158.6,532.32 L159.1,532.19 L159.6,532.05 L160.1,531.9 L160.6,531.74 L161.1,531.57 L161.6,531.38 L162.1,531.19 L162.6,530.98 L163.1,530.75 L163.6,530.52 L164.1,530.26 L164.6,529.99 L165.1,529.71 L165.6,529.41 L166.1,529.09 L166.6,528.75 L167.1,528.4 L167.6,528.03 L168.1,527.64 L168.6,527.23 L169.1,526.8 L169.6,526.35 L170.1,525.88 L170.6,525.39 L171.1,524.88 L171.6,524.35 L172.1,523.8 L172.6,523.23 L173.1,522.64 L173.6,522.03 L174.1,521.41 L174.6,520.76 L175.1,520.1 L175.6,519.42 L176.1,518.73 L176.6,518.02 L177.1,517.3 L177.6,516.56 L178.1,515.82 L178.6,515.06 L179.1,514.3 L179.6,513.52 L180.1,512.75 L180.6,511.97 L181.1,511.18 L181.6,510.4 L182.1,509.62 L182.6,508.84 L183.1,508.07 L183.6,507.31 L184.1,506.56 L184.6,505.82 L185.1,505.09 L185.6,504.38 L186.1,503.69 L186.6,503.02 L187.1,502.37 L187.6,501.75 L188.1,501.16 L188.6,500.59 L189.1,500.06 L189.6,499.56 L190.1,499.09 L190.6,498.66 L191.1,498.27 L191.6,497.91 L192.1,497.6 L192.6,497.33 L193.1,497.1 L193.6,496.91 L194.1,496.77 L194.6,496.67 L195.1,496.62 L195.6,496.61 L196.1,496.64 L196.6,496.72 L197.1,496.85 L197.6,497.02 L198.1,497.23 L198.6,497.48 L199.1,497.78 L199.6,498.11 L200.1,498.49 L200.6,498.9 L201.1,499.35 L201.6,499.84 L202.1,500.35 L202.6,500.9 L203.1,501.48 L203.6,502.09 L204.1,502.72 L204.6,503.38 L205.1,504.05 L205.6,504.75 L206.1,505.46 L206.6,506.19 L207.1,506.93 L207.6,507.68 L208.1,508.44 L208.6,509.21 L209.1,509.98 L209.6,510.75 L210.1,511.53 L210.6,512.3 L211.1,513.07 L211.6,513.83 L212.1,514.59 L212.6,515.33 L213.1,516.07 L213.6,516.8 L214.1,517.52 L214.6,518.22 L215.1,518.91 L215.6,519.58 L216.1,520.23 L216.6,520.87 L217.1,521.49 L217.6,522.09 L218.1,522.67 L218.6,523.24 L219.1,523.78 L219.6,524.3 L220.1,524.81 L220.6,525.29 L221.1,525.76 L221.6,526.2 L222.1,526.62 L222.6,527.03 L223.1,527.41 L223.6,527.78 L224.1,528.13 L224.6,528.46 L225.1,528.77 L225.6,529.07 L226.1,529.34 L226.6,529.61 L227.1,529.85 L227.6,530.08 L228.1,530.3 L228.6,530.5 L229.1,530.69 L229.6,530.87 L230.1,531.04 L230.6,531.19 L231.1,531.33 L231.6,531.46 L232.1,531.59 L232.6,531.7 L233.1,531.8 L233.6,531.9 L234.1,531.99 L234.6,532.07 L235.1,532.14 L235.6,532.21 L236.1,532.27 L236.6,532.33 L237.1,532.38 L237.6,532.42 L238.1,532.47 L238.6,532.5 L239.1,532.54 L239.6,532.57 L240.1,532.59 L240.6,532.62 L241.1,532.64 L241.6,532.66 L242.1,532.68 L242.6,532.69 L243.1,532.7 L243.6,532.71 L244.1,532.72 L244.6,532.73 L245.1,532.74 L245.6,532.74 L246.1,532.75 L246.6,532.75 L247.1,532.75 L247.6,532.75 L248.1,532.75 L248.6,532.75 L249.1,532.75 L249.6,532.75 L250.1,532.75 L250.6,532.75 L251.1,532.75 L251.6,532.74 L252.1,532.74 L252.6,532.74 L253.1,532.74 L253.6,532.73 L254.1,532.73 L254.6,532.72 L255.1,532.72 L255.6,532.72 L256.1,532.71 L256.6,532.71 L257.1,532.7 L257.6,532.7 L258.1,532.7 L258.6,532.69 L259.1,532.69 L259.6,532.68 L260.1,532.68 L260.6,532.67 L261.1,532.67 L261.6,532.66 L262.1,532.66 L262.6,532.65 L263.1,532.65 L263.6,532.64 L264.1,532.64 L264.6,532.63 L265.1,532.63 L265.6,532.63 L266.1,532.62 L266.6,532.62 L267.1,532.61 L267.6,532.61 L268.1,532.6 L268.6,532.6 L269.1,532.59 L269.6,532.59 L270.1,532.58 L270.6,532.58 L271.1,532.57 L271.6,532.57 L272.1,532.56 L272.6,532.56 L273.1,532.55 L273.6,532.55 L274.1,532.54 L274.6,532.54 L275.1,532.53 L275.6,532.53 L276.1,532.52 L276.6,532.52 L277.1,532.51 L277.6,532.51 L278.1,532.5 L278.6,532.5 L279.1,532.49 L279.6,532.49 L280.1,532.49 L280.6,532.48 L281.1,532.48 L281.6,532.47 L282.1,532.47 L282.6,532.46 L283.1,532.46 L283.6,532.45 L284.1,532.45 L284.6,532.44 L285.1,532.44 L285.6,532.43 L286.1,532.43 L286.6,532.42 L287.1,532.42 L287.6,532.41 L288.1,532.41 L288.6,532.4 L289.1,532.4 L289.6,532.39 L290.1,532.39 L290.6,532.38 L291.1,532.38 L291.6,532.37 L292.1,532.37 L292.6,532.36 L293.1,532.36 L293.6,532.35 L294.1,532.35 L294.6,532.35 L295.1,532.34 L295.6,532.34 L296.1,532.33 L296.6,532.33 L297.1,532.32 L297.6,532.32 L298.1,532.31 L298.6,532.31 L299.1,532.3 L299.6,532.3 L300.1,532.29 L300.6,532.29 L301.1,532.28 L301.6,532.28 L302.1,532.27 L302.6,532.27 L303.1,532.26 L303.6,532.26 L304.1,532.25 L304.6,532.25 L305.1,532.24 L305.6,532.24 L306.1,532.23 L306.6,532.23 L307.1,532.22 L307.6,532.22 L308.1,532.21 L308.6,532.21 L309.1,532.2 L309.6,532.2" fill="none" stroke="#20a45e" stroke-width="1.4" stroke-linejoin="round" stroke-linecap="round" />
<path d="M20.1,533.76 L20.6,533.76 L21.1,533.75 L21.6,533.74 L22.1,533.73 L22.6,533.72 L23.1,533.71 L23.6,533.71 L24.1,533.7 L24.6,533.69 L25.1,533.68 L25.6,533.67 L26.1,533.67 L26.6,533.66 L27.1,533.65 L27.6,533.64 L28.1,533.63 L28.6,533.62 L29.1,533.61 L29.6,533.61 L30.1,533.6 L30.6,533.59 L31.1,533.58 L31.6,533.57 L32.1,533.56 L32.6,533.55 L33.1,533.54 L33.6,533.54 L34.1,533.53 L34.6,533.52 L35.1,533.51 L35.6,533.5 L36.1,533.49 L36.6,533.48 L37.1,533.47 L37.6,533.46 L38.1,533.45 L38.6,533.44 L39.1,533.43 L39.6,533.42 L40.1,533.41 L40.6,533.41 L41.1,533.4 L41.6,533.39 L42.1,533.38 L42.6,533.37 L43.1,533.36 L43.6,533.35 L44.1,533.34 L44.6,533.33 L45.1,533.32 L45.6,533.3 L46.1,533.29 L46.6,533.28 L47.1,533.27 L47.6,533.26 L48.1,533.25 L48.6,533.24 L49.1,533.23 L49.6,533.22 L50.1,533.21 L50.6,533.2 L51.1,533.19 L51.6,533.17 L52.1,533.16 L52.6,533.15 L53.1,533.14 L53.6,533.13 L54.1,533.12 L54.6,533.11 L55.1,533.09 L55.6,533.08 L56.1,533.07 L56.6,533.06 L57.1,533.05 L57.6,533.03 L58.1,533.02 L58.6,533.01 L59.1,532.99 L59.6,532.98 L60.1,532.97 L60.6,532.96 L61.1,532.94 L61.6,532.93 L62.1,532.92 L62.6,532.9 L63.1,532.89 L63.6,532.87 L64.1,532.86 L64.6,532.85 L65.1,532.83 L65.6,532.82 L66.1,532.8 L66.6,532.79 L67.1,532.77 L67.6,532.76 L68.1,532.74 L68.6,532.73 L69.1,532.71 L69.6,532.7 L70.1,532.68 L70.6,532.67 L71.1,532.65 L71.6,532.63 L72.1,532.62 L72.6,532.6 L73.1,532.58 L73.6,532.56 L74.1,532.55 L74.6,532.53 L75.1,532.51 L75.6,532.49 L76.1,532.47 L76.6,532.45 L77.1,532.43 L77.6,532.41 L78.1,532.39 L78.6,532.37 L79.1,532.35 L79.6,532.33 L80.1,532.31 L80.6,532.29 L81.1,532.27 L81.6,532.24 L82.1,532.22 L82.6,532.2 L83.1,532.17 L83.6,532.15 L84.1,532.12 L84.6,532.1 L85.1,532.07 L85.6,532.04 L86.1,532.01 L86.6,531.98 L87.1,531.95 L87.6,531.92 L88.1,531.89 L88.6,531.86 L89.1,531.83 L89.6,531.79 L90.1,531.75 L90.6,531.72 L91.1,531.68 L91.6,531.64 L92.1,531.6 L92.6,531.56 L93.1,531.51 L93.6,531.46 L94.1,531.42 L94.6,531.37 L95.1,531.32 L95.6,531.26 L96.1,531.2 L96.6,531.15 L97.1,531.08 L97.6,531.02 L98.1,530.95 L98.6,530.88 L99.1,530.81 L99.6,530.74 L100.1,530.66 L100.6,530.57 L101.1,530.48 L101.6,530.39 L102.1,530.3 L102.6,530.2 L103.1,530.09 L103.6,529.98 L104.1,529.87 L104.6,529.75 L105.1,529.62 L105.6,529.49 L106.1,529.35 L106.6,529.21 L107.1,529.06 L107.6,528.9 L108.1,528.73 L108.6,528.56 L109.1,528.38 L109.6,528.19 L110.1,527.99 L110.6,527.78 L111.1,527.56 L111.6,527.34 L112.1,527.1 L112.6,526.85 L113.1,526.6 L113.6,526.33 L114.1,526.05 L114.6,525.76 L115.1,525.45 L115.6,525.14 L116.1,524.81 L116.6,524.46 L117.1,524.11 L117.6,523.74 L118.1,523.36 L118.6,522.96 L119.1,522.55 L119.6,522.12 L120.1,521.68 L120.6,521.22 L121.1,520.74 L121.6,520.25 L122.1,519.75 L122.6,519.23 L123.1,518.69 L123.6,518.13 L124.1,517.56 L124.6,516.97 L125.1,516.36 L125.6,515.74 L126.1,515.1 L126.6,514.44 L127.1,513.77 L127.6,513.08 L128.1,512.37 L128.6,511.64 L129.1,510.9 L129.6,510.14 L130.1,509.37 L130.6,508.58 L131.1,507.78 L131.6,506.96 L132.1,506.12 L132.6,505.27 L133.1,504.41 L133.6,503.54 L134.1,502.65 L134.6,501.75 L135.1,500.84 L135.6,499.92 L136.1,498.99 L136.6,498.06 L137.1,497.11 L137.6,496.16 L138.1,495.2 L138.6,494.24 L139.1,493.27 L139.6,492.3 L140.1,491.33 L140.6,490.36 L141.1,489.39 L141.6,488.42 L142.1,487.46 L142.6,486.5 L143.1,485.55 L143.6,484.6 L144.1,483.67 L144.6,482.74 L145.1,481.83 L145.6,480.93 L146.1,480.05 L146.6,479.19 L147.1,478.34 L147.6,477.52 L148.1,476.72 L148.6,475.94 L149.1,475.19 L149.6,474.46 L150.1,473.77 L150.6,473.11 L151.1,472.48 L151.6,471.88 L152.1,471.32 L152.6,470.8 L153.1,470.32 L153.6,469.87 L154.1,469.47 L154.6,469.11 L155.1,468.8 L155.6,468.53 L156.1,468.3 L156.6,468.12 L157.1,467.99 L157.6,467.9 L158.1,467.87 L158.6,467.88 L159.1,467.94 L159.6,468.05 L160.1,468.21 L160.6,468.41 L161.1,468.67 L161.6,468.97 L162.1,469.32 L162.6,469.72 L163.1,470.16 L163.6,470.64 L164.1,471.16 L164.6,471.72 L165.1,472.32 L165.6,472.96 L166.1,473.63 L166.6,474.33 L167.1,475.06 L167.6,475.83 L168.1,476.62 L168.6,477.43 L169.1,478.27 L169.6,479.13 L170.1,480.02 L170.6,480.91 L171.1,481.83 L171.6,482.76 L172.1,483.7 L172.6,484.66 L173.1,485.62 L173.6,486.59 L174.1,487.57 L174.6,488.55 L175.1,489.53 L175.6,490.52 L176.1,491.51 L176.6,492.49 L177.1,493.48 L177.6,494.46 L178.1,495.43 L178.6,496.4 L179.1,497.36 L179.6,498.32 L180.1,499.27 L180.6,500.2 L181.1,501.13 L181.6,502.04 L182.1,502.95 L182.6,503.83 L183.1,504.71 L183.6,505.57 L184.1,506.42 L184.6,507.25 L185.1,508.07 L185.6,508.87 L186.1,509.65 L186.6,510.42 L187.1,511.16 L187.6,511.9 L188.1,512.61 L188.6,513.31 L189.1,513.99 L189.6,514.65 L190.1,515.29 L190.6,515.91 L191.1,516.52 L191.6,517.11 L192.1,517.68 L192.6,518.24 L193.1,518.77 L193.6,519.29 L194.1,519.79 L194.6,520.28 L195.1,520.74 L195.6,521.2 L196.1,521.63 L196.6,522.05 L197.1,522.46 L197.6,522.84 L198.1,523.22 L198.6,523.58 L199.1,523.92 L199.6,524.25 L200.1,524.57 L200.6,524.87 L201.1,525.17 L201.6,525.44 L202.1,525.71 L202.6,525.97 L203.1,526.21 L203.6,526.44 L204.1,526.67 L204.6,526.88 L205.1,527.08 L205.6,527.28 L206.1,527.46 L206.6,527.64 L207.1,527.8 L207.6,527.96 L208.1,528.11 L208.6,528.26 L209.1,528.39 L209.6,528.52 L210.1,528.65 L210.6,528.77 L211.1,528.88 L211.6,528.98 L212.1,529.08 L212.6,529.18 L213.1,529.27 L213.6,529.36 L214.1,529.44 L214.6,529.51 L215.1,529.59 L215.6,529.66 L216.1,529.72 L216.6,529.79 L217.1,529.85 L217.6,529.9 L218.1,529.96 L218.6,530.01 L219.1,530.06 L219.6,530.1 L220.1,530.15 L220.6,530.19 L221.1,530.23 L221.6,530.27 L222.1,530.3 L222.6,530.34 L223.1,530.37 L223.6,530.4 L224.1,530.43 L224.6,530.46 L225.1,530.48 L225.6,530.51 L226.1,530.53 L226.6,530.56 L227.1,530.58 L227.6,530.6 L228.1,530.62 L228.6,530.64 L229.1,530.66 L229.6,530.68 L230.1,530.7 L230.6,530.71 L231.1,530.73 L231.6,530.75 L232.1,530.76 L232.6,530.77 L233.1,530.79 L233.6,530.8 L234.1,530.81 L234.6,530.83 L235.1,530.84 L235.6,530.85 L236.1,530.86 L236.6,530.87 L237.1,530.88 L237.6,530.89 L238.1,530.9 L238.6,530.91 L239.1,530.92 L239.6,530.93 L240.1,530.94 L240.6,530.95 L241.1,530.96 L241.6,530.96 L242.1,530.97 L242.6,530.98 L243.1,530.99 L243.6,530.99 L244.1,531 L244.6,531.01 L245.1,531.01 L245.6,531.02 L246.1,531.02 L246.6,531.03 L247.1,531.04 L247.6,531.04 L248.1,531.05 L248.6,531.05 L249.1,531.06 L249.6,531.06 L250.1,531.07 L250.6,531.07 L251.1,531.07 L251.6,531.08 L252.1,531.08 L252.6,531.09 L253.1,531.09 L253.6,531.09 L254.1,531.1 L254.6,531.1 L255.1,531.1 L255.6,531.11 L256.1,531.11 L256.6,531.11 L257.1,531.12 L257.6,531.12 L258.1,531.12 L258.6,531.12 L259.1,531.13 L259.6,531.13 L260.1,531.13 L260.6,531.13 L261.1,531.14 L261.6,531.14 L262.1,531.14 L262.6,531.14 L263.1,531.14 L263.6,531.14 L264.1,531.15 L264.6,531.15 L265.1,531.15 L265.6,531.15 L266.1,531.15 L266.6,531.15 L267.1,531.15 L267.6,531.15 L268.1,531.15 L268.6,531.16 L269.1,531.16 L269.6,531.16 L270.1,531.16 L270.6,531.16 L271.1,531.16 L271.6,531.16 L272.1,531.16 L272.6,531.16 L273.1,531.16 L273.6,531.16 L274.1,531.16 L274.6,531.16 L275.1,531.16 L275.6,531.16 L276.1,531.16 L276.6,531.16 L277.1,531.16 L277.6,531.16 L278.1,531.16 L278.6,531.16 L279.1,531.16 L279.6,531.16 L280.1,531.16 L280.6,531.16 L281.1,531.15 L281.6,531.15 L282.1,531.15 L282.6,531.15 L283.1,531.15 L283.6,531.15 L284.1,531.15 L284.6,531.15 L285.1,531.15 L285.6,531.15 L286.1,531.14 L286.6,531.14 L287.1,531.14 L287.6,531.14 L288.1,531.14 L288.6,531.14 L289.1,531.14 L289.6,531.14 L290.1,531.13 L290.6,531.13 L291.1,531.13 L291.6,531.13 L292.1,531.13 L292.6,531.13 L293.1,531.12 L293.6,531.12 L294.1,531.12 L294.6,531.12 L295.1,531.12 L295.6,531.12 L296.1,531.11 L296.6,531.11 L297.1,531.11 L297.6,531.11 L298.1,531.11 L298.6,531.1 L299.1,531.1 L299.6,531.1 L300.1,531.1 L300.6,531.1 L301.1,531.09 L301.6,531.09 L302.1,531.09 L302.6,531.09 L303.1,531.08 L303.6,531.08 L304.1,531.08 L304.6,531.08 L305.1,531.08 L305.6,531.07 L306.1,531.07 L306.6,531.07 L307.1,531.07 L307.6,531.06 L308.1,531.06 L308.6,531.06 L309.1,531.06 L309.6,531.05" fill="none" stroke="#c03cc0" stroke-width="1.4" stroke-linejoin="round" stroke-linecap="round" />
<path d="M20.1,534.7 L309.6,531.9" fill="none" stroke="#3b7dc0" stroke-width="1.8" stroke-linejoin="round" stroke-linecap="round" />
<path d="M20.1,531.8 L20.6,531.81 L21.1,531.81 L21.6,531.82 L22.1,531.83 L22.6,531.85 L23.1,531.87 L23.6,531.89 L24.1,531.91 L24.6,531.93 L25.1,531.96 L25.6,531.99 L26.1,532.02 L26.6,532.06 L27.1,532.09 L27.6,532.13 L28.1,532.18 L28.6,532.22 L29.1,532.27 L29.6,532.31 L30.1,532.36 L30.6,532.41 L31.1,532.47 L31.6,532.52 L32.1,532.58 L32.6,532.64 L33.1,532.7 L33.6,532.76 L34.1,532.82 L34.6,532.89 L35.1,532.95 L35.6,533.02 L36.1,533.09 L36.6,533.16 L37.1,533.23 L37.6,533.3 L38.1,533.37 L38.6,533.45 L39.1,533.52 L39.6,533.6 L40.1,533.67 L40.6,533.75 L41.1,533.83 L41.6,533.91 L42.1,533.99 L42.6,534.07 L43.1,534.15 L43.6,534.23 L44.1,534.31 L44.6,534.39 L45.1,534.47 L45.6,534.55 L46.1,534.63 L46.6,534.71 L47.1,534.79 L47.6,534.87 L48.1,534.95 L48.6,535.04 L49.1,535.12 L49.6,535.2 L50.1,535.28 L50.6,535.36 L51.1,535.43 L51.6,535.51 L52.1,535.59 L52.6,535.67 L53.1,535.74 L53.6,535.82 L54.1,535.89 L54.6,535.97 L55.1,536.04 L55.6,536.11 L56.1,536.18 L56.6,536.25 L57.1,536.32 L57.6,536.39 L58.1,536.46 L58.6,536.52 L59.1,536.58 L59.6,536.65 L60.1,536.71 L60.6,536.77 L61.1,536.82 L61.6,536.88 L62.1,536.93 L62.6,536.98 L63.1,537.03 L63.6,537.08 L64.1,537.13 L64.6,537.17 L65.1,537.21 L65.6,537.25 L66.1,537.29 L66.6,537.32 L67.1,537.36 L67.6,537.39 L68.1,537.42 L68.6,537.44 L69.1,537.46 L69.6,537.48 L70.1,537.5 L70.6,537.52 L71.1,537.53 L71.6,537.54 L72.1,537.54 L72.6,537.55 L73.1,537.55 L73.6,537.54 L74.1,537.54 L74.6,537.53 L75.1,537.52 L75.6,537.5 L76.1,537.48 L76.6,537.46 L77.1,537.43 L77.6,537.4 L78.1,537.37 L78.6,537.33 L79.1,537.29 L79.6,537.25 L80.1,537.2 L80.6,537.15 L81.1,537.09 L81.6,537.03 L82.1,536.97 L82.6,536.9 L83.1,536.83 L83.6,536.75 L84.1,536.67 L84.6,536.58 L85.1,536.49 L85.6,536.4 L86.1,536.3 L86.6,536.2 L87.1,536.09 L87.6,535.97 L88.1,535.86 L88.6,535.73 L89.1,535.61 L89.6,535.47 L90.1,535.34 L90.6,535.19 L91.1,535.05 L91.6,534.89 L92.1,534.74 L92.6,534.57 L93.1,534.4 L93.6,534.23 L94.1,534.05 L94.6,533.87 L95.1,533.68 L95.6,533.48 L96.1,533.28 L96.6,533.07 L97.1,532.86 L97.6,532.64 L98.1,532.41 L98.6,532.18 L99.1,531.94 L99.6,531.7 L100.1,531.45 L100.6,531.19 L101.1,530.93 L101.6,530.66 L102.1,530.39 L102.6,530.11 L103.1,529.82 L103.6,529.53 L104.1,529.23 L104.6,528.92 L105.1,528.6 L105.6,528.28 L106.1,527.95 L106.6,527.62 L107.1,527.28 L107.6,526.93 L108.1,526.57 L108.6,526.21 L109.1,525.84 L109.6,525.46 L110.1,525.08 L110.6,524.69 L111.1,524.29 L111.6,523.88 L112.1,523.46 L112.6,523.04 L113.1,522.61 L113.6,522.17 L114.1,521.73 L114.6,521.28 L115.1,520.81 L115.6,520.35 L116.1,519.87 L116.6,519.38 L117.1,518.89 L117.6,518.39 L118.1,517.88 L118.6,517.36 L119.1,516.83 L119.6,516.3 L120.1,515.76 L120.6,515.2 L121.1,514.64 L121.6,514.08 L122.1,513.5 L122.6,512.91 L123.1,512.32 L123.6,511.72 L124.1,511.11 L124.6,510.49 L125.1,509.87 L125.6,509.23 L126.1,508.59 L126.6,507.94 L127.1,507.28 L127.6,506.62 L128.1,505.95 L128.6,505.27 L129.1,504.58 L129.6,503.89 L130.1,503.18 L130.6,502.47 L131.1,501.76 L131.6,501.03 L132.1,500.3 L132.6,499.56 L133.1,498.82 L133.6,498.06 L134.1,497.3 L134.6,496.54 L135.1,495.76 L135.6,494.98 L136.1,494.2 L136.6,493.4 L137.1,492.6 L137.6,491.8 L138.1,490.98 L138.6,490.16 L139.1,489.34 L139.6,488.5 L140.1,487.66 L140.6,486.82 L141.1,485.97 L141.6,485.11 L142.1,484.25 L142.6,483.38 L143.1,482.5 L143.6,481.62 L144.1,480.73 L144.6,479.84 L145.1,478.94 L145.6,478.04 L146.1,477.13 L146.6,476.21 L147.1,475.29 L147.6,474.36 L148.1,473.43 L148.6,472.5 L149.1,471.57 L149.6,470.64 L150.1,469.7 L150.6,468.77 L151.1,467.84 L151.6,466.91 L152.1,465.99 L152.6,465.07 L153.1,464.16 L153.6,463.26 L154.1,462.36 L154.6,461.47 L155.1,460.59 L155.6,459.72 L156.1,458.87 L156.6,458.02 L157.1,457.19 L157.6,456.38 L158.1,455.57 L158.6,454.78 L159.1,454.01 L159.6,453.24 L160.1,452.49 L160.6,451.76 L161.1,451.04 L161.6,450.33 L162.1,449.64 L162.6,448.96 L163.1,448.3 L163.6,447.65 L164.1,447.01 L164.6,446.39 L165.1,445.78 L165.6,445.19 L166.1,444.61 L166.6,444.04 L167.1,443.49 L167.6,442.96 L168.1,442.44 L168.6,441.93 L169.1,441.44 L169.6,440.97 L170.1,440.51 L170.6,440.06 L171.1,439.63 L171.6,439.22 L172.1,438.81 L172.6,438.43 L173.1,438.06 L173.6,437.71 L174.1,437.38 L174.6,437.06 L175.1,436.76 L175.6,436.49 L176.1,436.23 L176.6,435.99 L177.1,435.77 L177.6,435.58 L178.1,435.41 L178.6,435.25 L179.1,435.13 L179.6,435.02 L180.1,434.95 L180.6,434.89 L181.1,434.87 L181.6,434.86 L182.1,434.89 L182.6,434.94 L183.1,435.02 L183.6,435.13 L184.1,435.27 L184.6,435.44 L185.1,435.64 L185.6,435.87 L186.1,436.13 L186.6,436.42 L187.1,436.75 L187.6,437.1 L188.1,437.5 L188.6,437.92 L189.1,438.39 L189.6,438.88 L190.1,439.42 L190.6,439.99 L191.1,440.6 L191.6,441.24 L192.1,441.93 L192.6,442.65 L193.1,443.41 L193.6,444.22 L194.1,445.06 L194.6,445.93 L195.1,446.85 L195.6,447.79 L196.1,448.76 L196.6,449.76 L197.1,450.78 L197.6,451.82 L198.1,452.88 L198.6,453.96 L199.1,455.06 L199.6,456.16 L200.1,457.28 L200.6,458.4 L201.1,459.53 L201.6,460.66 L202.1,461.78 L202.6,462.91 L203.1,464.03 L203.6,465.15 L204.1,466.26 L204.6,467.36 L205.1,468.45 L205.6,469.53 L206.1,470.6 L206.6,471.66 L207.1,472.71 L207.6,473.75 L208.1,474.77 L208.6,475.79 L209.1,476.79 L209.6,477.78 L210.1,478.75 L210.6,479.71 L211.1,480.65 L211.6,481.58 L212.1,482.49 L212.6,483.39 L213.1,484.27 L213.6,485.13 L214.1,485.97 L214.6,486.8 L215.1,487.6 L215.6,488.39 L216.1,489.15 L216.6,489.89 L217.1,490.62 L217.6,491.32 L218.1,492.01 L218.6,492.67 L219.1,493.32 L219.6,493.95 L220.1,494.57 L220.6,495.17 L221.1,495.76 L221.6,496.34 L222.1,496.91 L222.6,497.46 L223.1,498.01 L223.6,498.54 L224.1,499.07 L224.6,499.59 L225.1,500.1 L225.6,500.61 L226.1,501.12 L226.6,501.62 L227.1,502.11 L227.6,502.61 L228.1,503.1 L228.6,503.6 L229.1,504.1 L229.6,504.59 L230.1,505.09 L230.6,505.6 L231.1,506.1 L231.6,506.61 L232.1,507.11 L232.6,507.62 L233.1,508.13 L233.6,508.64 L234.1,509.15 L234.6,509.65 L235.1,510.16 L235.6,510.66 L236.1,511.16 L236.6,511.66 L237.1,512.16 L237.6,512.65 L238.1,513.14 L238.6,513.62 L239.1,514.1 L239.6,514.57 L240.1,515.03 L240.6,515.49 L241.1,515.95 L241.6,516.39 L242.1,516.83 L242.6,517.26 L243.1,517.68 L243.6,518.09 L244.1,518.5 L244.6,518.89 L245.1,519.28 L245.6,519.65 L246.1,520.02 L246.6,520.38 L247.1,520.72 L247.6,521.07 L248.1,521.4 L248.6,521.72 L249.1,522.04 L249.6,522.34 L250.1,522.64 L250.6,522.93 L251.1,523.22 L251.6,523.49 L252.1,523.76 L252.6,524.02 L253.1,524.27 L253.6,524.52 L254.1,524.76 L254.6,524.99 L255.1,525.21 L255.6,525.43 L256.1,525.64 L256.6,525.84 L257.1,526.04 L257.6,526.23 L258.1,526.41 L258.6,526.59 L259.1,526.76 L259.6,526.93 L260.1,527.09 L260.6,527.24 L261.1,527.39 L261.6,527.53 L262.1,527.66 L262.6,527.8 L263.1,527.92 L263.6,528.04 L264.1,528.16 L264.6,528.27 L265.1,528.37 L265.6,528.47 L266.1,528.57 L266.6,528.66 L267.1,528.74 L267.6,528.83 L268.1,528.9 L268.6,528.98 L269.1,529.05 L269.6,529.11 L270.1,529.17 L270.6,529.23 L271.1,529.29 L271.6,529.34 L272.1,529.38 L272.6,529.43 L273.1,529.47 L273.6,529.5 L274.1,529.54 L274.6,529.57 L275.1,529.6 L275.6,529.62 L276.1,529.65 L276.6,529.67 L277.1,529.68 L277.6,529.7 L278.1,529.71 L278.6,529.73 L279.1,529.73 L279.6,529.74 L280.1,529.75 L280.6,529.75 L281.1,529.75 L281.6,529.76 L282.1,529.76 L282.6,529.75 L283.1,529.75 L283.6,529.75 L284.1,529.74 L284.6,529.74 L285.1,529.73 L285.6,529.72 L286.1,529.72 L286.6,529.71 L287.1,529.7 L287.6,529.69 L288.1,529.68 L288.6,529.67 L289.1,529.67 L289.6,529.66 L290.1,529.65 L290.6,529.64 L291.1,529.63 L291.6,529.63 L292.1,529.62 L292.6,529.62 L293.1,529.61 L293.6,529.61 L294.1,529.61 L294.6,529.61 L295.1,529.61 L295.6,529.61 L296.1,529.62 L296.6,529.62 L297.1,529.63 L297.6,529.64 L298.1,529.65 L298.6,529.66 L299.1,529.68 L299.6,529.7 L300.1,529.72 L300.6,529.74 L301.1,529.77 L301.6,529.79 L302.1,529.83 L302.6,529.86 L303.1,529.9 L303.6,529.94 L304.1,529.98 L304.6,530.03 L305.1,530.08 L305.6,530.13 L306.1,530.19 L306.6,530.25 L307.1,530.31 L307.6,530.38 L308.1,530.46 L308.6,530.53 L309.1,530.62 L309.6,530.7" fill="none" stroke="#ff0000" stroke-width="3.2" stroke-linejoin="round" stroke-linecap="round" />
<path d="M20.1,533.78 L22.03,530.26 L24.11,532.83 L26.6,530.26 L28.31,533.73 L30.42,529.6 L32.25,533.86 L34.55,532 L36.61,534.65 L38.25,531.56 L40.27,535.12 L41.96,531.54 L43.42,535.74 L44.95,533.2 L46.76,536 L48.18,532.37 L50.51,536.44 L52.87,533.53 L54.3,537.85 L56.33,534.74 L58.25,539.11 L60.13,534.42 L61.62,539.51 L64.15,535.61 L65.9,539.73 L68.42,535.47 L70.3,539.92 L71.96,535.04 L73.66,539.15 L75.35,535.37 L77.72,540.08 L80.11,536.14 L82.49,539.73 L84.2,535.2 L85.96,538.79 L88,534.64 L90.26,538.25 L92.51,532.57 L94.92,534.69 L97.24,531.1 L99.25,534.08 L101.48,528.4 L103.8,530.97 L105.43,526.34 L108.01,527.87 L110.05,524.24 L112.21,525.2 L114.42,519.41 L116.67,521.01 L118.17,516.85 L119.67,517.29 L121.43,512.54 L122.98,513.1 L125.28,508.61 L127.25,508.44 L128.87,504.06 L130.75,504.17 L132.39,498.04 L134.68,498.12 L136.57,492.36 L138.99,491.45 L141.24,483.94 L143.2,483.69 L145.29,477.7 L147.88,474.53 L150.15,468.14 L152.06,466.76 L153.93,461.19 L156.35,459.06 L158.51,453.47 L160.74,456.02 L162.34,447.43 L164.27,448.69 L165.69,443.45 L167.73,444.68 L169.16,440.46 L171.34,441.15 L172.91,436.51 L174.4,438.61 L176,434.97 L177.9,437.14 L179.89,434.37 L181.59,435.75 L183.74,434.03 L185.86,437.96 L187.52,435.66 L189.38,439.81 L191.9,440.53 L193.89,445.84 L196.27,447.08 L198.49,454.39 L200.67,457.36 L203.13,471.9 L204.58,465.87 L206.65,475.02 L209.12,475.74 L211.18,481.46 L212.6,482.31 L215.13,491.92 L217.42,492.19 L219.27,495.78 L220.89,494.89 L222.31,498.1 L224.83,495.4 L227.23,503.61 L228.79,502.28 L230.38,503.26 L232.63,506.44 L234.2,510.63 L236.28,510.63 L238.12,514.23 L240.21,512.61 L242.38,518.29 L244.14,517.12 L245.9,520.71 L247.53,519.56 L250.08,525.27 L252.01,522.41 L253.49,526.33 L255.48,523.87 L257.66,524.61 L260.13,524.22 L261.92,529.33 L264.26,527.33 L266.47,530.01 L268.98,527.9 L270.78,530.46 L272.43,527.64 L273.84,531.19 L275.9,527.43 L278.02,532.13 L279.89,528.32 L282.36,531.01 L284.05,527.81 L286.42,531.3 L288.92,528.27 L290.84,531.07 L292.29,526.77 L294.38,533.97 L296.57,527.05 L299.11,531.5 L301.55,527.71 L303.5,532.51 L305.7,527.32 L307.35,533.04 L309.54,529.26 L309.6,532.96" fill="none" stroke="#000" stroke-width="1.2" stroke-linejoin="round" stroke-linecap="round" />
<path d="M20.1,419.7 L309.6,419.7 L309.6,573.8 L20.1,573.8 Z" fill="none" stroke="#1a1a1a" stroke-width="1.9" stroke-linejoin="miter"/>
<path d="M37.2,437.9 L51.2,437.9" fill="none" stroke="#333" stroke-width="1.6" stroke-linejoin="round" stroke-linecap="butt"/>
<path d="M35.4,452.3 L51.2,452.3" fill="none" stroke="#ff0000" stroke-width="3.0" stroke-linejoin="round" stroke-linecap="butt"/>
<path d="M35.4,469.3 L51.2,469.3" fill="none" stroke="#c03cc0" stroke-width="1.5" stroke-linejoin="round" stroke-linecap="butt"/>
<path d="M35.4,487.4 L51.2,487.4" fill="none" stroke="#20a45e" stroke-width="1.5" stroke-linejoin="round" stroke-linecap="butt"/>
<path d="M35.4,504.5 L51.2,504.5" fill="none" stroke="#3b7dc0" stroke-width="1.5" stroke-linejoin="round" stroke-linecap="butt"/>
<path d="M35.4,522.8 L51.2,522.8" fill="none" stroke="#7a3ab8" stroke-width="1.5" stroke-linejoin="round" stroke-linecap="butt"/>
<text x="52.4" y="440.2" font-size="10.5" text-anchor="start" font-weight="normal" fill="#111" >Raw curve</text>
<text x="51.9" y="455.8" font-size="10.5" text-anchor="start" font-weight="normal" fill="#111" >Global fitting curve</text>
<text x="51.9" y="472.8" font-size="10.5" text-anchor="start" font-weight="normal" fill="#111" >O-H</text>
<text x="51.9" y="490.9" font-size="10.5" text-anchor="start" font-weight="normal" fill="#111" >O-B</text>
<text x="51.9" y="508" font-size="10.5" text-anchor="start" font-weight="normal" fill="#111" >O-Si</text>
<text x="51.9" y="526.3" font-size="10.5" text-anchor="start" font-weight="normal" fill="#111" >O-C</text>
<text x="20.1" y="587" font-size="9.3" text-anchor="middle" font-weight="bold" fill="#111" >525</text>
<text x="58.7" y="587" font-size="9.3" text-anchor="middle" font-weight="bold" fill="#111" >527</text>
<text x="97.3" y="587" font-size="9.3" text-anchor="middle" font-weight="bold" fill="#111" >529</text>
<text x="135.9" y="587" font-size="9.3" text-anchor="middle" font-weight="bold" fill="#111" >531</text>
<text x="174.5" y="587" font-size="9.3" text-anchor="middle" font-weight="bold" fill="#111" >533</text>
<text x="213.1" y="587" font-size="9.3" text-anchor="middle" font-weight="bold" fill="#111" >535</text>
<text x="251.7" y="587" font-size="9.3" text-anchor="middle" font-weight="bold" fill="#111" >537</text>
<text x="290.3" y="587" font-size="9.3" text-anchor="middle" font-weight="bold" fill="#111" >539</text>
<text x="164.2" y="596" font-size="11.85" text-anchor="middle" font-weight="normal" fill="#111" >Binding energy (eV)</text>
<text x="12.8" y="505.6" font-size="11.8" text-anchor="middle" font-weight="normal" fill="#111" transform="rotate(-90 12.8 505.6)" >Intensity (counts.)</text>
<text x="347.8" y="410.3" font-size="14.3" text-anchor="start" font-weight="normal" fill="#111" >(f)</text>
<path d="M367.3,516.9 L367.8,516.83 L368.3,516.77 L368.8,516.71 L369.3,516.65 L369.8,516.6 L370.3,516.55 L370.8,516.5 L371.3,516.45 L371.8,516.41 L372.3,516.37 L372.8,516.34 L373.3,516.31 L373.8,516.28 L374.3,516.25 L374.8,516.22 L375.3,516.2 L375.8,516.18 L376.3,516.16 L376.8,516.15 L377.3,516.14 L377.8,516.13 L378.3,516.12 L378.8,516.11 L379.3,516.11 L379.8,516.1 L380.3,516.1 L380.8,516.11 L381.3,516.11 L381.8,516.11 L382.3,516.12 L382.8,516.13 L383.3,516.14 L383.8,516.15 L384.3,516.16 L384.8,516.18 L385.3,516.19 L385.8,516.21 L386.3,516.23 L386.8,516.24 L387.3,516.26 L387.8,516.28 L388.3,516.31 L388.8,516.33 L389.3,516.35 L389.8,516.37 L390.3,516.4 L390.8,516.42 L391.3,516.45 L391.8,516.47 L392.3,516.5 L392.8,516.52 L393.3,516.55 L393.8,516.58 L394.3,516.6 L394.8,516.63 L395.3,516.66 L395.8,516.68 L396.3,516.71 L396.8,516.73 L397.3,516.76 L397.8,516.78 L398.3,516.81 L398.8,516.83 L399.3,516.86 L399.8,516.88 L400.3,516.9 L400.8,516.92 L401.3,516.94 L401.8,516.96 L402.3,516.98 L402.8,517 L403.3,517.02 L403.8,517.03 L404.3,517.04 L404.8,517.06 L405.3,517.07 L405.8,517.08 L406.3,517.09 L406.8,517.09 L407.3,517.1 L407.8,517.1 L408.3,517.1 L408.8,517.1 L409.3,517.1 L409.8,517.1 L410.3,517.09 L410.8,517.08 L411.3,517.07 L411.8,517.06 L412.3,517.05 L412.8,517.03 L413.3,517.01 L413.8,516.99 L414.3,516.96 L414.8,516.94 L415.3,516.91 L415.8,516.87 L416.3,516.84 L416.8,516.8 L417.3,516.76 L417.8,516.72 L418.3,516.67 L418.8,516.62 L419.3,516.56 L419.8,516.51 L420.3,516.45 L420.8,516.38 L421.3,516.32 L421.8,516.25 L422.3,516.17 L422.8,516.1 L423.3,516.02 L423.8,515.93 L424.3,515.84 L424.8,515.75 L425.3,515.66 L425.8,515.56 L426.3,515.46 L426.8,515.36 L427.3,515.25 L427.8,515.14 L428.3,515.03 L428.8,514.91 L429.3,514.79 L429.8,514.66 L430.3,514.53 L430.8,514.4 L431.3,514.27 L431.8,514.13 L432.3,513.99 L432.8,513.84 L433.3,513.7 L433.8,513.54 L434.3,513.39 L434.8,513.23 L435.3,513.07 L435.8,512.9 L436.3,512.73 L436.8,512.56 L437.3,512.39 L437.8,512.21 L438.3,512.03 L438.8,511.84 L439.3,511.65 L439.8,511.46 L440.3,511.26 L440.8,511.06 L441.3,510.86 L441.8,510.65 L442.3,510.44 L442.8,510.23 L443.3,510.01 L443.8,509.79 L444.3,509.57 L444.8,509.34 L445.3,509.11 L445.8,508.88 L446.3,508.64 L446.8,508.4 L447.3,508.15 L447.8,507.9 L448.3,507.65 L448.8,507.4 L449.3,507.14 L449.8,506.88 L450.3,506.61 L450.8,506.34 L451.3,506.07 L451.8,505.8 L452.3,505.52 L452.8,505.24 L453.3,504.96 L453.8,504.68 L454.3,504.39 L454.8,504.11 L455.3,503.82 L455.8,503.53 L456.3,503.23 L456.8,502.94 L457.3,502.65 L457.8,502.35 L458.3,502.05 L458.8,501.76 L459.3,501.46 L459.8,501.16 L460.3,500.86 L460.8,500.56 L461.3,500.27 L461.8,499.97 L462.3,499.67 L462.8,499.37 L463.3,499.08 L463.8,498.78 L464.3,498.49 L464.8,498.19 L465.3,497.9 L465.8,497.61 L466.3,497.32 L466.8,497.03 L467.3,496.75 L467.8,496.46 L468.3,496.18 L468.8,495.9 L469.3,495.62 L469.8,495.35 L470.3,495.08 L470.8,494.81 L471.3,494.54 L471.8,494.28 L472.3,494.02 L472.8,493.77 L473.3,493.51 L473.8,493.27 L474.3,493.02 L474.8,492.78 L475.3,492.55 L475.8,492.32 L476.3,492.09 L476.8,491.87 L477.3,491.65 L477.8,491.44 L478.3,491.23 L478.8,491.02 L479.3,490.82 L479.8,490.63 L480.3,490.44 L480.8,490.25 L481.3,490.07 L481.8,489.89 L482.3,489.72 L482.8,489.55 L483.3,489.39 L483.8,489.22 L484.3,489.07 L484.8,488.92 L485.3,488.77 L485.8,488.63 L486.3,488.49 L486.8,488.35 L487.3,488.22 L487.8,488.09 L488.3,487.97 L488.8,487.85 L489.3,487.74 L489.8,487.63 L490.3,487.52 L490.8,487.42 L491.3,487.32 L491.8,487.22 L492.3,487.13 L492.8,487.05 L493.3,486.96 L493.8,486.89 L494.3,486.81 L494.8,486.74 L495.3,486.67 L495.8,486.61 L496.3,486.55 L496.8,486.49 L497.3,486.44 L497.8,486.39 L498.3,486.34 L498.8,486.3 L499.3,486.27 L499.8,486.23 L500.3,486.2 L500.8,486.17 L501.3,486.15 L501.8,486.13 L502.3,486.11 L502.8,486.1 L503.3,486.09 L503.8,486.08 L504.3,486.08 L504.8,486.08 L505.3,486.09 L505.8,486.09 L506.3,486.1 L506.8,486.12 L507.3,486.13 L507.8,486.16 L508.3,486.18 L508.8,486.2 L509.3,486.23 L509.8,486.27 L510.3,486.3 L510.8,486.34 L511.3,486.38 L511.8,486.42 L512.3,486.47 L512.8,486.52 L513.3,486.57 L513.8,486.63 L514.3,486.69 L514.8,486.75 L515.3,486.81 L515.8,486.87 L516.3,486.94 L516.8,487.01 L517.3,487.09 L517.8,487.16 L518.3,487.24 L518.8,487.32 L519.3,487.4 L519.8,487.49 L520.3,487.57 L520.8,487.66 L521.3,487.75 L521.8,487.85 L522.3,487.94 L522.8,488.04 L523.3,488.14 L523.8,488.24 L524.3,488.35 L524.8,488.45 L525.3,488.56 L525.8,488.67 L526.3,488.78 L526.8,488.89 L527.3,489.01 L527.8,489.12 L528.3,489.24 L528.8,489.36 L529.3,489.48 L529.8,489.6 L530.3,489.73 L530.8,489.85 L531.3,489.98 L531.8,490.11 L532.3,490.24 L532.8,490.37 L533.3,490.5 L533.8,490.64 L534.3,490.77 L534.8,490.91 L535.3,491.05 L535.8,491.19 L536.3,491.33 L536.8,491.47 L537.3,491.61 L537.8,491.75 L538.3,491.89 L538.8,492.04 L539.3,492.18 L539.8,492.33 L540.3,492.48 L540.8,492.63 L541.3,492.77 L541.8,492.92 L542.3,493.07 L542.8,493.22 L543.3,493.37 L543.8,493.53 L544.3,493.68 L544.8,493.83 L545.3,493.98 L545.8,494.14 L546.3,494.29 L546.8,494.44 L547.3,494.6 L547.8,494.75 L548.3,494.91 L548.8,495.06 L549.3,495.22 L549.8,495.37 L550.3,495.53 L550.8,495.69 L551.3,495.84 L551.8,496 L552.3,496.15 L552.8,496.31 L553.3,496.46 L553.8,496.62 L554.3,496.77 L554.8,496.93 L555.3,497.08 L555.8,497.23 L556.3,497.39 L556.8,497.54 L557.3,497.69 L557.8,497.84 L558.3,498 L558.8,498.15 L559.3,498.3 L559.8,498.45 L560.3,498.6 L560.8,498.74 L561.3,498.89 L561.8,499.04 L562.3,499.19 L562.8,499.33 L563.3,499.48 L563.8,499.62 L564.3,499.77 L564.8,499.91 L565.3,500.05 L565.8,500.19 L566.3,500.33 L566.8,500.47 L567.3,500.61 L567.8,500.75 L568.3,500.89 L568.8,501.03 L569.3,501.17 L569.8,501.3 L570.3,501.44 L570.8,501.57 L571.3,501.71 L571.8,501.84 L572.3,501.98 L572.8,502.11 L573.3,502.24 L573.8,502.37 L574.3,502.5 L574.8,502.63 L575.3,502.76 L575.8,502.89 L576.3,503.01 L576.8,503.14 L577.3,503.27 L577.8,503.39 L578.3,503.52 L578.8,503.64 L579.3,503.76 L579.8,503.89 L580.3,504.01 L580.8,504.13 L581.3,504.25 L581.8,504.37 L582.3,504.49 L582.8,504.61 L583.3,504.72 L583.8,504.84 L584.3,504.96 L584.8,505.07 L585.3,505.19 L585.8,505.3 L586.3,505.41 L586.8,505.53 L587.3,505.64 L587.8,505.75 L588.3,505.86 L588.8,505.97 L589.3,506.08 L589.8,506.19 L590.3,506.29 L590.8,506.4 L591.3,506.51 L591.8,506.61 L592.3,506.72 L592.8,506.82 L593.3,506.92 L593.8,507.03 L594.3,507.13 L594.8,507.23 L595.3,507.33 L595.8,507.43 L596.3,507.53 L596.8,507.63 L597.3,507.72 L597.8,507.82 L598.3,507.91 L598.8,508.01 L599.3,508.1 L599.8,508.2 L600.3,508.29 L600.8,508.38 L601.3,508.47 L601.8,508.56 L602.3,508.65 L602.8,508.74 L603.3,508.83 L603.8,508.92 L604.3,509.01 L604.8,509.09 L605.3,509.18 L605.8,509.26 L606.3,509.35 L606.8,509.43 L607.3,509.51 L607.8,509.59 L608.3,509.67 L608.8,509.75 L609.3,509.83 L609.8,509.91 L610.3,509.99 L610.8,510.07 L611.3,510.14 L611.8,510.22 L612.3,510.29 L612.8,510.37 L613.3,510.44 L613.8,510.51 L614.3,510.58 L614.8,510.65 L615.3,510.72 L615.8,510.79 L616.3,510.86 L616.8,510.93 L617.3,511 L617.8,511.06 L618.3,511.13 L618.8,511.19 L619.3,511.26 L619.8,511.32 L620.3,511.38 L620.8,511.44 L621.3,511.5 L621.8,511.56 L622.3,511.62 L622.8,511.68 L623.3,511.74 L623.8,511.79 L624.3,511.85 L624.8,511.91 L625.3,511.96 L625.8,512.01 L626.3,512.07 L626.8,512.12 L627.3,512.17 L627.8,512.22 L628.3,512.27 L628.8,512.32 L629.3,512.37 L629.8,512.41 L630.3,512.46 L630.8,512.5 L631.3,512.55 L631.8,512.59 L632.3,512.64 L632.8,512.68 L633.3,512.72 L633.8,512.76 L634.3,512.8 L634.8,512.84 L635.3,512.88 L635.8,512.92 L636.3,512.95 L636.8,512.99 L637.3,513.02 L637.8,513.06 L638.3,513.09 L638.8,513.12 L639.3,513.15 L639.8,513.19 L640.3,513.22 L640.8,513.24 L641.3,513.27 L641.8,513.3 L642.3,513.33 L642.8,513.35 L643.3,513.38 L643.8,513.4 L644.3,513.43 L644.8,513.45 L645.3,513.47 L645.8,513.49 L646.3,513.51 L646.8,513.53 L647.3,513.55 L647.8,513.57 L648.3,513.58 L648.8,513.6 L649.3,513.62 L649.8,513.63 L650.3,513.64 L650.8,513.66 L651.3,513.67 L651.8,513.68 L652.3,513.69 L652.8,513.7 L653.3,513.71 L653.8,513.71 L654.3,513.72 L654.8,513.73 L655.3,513.73 L655.8,513.73 L656.3,513.74 L656.8,513.74 L657.3,513.74 L657.8,513.74" fill="none" stroke="#ff0000" stroke-width="2.6" stroke-linejoin="round" stroke-linecap="round" />
<path d="M367.3,516.23 L368.47,514.91 L369.83,515.84 L371.4,514.57 L373.76,515.9 L374.99,514.23 L377.19,514.18 L378.41,514.43 L379.89,515.72 L381.84,514.43 L383.7,515.31 L386.04,514.76 L387.61,515.57 L389.93,514.6 L392.22,516.14 L394.23,513.72 L395.25,515.77 L397.37,514.91 L399.63,515.54 L401.36,514.96 L402.64,515.38 L403.89,515.04 L406.08,516.35 L407.2,515.35 L408.96,516.57 L410.25,515.71 L411.67,516.81 L414.04,515.22 L415.43,516.56 L417.38,516.2 L419.46,516.17 L420.86,514.81 L422.07,515.47 L424.15,513.95 L425.78,515.26 L427.18,513.58 L428.48,514.34 L430.86,512.87 L432.76,513.31 L434.5,511.51 L435.66,512.56 L437.93,510.43 L439.4,512.31 L441.51,509.79 L443.77,510.83 L445.06,507.45 L447.43,508.47 L449.68,502.77 L451.47,506.53 L453.49,503.05 L454.88,499.55 L456.89,502.06 L458.49,503.33 L459.95,499.24 L461.93,501.3 L463.46,497.47 L465.45,498.47 L467.64,494.7 L469.02,496.55 L470.31,493.22 L471.76,494.76 L473.35,492.13 L475.37,493.99 L476.98,490.55 L478.95,491.52 L481.35,488.64 L482.67,490.42 L484.74,487.89 L486.4,489.38 L487.99,486.82 L489.83,489.31 L491,485.88 L492.44,487.74 L493.82,485.95 L495.68,488.02 L496.99,480.97 L498.06,486.78 L499.11,485.09 L501.2,487.45 L503.16,484.42 L505.35,484.09 L507.29,485.09 L508.37,486.58 L510.35,484.92 L512.11,486.86 L514.46,485.83 L515.78,488.27 L516.89,485.92 L519.06,488.41 L520.65,485.08 L522.31,490.76 L524.31,486.49 L525.57,489.75 L527.2,487.46 L529.32,490.15 L531.15,489 L533.42,491.86 L535.63,489.1 L537.01,492.18 L539.13,490.86 L541.02,494.14 L542.19,492.16 L543.56,493.77 L545.61,493.97 L547.79,495.56 L549.01,493.73 L551,496.49 L552.45,494.93 L553.71,497.83 L554.85,495.91 L555.99,498.81 L557.64,495.5 L558.8,499.56 L560.65,497.53 L562.8,500.68 L564.39,497.72 L566.26,500.75 L568.43,499.19 L570.59,501.97 L572.02,500.1 L573.82,506.07 L575.48,501.8 L576.65,503.88 L577.93,502.1 L579.05,504.83 L580.36,502.41 L582.7,506.04 L584.97,504.16 L587.12,505.96 L589.31,504.18 L591.59,507.27 L592.86,505.3 L594.67,507.66 L596.2,506.45 L597.47,508.61 L598.66,505.88 L600.87,508.78 L602.77,507.19 L604.76,509.51 L607.01,508.14 L608.27,511.15 L610.66,507.96 L612.35,510.93 L613.83,508.38 L616.14,511.95 L617.51,509.37 L619.71,512.97 L620.94,509.69 L622.78,512.54 L624.65,510.34 L626.11,513.71 L627.97,510.72 L630.28,513.08 L631.81,511.03 L632.97,513.26 L634.61,511.19 L635.76,514.41 L637.68,512.12 L639.71,513.72 L640.76,511.31 L642.93,513.88 L644.89,512.3 L646.51,514.63 L647.52,511.99 L648.77,513.9 L650.41,512.61 L652.54,515.06 L653.61,512.21 L655.58,514.38 L656.61,512.5 L658,514.98" fill="none" stroke="#000" stroke-width="1.2" stroke-linejoin="round" stroke-linecap="round" />
<path d="M367.3,516.2 L367.8,516.2 L368.3,516.19 L368.8,516.19 L369.3,516.19 L369.8,516.19 L370.3,516.19 L370.8,516.18 L371.3,516.18 L371.8,516.18 L372.3,516.18 L372.8,516.17 L373.3,516.17 L373.8,516.17 L374.3,516.17 L374.8,516.16 L375.3,516.16 L375.8,516.16 L376.3,516.16 L376.8,516.15 L377.3,516.15 L377.8,516.15 L378.3,516.15 L378.8,516.14 L379.3,516.14 L379.8,516.14 L380.3,516.14 L380.8,516.13 L381.3,516.13 L381.8,516.13 L382.3,516.13 L382.8,516.12 L383.3,516.12 L383.8,516.12 L384.3,516.12 L384.8,516.11 L385.3,516.11 L385.8,516.11 L386.3,516.1 L386.8,516.1 L387.3,516.1 L387.8,516.1 L388.3,516.09 L388.8,516.09 L389.3,516.09 L389.8,516.08 L390.3,516.08 L390.8,516.08 L391.3,516.08 L391.8,516.07 L392.3,516.07 L392.8,516.07 L393.3,516.06 L393.8,516.06 L394.3,516.06 L394.8,516.05 L395.3,516.05 L395.8,516.05 L396.3,516.04 L396.8,516.04 L397.3,516.04 L397.8,516.03 L398.3,516.03 L398.8,516.02 L399.3,516.02 L399.8,516.02 L400.3,516.01 L400.8,516.01 L401.3,516 L401.8,516 L402.3,515.99 L402.8,515.99 L403.3,515.98 L403.8,515.98 L404.3,515.97 L404.8,515.97 L405.3,515.96 L405.8,515.95 L406.3,515.95 L406.8,515.94 L407.3,515.93 L407.8,515.93 L408.3,515.92 L408.8,515.91 L409.3,515.9 L409.8,515.89 L410.3,515.88 L410.8,515.88 L411.3,515.87 L411.8,515.86 L412.3,515.85 L412.8,515.84 L413.3,515.82 L413.8,515.81 L414.3,515.8 L414.8,515.79 L415.3,515.77 L415.8,515.76 L416.3,515.75 L416.8,515.73 L417.3,515.71 L417.8,515.7 L418.3,515.68 L418.8,515.66 L419.3,515.64 L419.8,515.62 L420.3,515.6 L420.8,515.58 L421.3,515.56 L421.8,515.54 L422.3,515.51 L422.8,515.49 L423.3,515.46 L423.8,515.43 L424.3,515.41 L424.8,515.38 L425.3,515.34 L425.8,515.31 L426.3,515.28 L426.8,515.24 L427.3,515.21 L427.8,515.17 L428.3,515.13 L428.8,515.09 L429.3,515.05 L429.8,515 L430.3,514.96 L430.8,514.91 L431.3,514.86 L431.8,514.81 L432.3,514.75 L432.8,514.7 L433.3,514.64 L433.8,514.58 L434.3,514.52 L434.8,514.46 L435.3,514.39 L435.8,514.32 L436.3,514.25 L436.8,514.18 L437.3,514.1 L437.8,514.02 L438.3,513.94 L438.8,513.86 L439.3,513.77 L439.8,513.68 L440.3,513.59 L440.8,513.49 L441.3,513.4 L441.8,513.29 L442.3,513.19 L442.8,513.08 L443.3,512.97 L443.8,512.86 L444.3,512.74 L444.8,512.62 L445.3,512.5 L445.8,512.37 L446.3,512.24 L446.8,512.11 L447.3,511.97 L447.8,511.83 L448.3,511.68 L448.8,511.53 L449.3,511.38 L449.8,511.23 L450.3,511.07 L450.8,510.9 L451.3,510.74 L451.8,510.57 L452.3,510.39 L452.8,510.22 L453.3,510.03 L453.8,509.85 L454.3,509.66 L454.8,509.47 L455.3,509.27 L455.8,509.07 L456.3,508.87 L456.8,508.66 L457.3,508.45 L457.8,508.23 L458.3,508.02 L458.8,507.79 L459.3,507.57 L459.8,507.34 L460.3,507.11 L460.8,506.87 L461.3,506.64 L461.8,506.4 L462.3,506.15 L462.8,505.91 L463.3,505.66 L463.8,505.41 L464.3,505.15 L464.8,504.89 L465.3,504.63 L465.8,504.37 L466.3,504.11 L466.8,503.84 L467.3,503.58 L467.8,503.31 L468.3,503.04 L468.8,502.77 L469.3,502.49 L469.8,502.22 L470.3,501.94 L470.8,501.67 L471.3,501.39 L471.8,501.12 L472.3,500.84 L472.8,500.56 L473.3,500.29 L473.8,500.01 L474.3,499.74 L474.8,499.46 L475.3,499.19 L475.8,498.92 L476.3,498.65 L476.8,498.38 L477.3,498.11 L477.8,497.84 L478.3,497.58 L478.8,497.32 L479.3,497.06 L479.8,496.81 L480.3,496.56 L480.8,496.31 L481.3,496.06 L481.8,495.82 L482.3,495.59 L482.8,495.35 L483.3,495.13 L483.8,494.9 L484.3,494.68 L484.8,494.47 L485.3,494.26 L485.8,494.06 L486.3,493.86 L486.8,493.67 L487.3,493.48 L487.8,493.3 L488.3,493.13 L488.8,492.96 L489.3,492.8 L489.8,492.64 L490.3,492.5 L490.8,492.36 L491.3,492.23 L491.8,492.1 L492.3,491.98 L492.8,491.87 L493.3,491.77 L493.8,491.67 L494.3,491.59 L494.8,491.51 L495.3,491.44 L495.8,491.37 L496.3,491.32 L496.8,491.27 L497.3,491.23 L497.8,491.2 L498.3,491.18 L498.8,491.17 L499.3,491.16 L499.8,491.17 L500.3,491.19 L500.8,491.22 L501.3,491.27 L501.8,491.32 L502.3,491.39 L502.8,491.47 L503.3,491.57 L503.8,491.67 L504.3,491.79 L504.8,491.92 L505.3,492.06 L505.8,492.21 L506.3,492.37 L506.8,492.54 L507.3,492.72 L507.8,492.92 L508.3,493.12 L508.8,493.33 L509.3,493.56 L509.8,493.79 L510.3,494.03 L510.8,494.28 L511.3,494.53 L511.8,494.79 L512.3,495.07 L512.8,495.34 L513.3,495.63 L513.8,495.92 L514.3,496.21 L514.8,496.51 L515.3,496.82 L515.8,497.13 L516.3,497.44 L516.8,497.76 L517.3,498.08 L517.8,498.41 L518.3,498.73 L518.8,499.06 L519.3,499.39 L519.8,499.73 L520.3,500.06 L520.8,500.39 L521.3,500.73 L521.8,501.06 L522.3,501.39 L522.8,501.73 L523.3,502.06 L523.8,502.39 L524.3,502.72 L524.8,503.04 L525.3,503.37 L525.8,503.69 L526.3,504.01 L526.8,504.32 L527.3,504.64 L527.8,504.95 L528.3,505.25 L528.8,505.55 L529.3,505.85 L529.8,506.14 L530.3,506.43 L530.8,506.72 L531.3,506.99 L531.8,507.27 L532.3,507.54 L532.8,507.8 L533.3,508.06 L533.8,508.31 L534.3,508.56 L534.8,508.8 L535.3,509.04 L535.8,509.27 L536.3,509.5 L536.8,509.72 L537.3,509.93 L537.8,510.14 L538.3,510.35 L538.8,510.55 L539.3,510.74 L539.8,510.92 L540.3,511.11 L540.8,511.28 L541.3,511.45 L541.8,511.62 L542.3,511.78 L542.8,511.93 L543.3,512.08 L543.8,512.22 L544.3,512.36 L544.8,512.5 L545.3,512.63 L545.8,512.75 L546.3,512.87 L546.8,512.99 L547.3,513.1 L547.8,513.2 L548.3,513.31 L548.8,513.4 L549.3,513.5 L549.8,513.59 L550.3,513.67 L550.8,513.76 L551.3,513.84 L551.8,513.91 L552.3,513.98 L552.8,514.05 L553.3,514.12 L553.8,514.18 L554.3,514.24 L554.8,514.3 L555.3,514.35 L555.8,514.4 L556.3,514.45 L556.8,514.5 L557.3,514.54 L557.8,514.58 L558.3,514.62 L558.8,514.66 L559.3,514.69 L559.8,514.72 L560.3,514.75 L560.8,514.78 L561.3,514.81 L561.8,514.84 L562.3,514.86 L562.8,514.88 L563.3,514.91 L563.8,514.93 L564.3,514.95 L564.8,514.96 L565.3,514.98 L565.8,514.99 L566.3,515.01 L566.8,515.02 L567.3,515.03 L567.8,515.05 L568.3,515.06 L568.8,515.07 L569.3,515.07 L569.8,515.08 L570.3,515.09 L570.8,515.1 L571.3,515.1 L571.8,515.11 L572.3,515.12 L572.8,515.12 L573.3,515.12 L573.8,515.13 L574.3,515.13 L574.8,515.13 L575.3,515.14 L575.8,515.14 L576.3,515.14 L576.8,515.14 L577.3,515.14 L577.8,515.14 L578.3,515.15 L578.8,515.15 L579.3,515.15 L579.8,515.15 L580.3,515.15 L580.8,515.15 L581.3,515.15 L581.8,515.15 L582.3,515.15 L582.8,515.14 L583.3,515.14 L583.8,515.14 L584.3,515.14 L584.8,515.14 L585.3,515.14 L585.8,515.14 L586.3,515.14 L586.8,515.13 L587.3,515.13 L587.8,515.13 L588.3,515.13 L588.8,515.13 L589.3,515.13 L589.8,515.12 L590.3,515.12 L590.8,515.12 L591.3,515.12 L591.8,515.12 L592.3,515.11 L592.8,515.11 L593.3,515.11 L593.8,515.11 L594.3,515.1 L594.8,515.1 L595.3,515.1 L595.8,515.1 L596.3,515.1 L596.8,515.09 L597.3,515.09 L597.8,515.09 L598.3,515.09 L598.8,515.08 L599.3,515.08 L599.8,515.08 L600.3,515.08 L600.8,515.07 L601.3,515.07 L601.8,515.07 L602.3,515.07 L602.8,515.07 L603.3,515.06 L603.8,515.06 L604.3,515.06 L604.8,515.06 L605.3,515.05 L605.8,515.05 L606.3,515.05 L606.8,515.05 L607.3,515.04 L607.8,515.04 L608.3,515.04 L608.8,515.04 L609.3,515.03 L609.8,515.03 L610.3,515.03 L610.8,515.03 L611.3,515.02 L611.8,515.02 L612.3,515.02 L612.8,515.02 L613.3,515.02 L613.8,515.01 L614.3,515.01 L614.8,515.01 L615.3,515.01 L615.8,515 L616.3,515 L616.8,515 L617.3,515 L617.8,514.99 L618.3,514.99 L618.8,514.99 L619.3,514.99 L619.8,514.98 L620.3,514.98 L620.8,514.98 L621.3,514.98 L621.8,514.97 L622.3,514.97 L622.8,514.97 L623.3,514.97 L623.8,514.96 L624.3,514.96 L624.8,514.96 L625.3,514.96 L625.8,514.96 L626.3,514.95 L626.8,514.95 L627.3,514.95 L627.8,514.95 L628.3,514.94 L628.8,514.94 L629.3,514.94 L629.8,514.94 L630.3,514.93 L630.8,514.93 L631.3,514.93 L631.8,514.93 L632.3,514.92 L632.8,514.92 L633.3,514.92 L633.8,514.92 L634.3,514.91 L634.8,514.91 L635.3,514.91 L635.8,514.91 L636.3,514.9 L636.8,514.9 L637.3,514.9 L637.8,514.9 L638.3,514.89 L638.8,514.89 L639.3,514.89 L639.8,514.89 L640.3,514.89 L640.8,514.88 L641.3,514.88 L641.8,514.88 L642.3,514.88 L642.8,514.87 L643.3,514.87 L643.8,514.87 L644.3,514.87 L644.8,514.86 L645.3,514.86 L645.8,514.86 L646.3,514.86 L646.8,514.85 L647.3,514.85 L647.8,514.85 L648.3,514.85 L648.8,514.84 L649.3,514.84 L649.8,514.84 L650.3,514.84 L650.8,514.83 L651.3,514.83 L651.8,514.83 L652.3,514.83 L652.8,514.83 L653.3,514.82 L653.8,514.82 L654.3,514.82 L654.8,514.82 L655.3,514.81 L655.8,514.81 L656.3,514.81 L656.8,514.81 L657.3,514.8 L657.8,514.8" fill="none" stroke="#c03cc0" stroke-width="1.6" stroke-linejoin="round" stroke-linecap="round" />
<path d="M367.3,516.3 L367.8,516.3 L368.3,516.3 L368.8,516.29 L369.3,516.29 L369.8,516.29 L370.3,516.29 L370.8,516.28 L371.3,516.28 L371.8,516.28 L372.3,516.28 L372.8,516.27 L373.3,516.27 L373.8,516.27 L374.3,516.27 L374.8,516.26 L375.3,516.26 L375.8,516.26 L376.3,516.26 L376.8,516.25 L377.3,516.25 L377.8,516.25 L378.3,516.25 L378.8,516.24 L379.3,516.24 L379.8,516.24 L380.3,516.24 L380.8,516.23 L381.3,516.23 L381.8,516.23 L382.3,516.23 L382.8,516.23 L383.3,516.22 L383.8,516.22 L384.3,516.22 L384.8,516.22 L385.3,516.21 L385.8,516.21 L386.3,516.21 L386.8,516.21 L387.3,516.2 L387.8,516.2 L388.3,516.2 L388.8,516.2 L389.3,516.19 L389.8,516.19 L390.3,516.19 L390.8,516.19 L391.3,516.18 L391.8,516.18 L392.3,516.18 L392.8,516.18 L393.3,516.17 L393.8,516.17 L394.3,516.17 L394.8,516.17 L395.3,516.17 L395.8,516.16 L396.3,516.16 L396.8,516.16 L397.3,516.16 L397.8,516.15 L398.3,516.15 L398.8,516.15 L399.3,516.15 L399.8,516.14 L400.3,516.14 L400.8,516.14 L401.3,516.14 L401.8,516.13 L402.3,516.13 L402.8,516.13 L403.3,516.13 L403.8,516.12 L404.3,516.12 L404.8,516.12 L405.3,516.12 L405.8,516.11 L406.3,516.11 L406.8,516.11 L407.3,516.11 L407.8,516.1 L408.3,516.1 L408.8,516.1 L409.3,516.1 L409.8,516.1 L410.3,516.09 L410.8,516.09 L411.3,516.09 L411.8,516.09 L412.3,516.08 L412.8,516.08 L413.3,516.08 L413.8,516.08 L414.3,516.07 L414.8,516.07 L415.3,516.07 L415.8,516.07 L416.3,516.06 L416.8,516.06 L417.3,516.06 L417.8,516.06 L418.3,516.05 L418.8,516.05 L419.3,516.05 L419.8,516.05 L420.3,516.04 L420.8,516.04 L421.3,516.04 L421.8,516.04 L422.3,516.03 L422.8,516.03 L423.3,516.03 L423.8,516.03 L424.3,516.02 L424.8,516.02 L425.3,516.02 L425.8,516.02 L426.3,516.01 L426.8,516.01 L427.3,516.01 L427.8,516.01 L428.3,516 L428.8,516 L429.3,516 L429.8,516 L430.3,515.99 L430.8,515.99 L431.3,515.99 L431.8,515.99 L432.3,515.98 L432.8,515.98 L433.3,515.98 L433.8,515.97 L434.3,515.97 L434.8,515.97 L435.3,515.97 L435.8,515.96 L436.3,515.96 L436.8,515.96 L437.3,515.95 L437.8,515.95 L438.3,515.95 L438.8,515.95 L439.3,515.94 L439.8,515.94 L440.3,515.94 L440.8,515.93 L441.3,515.93 L441.8,515.93 L442.3,515.92 L442.8,515.92 L443.3,515.92 L443.8,515.91 L444.3,515.91 L444.8,515.91 L445.3,515.9 L445.8,515.9 L446.3,515.89 L446.8,515.89 L447.3,515.89 L447.8,515.88 L448.3,515.88 L448.8,515.87 L449.3,515.87 L449.8,515.86 L450.3,515.86 L450.8,515.85 L451.3,515.85 L451.8,515.84 L452.3,515.84 L452.8,515.83 L453.3,515.83 L453.8,515.82 L454.3,515.81 L454.8,515.81 L455.3,515.8 L455.8,515.79 L456.3,515.79 L456.8,515.78 L457.3,515.77 L457.8,515.76 L458.3,515.76 L458.8,515.75 L459.3,515.74 L459.8,515.73 L460.3,515.72 L460.8,515.71 L461.3,515.7 L461.8,515.69 L462.3,515.68 L462.8,515.67 L463.3,515.66 L463.8,515.65 L464.3,515.63 L464.8,515.62 L465.3,515.61 L465.8,515.59 L466.3,515.58 L466.8,515.57 L467.3,515.55 L467.8,515.53 L468.3,515.52 L468.8,515.5 L469.3,515.48 L469.8,515.46 L470.3,515.45 L470.8,515.43 L471.3,515.4 L471.8,515.38 L472.3,515.36 L472.8,515.34 L473.3,515.31 L473.8,515.29 L474.3,515.26 L474.8,515.24 L475.3,515.21 L475.8,515.18 L476.3,515.15 L476.8,515.12 L477.3,515.09 L477.8,515.06 L478.3,515.03 L478.8,514.99 L479.3,514.96 L479.8,514.92 L480.3,514.88 L480.8,514.84 L481.3,514.8 L481.8,514.76 L482.3,514.72 L482.8,514.67 L483.3,514.63 L483.8,514.58 L484.3,514.53 L484.8,514.48 L485.3,514.43 L485.8,514.38 L486.3,514.32 L486.8,514.27 L487.3,514.21 L487.8,514.15 L488.3,514.09 L488.8,514.02 L489.3,513.96 L489.8,513.89 L490.3,513.83 L490.8,513.76 L491.3,513.68 L491.8,513.61 L492.3,513.54 L492.8,513.46 L493.3,513.38 L493.8,513.3 L494.3,513.22 L494.8,513.13 L495.3,513.05 L495.8,512.96 L496.3,512.87 L496.8,512.78 L497.3,512.68 L497.8,512.59 L498.3,512.49 L498.8,512.39 L499.3,512.29 L499.8,512.18 L500.3,512.08 L500.8,511.97 L501.3,511.86 L501.8,511.75 L502.3,511.63 L502.8,511.52 L503.3,511.4 L503.8,511.28 L504.3,511.16 L504.8,511.04 L505.3,510.92 L505.8,510.79 L506.3,510.66 L506.8,510.53 L507.3,510.4 L507.8,510.27 L508.3,510.13 L508.8,510 L509.3,509.86 L509.8,509.72 L510.3,509.58 L510.8,509.44 L511.3,509.3 L511.8,509.15 L512.3,509.01 L512.8,508.86 L513.3,508.71 L513.8,508.57 L514.3,508.42 L514.8,508.27 L515.3,508.12 L515.8,507.97 L516.3,507.81 L516.8,507.66 L517.3,507.51 L517.8,507.36 L518.3,507.2 L518.8,507.05 L519.3,506.89 L519.8,506.74 L520.3,506.59 L520.8,506.43 L521.3,506.28 L521.8,506.13 L522.3,505.98 L522.8,505.83 L523.3,505.68 L523.8,505.53 L524.3,505.38 L524.8,505.23 L525.3,505.08 L525.8,504.94 L526.3,504.79 L526.8,504.65 L527.3,504.51 L527.8,504.37 L528.3,504.23 L528.8,504.1 L529.3,503.97 L529.8,503.83 L530.3,503.7 L530.8,503.58 L531.3,503.45 L531.8,503.33 L532.3,503.21 L532.8,503.09 L533.3,502.98 L533.8,502.87 L534.3,502.76 L534.8,502.66 L535.3,502.55 L535.8,502.45 L536.3,502.36 L536.8,502.27 L537.3,502.18 L537.8,502.09 L538.3,502.01 L538.8,501.94 L539.3,501.86 L539.8,501.79 L540.3,501.73 L540.8,501.66 L541.3,501.6 L541.8,501.55 L542.3,501.5 L542.8,501.45 L543.3,501.41 L543.8,501.38 L544.3,501.34 L544.8,501.31 L545.3,501.29 L545.8,501.27 L546.3,501.25 L546.8,501.24 L547.3,501.23 L547.8,501.23 L548.3,501.23 L548.8,501.24 L549.3,501.25 L549.8,501.26 L550.3,501.28 L550.8,501.31 L551.3,501.33 L551.8,501.36 L552.3,501.4 L552.8,501.44 L553.3,501.49 L553.8,501.53 L554.3,501.59 L554.8,501.64 L555.3,501.7 L555.8,501.77 L556.3,501.84 L556.8,501.91 L557.3,501.98 L557.8,502.06 L558.3,502.15 L558.8,502.23 L559.3,502.32 L559.8,502.42 L560.3,502.51 L560.8,502.61 L561.3,502.72 L561.8,502.82 L562.3,502.93 L562.8,503.04 L563.3,503.16 L563.8,503.27 L564.3,503.39 L564.8,503.51 L565.3,503.64 L565.8,503.76 L566.3,503.89 L566.8,504.02 L567.3,504.15 L567.8,504.29 L568.3,504.42 L568.8,504.56 L569.3,504.7 L569.8,504.84 L570.3,504.98 L570.8,505.12 L571.3,505.27 L571.8,505.41 L572.3,505.56 L572.8,505.7 L573.3,505.85 L573.8,506 L574.3,506.15 L574.8,506.3 L575.3,506.44 L575.8,506.59 L576.3,506.74 L576.8,506.89 L577.3,507.04 L577.8,507.19 L578.3,507.33 L578.8,507.48 L579.3,507.63 L579.8,507.78 L580.3,507.92 L580.8,508.07 L581.3,508.21 L581.8,508.36 L582.3,508.5 L582.8,508.64 L583.3,508.78 L583.8,508.92 L584.3,509.06 L584.8,509.19 L585.3,509.33 L585.8,509.46 L586.3,509.6 L586.8,509.73 L587.3,509.86 L587.8,509.99 L588.3,510.11 L588.8,510.24 L589.3,510.36 L589.8,510.48 L590.3,510.6 L590.8,510.72 L591.3,510.84 L591.8,510.95 L592.3,511.07 L592.8,511.18 L593.3,511.29 L593.8,511.39 L594.3,511.5 L594.8,511.6 L595.3,511.7 L595.8,511.8 L596.3,511.9 L596.8,511.99 L597.3,512.09 L597.8,512.18 L598.3,512.27 L598.8,512.36 L599.3,512.44 L599.8,512.53 L600.3,512.62 L600.8,512.72 L601.3,512.82 L601.8,512.91 L602.3,513.01 L602.8,513.1 L603.3,513.19 L603.8,513.28 L604.3,513.37 L604.8,513.45 L605.3,513.54 L605.8,513.62 L606.3,513.7 L606.8,513.78 L607.3,513.85 L607.8,513.93 L608.3,514 L608.8,514.07 L609.3,514.14 L609.8,514.21 L610.3,514.28 L610.8,514.34 L611.3,514.41 L611.8,514.47 L612.3,514.53 L612.8,514.59 L613.3,514.65 L613.8,514.71 L614.3,514.76 L614.8,514.82 L615.3,514.87 L615.8,514.92 L616.3,514.98 L616.8,515.03 L617.3,515.07 L617.8,515.12 L618.3,515.17 L618.8,515.21 L619.3,515.26 L619.8,515.3 L620.3,515.34 L620.8,515.39 L621.3,515.43 L621.8,515.47 L622.3,515.51 L622.8,515.54 L623.3,515.58 L623.8,515.62 L624.3,515.65 L624.8,515.69 L625.3,515.72 L625.8,515.76 L626.3,515.79 L626.8,515.82 L627.3,515.86 L627.8,515.89 L628.3,515.92 L628.8,515.95 L629.3,515.98 L629.8,516.01 L630.3,516.02 L630.8,516.03 L631.3,516.04 L631.8,516.05 L632.3,516.05 L632.8,516.06 L633.3,516.06 L633.8,516.07 L634.3,516.08 L634.8,516.08 L635.3,516.08 L635.8,516.09 L636.3,516.09 L636.8,516.1 L637.3,516.1 L637.8,516.1 L638.3,516.11 L638.8,516.11 L639.3,516.11 L639.8,516.11 L640.3,516.11 L640.8,516.12 L641.3,516.12 L641.8,516.12 L642.3,516.12 L642.8,516.12 L643.3,516.12 L643.8,516.12 L644.3,516.12 L644.8,516.12 L645.3,516.12 L645.8,516.12 L646.3,516.12 L646.8,516.12 L647.3,516.12 L647.8,516.12 L648.3,516.12 L648.8,516.12 L649.3,516.12 L649.8,516.12 L650.3,516.12 L650.8,516.11 L651.3,516.11 L651.8,516.11 L652.3,516.11 L652.8,516.11 L653.3,516.11 L653.8,516.11 L654.3,516.1 L654.8,516.1 L655.3,516.1 L655.8,516.1 L656.3,516.1 L656.8,516.1 L657.3,516.09 L657.8,516.09" fill="none" stroke="#20a45e" stroke-width="1.6" stroke-linejoin="round" stroke-linecap="round" />
<path d="M367.3,517.8 L658,516.4" fill="none" stroke="#3b7dc0" stroke-width="2.0" stroke-linejoin="round" stroke-linecap="round" />
<path d="M367.3,418.3 L658,418.3 L658,572.1 L367.3,572.1 Z" fill="none" stroke="#1a1a1a" stroke-width="1.9" stroke-linejoin="miter"/>
<path d="M375.7,435.4 L389.7,435.4" fill="none" stroke="#111" stroke-width="1.5" stroke-linejoin="round" stroke-linecap="butt"/>
<path d="M375.4,452.3 L391.2,452.3" fill="none" stroke="#ff0000" stroke-width="2.8" stroke-linejoin="round" stroke-linecap="butt"/>
<path d="M375.4,472.5 L391.2,472.5" fill="none" stroke="#c03cc0" stroke-width="1.5" stroke-linejoin="round" stroke-linecap="butt"/>
<path d="M375.5,492 L391.2,492" fill="none" stroke="#20a45e" stroke-width="1.5" stroke-linejoin="round" stroke-linecap="butt"/>
<text x="392.4" y="437.9" font-size="10.5" text-anchor="start" font-weight="normal" fill="#111" >Raw curve</text>
<text x="391.9" y="455.7" font-size="10.5" text-anchor="start" font-weight="normal" fill="#111" >Global fitting curve</text>
<text x="391.9" y="475.9" font-size="10.5" text-anchor="start" font-weight="normal" fill="#111" >Si-O-C</text>
<text x="391.9" y="495.6" font-size="10.5" text-anchor="start" font-weight="normal" fill="#111" >Si-O-Si</text>
<text x="367.3" y="586" font-size="9.3" text-anchor="middle" font-weight="bold" fill="#111" >96</text>
<text x="403.64" y="586" font-size="9.3" text-anchor="middle" font-weight="bold" fill="#111" >97</text>
<text x="439.98" y="586" font-size="9.3" text-anchor="middle" font-weight="bold" fill="#111" >98</text>
<text x="476.31" y="586" font-size="9.3" text-anchor="middle" font-weight="bold" fill="#111" >99</text>
<text x="512.65" y="586" font-size="9.3" text-anchor="middle" font-weight="bold" fill="#111" >100</text>
<text x="548.99" y="586" font-size="9.3" text-anchor="middle" font-weight="bold" fill="#111" >101</text>
<text x="585.33" y="586" font-size="9.3" text-anchor="middle" font-weight="bold" fill="#111" >102</text>
<text x="621.66" y="586" font-size="9.3" text-anchor="middle" font-weight="bold" fill="#111" >103</text>
<text x="658" y="586" font-size="9.3" text-anchor="middle" font-weight="bold" fill="#111" >104</text>
<text x="512.8" y="596.9" font-size="11.9" text-anchor="middle" font-weight="normal" fill="#111" >Binding energy(eV)</text>
<text x="360.8" y="502" font-size="12.9" text-anchor="middle" font-weight="normal" fill="#111" transform="rotate(-90 360.8 502)" >Intensity(counts.)</text>
</svg>
</body></html>
